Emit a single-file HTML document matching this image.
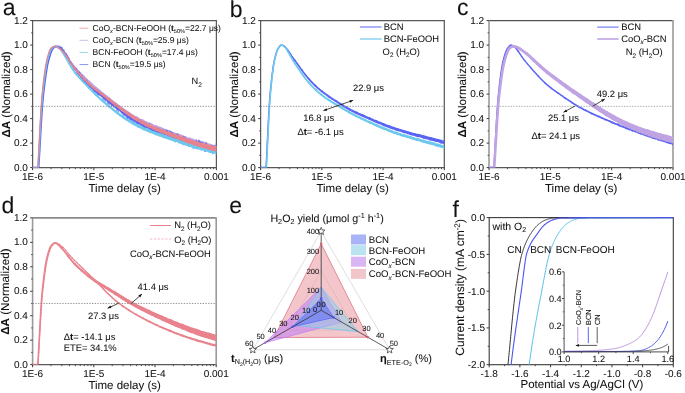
<!DOCTYPE html>
<html><head><meta charset="utf-8"><style>
html,body{margin:0;padding:0;background:#fff;}
svg{display:block;filter:blur(0.35px);}
text{font-family:"Liberation Sans", sans-serif;text-rendering:geometricPrecision;fill:#111;stroke:#111;stroke-width:0.05px;}
</style></head><body>
<svg width="685" height="393" viewBox="0 0 685 393">
<rect width="685" height="393" fill="#fff"/>
<line x1="32.60" y1="20.60" x2="216.40" y2="20.60" stroke="#5a5a5a" stroke-width="1.25" />
<line x1="32.60" y1="167.60" x2="216.40" y2="167.60" stroke="#5a5a5a" stroke-width="1.25" />
<line x1="32.60" y1="20.00" x2="32.60" y2="168.20" stroke="#5a5a5a" stroke-width="1.25" />
<line x1="216.40" y1="20.00" x2="216.40" y2="168.20" stroke="#5a5a5a" stroke-width="1.25" />
<line x1="30.20" y1="167.60" x2="32.60" y2="167.60" stroke="#3a3a3a" stroke-width="1.0" />
<text x="27.80" y="170.70" font-size="10.0" text-anchor="end" >0.0</text>
<line x1="31.20" y1="155.35" x2="32.60" y2="155.35" stroke="#3a3a3a" stroke-width="0.9" />
<line x1="30.20" y1="143.10" x2="32.60" y2="143.10" stroke="#3a3a3a" stroke-width="1.0" />
<text x="27.80" y="146.20" font-size="10.0" text-anchor="end" >0.2</text>
<line x1="31.20" y1="130.85" x2="32.60" y2="130.85" stroke="#3a3a3a" stroke-width="0.9" />
<line x1="30.20" y1="118.60" x2="32.60" y2="118.60" stroke="#3a3a3a" stroke-width="1.0" />
<text x="27.80" y="121.70" font-size="10.0" text-anchor="end" >0.4</text>
<line x1="31.20" y1="106.35" x2="32.60" y2="106.35" stroke="#3a3a3a" stroke-width="0.9" />
<line x1="30.20" y1="94.10" x2="32.60" y2="94.10" stroke="#3a3a3a" stroke-width="1.0" />
<text x="27.80" y="97.20" font-size="10.0" text-anchor="end" >0.6</text>
<line x1="31.20" y1="81.85" x2="32.60" y2="81.85" stroke="#3a3a3a" stroke-width="0.9" />
<line x1="30.20" y1="69.60" x2="32.60" y2="69.60" stroke="#3a3a3a" stroke-width="1.0" />
<text x="27.80" y="72.70" font-size="10.0" text-anchor="end" >0.8</text>
<line x1="31.20" y1="57.35" x2="32.60" y2="57.35" stroke="#3a3a3a" stroke-width="0.9" />
<line x1="30.20" y1="45.10" x2="32.60" y2="45.10" stroke="#3a3a3a" stroke-width="1.0" />
<text x="27.80" y="48.20" font-size="10.0" text-anchor="end" >1.0</text>
<line x1="31.20" y1="32.85" x2="32.60" y2="32.85" stroke="#3a3a3a" stroke-width="0.9" />
<line x1="30.20" y1="20.60" x2="32.60" y2="20.60" stroke="#3a3a3a" stroke-width="1.0" />
<text x="27.80" y="23.70" font-size="10.0" text-anchor="end" >1.2</text>
<line x1="32.60" y1="167.60" x2="32.60" y2="170.20" stroke="#3a3a3a" stroke-width="1.0" />
<text x="32.60" y="180.10" font-size="10.0" text-anchor="middle" >1E-6</text>
<line x1="51.04" y1="167.60" x2="51.04" y2="169.10" stroke="#3a3a3a" stroke-width="0.9" />
<line x1="61.83" y1="167.60" x2="61.83" y2="169.10" stroke="#3a3a3a" stroke-width="0.9" />
<line x1="69.49" y1="167.60" x2="69.49" y2="169.10" stroke="#3a3a3a" stroke-width="0.9" />
<line x1="75.42" y1="167.60" x2="75.42" y2="169.10" stroke="#3a3a3a" stroke-width="0.9" />
<line x1="80.27" y1="167.60" x2="80.27" y2="169.10" stroke="#3a3a3a" stroke-width="0.9" />
<line x1="84.38" y1="167.60" x2="84.38" y2="169.10" stroke="#3a3a3a" stroke-width="0.9" />
<line x1="87.93" y1="167.60" x2="87.93" y2="169.10" stroke="#3a3a3a" stroke-width="0.9" />
<line x1="91.06" y1="167.60" x2="91.06" y2="169.10" stroke="#3a3a3a" stroke-width="0.9" />
<line x1="93.87" y1="167.60" x2="93.87" y2="170.20" stroke="#3a3a3a" stroke-width="1.0" />
<text x="93.87" y="180.10" font-size="10.0" text-anchor="middle" >1E-5</text>
<line x1="112.31" y1="167.60" x2="112.31" y2="169.10" stroke="#3a3a3a" stroke-width="0.9" />
<line x1="123.10" y1="167.60" x2="123.10" y2="169.10" stroke="#3a3a3a" stroke-width="0.9" />
<line x1="130.75" y1="167.60" x2="130.75" y2="169.10" stroke="#3a3a3a" stroke-width="0.9" />
<line x1="136.69" y1="167.60" x2="136.69" y2="169.10" stroke="#3a3a3a" stroke-width="0.9" />
<line x1="141.54" y1="167.60" x2="141.54" y2="169.10" stroke="#3a3a3a" stroke-width="0.9" />
<line x1="145.64" y1="167.60" x2="145.64" y2="169.10" stroke="#3a3a3a" stroke-width="0.9" />
<line x1="149.20" y1="167.60" x2="149.20" y2="169.10" stroke="#3a3a3a" stroke-width="0.9" />
<line x1="152.33" y1="167.60" x2="152.33" y2="169.10" stroke="#3a3a3a" stroke-width="0.9" />
<line x1="155.13" y1="167.60" x2="155.13" y2="170.20" stroke="#3a3a3a" stroke-width="1.0" />
<text x="155.13" y="180.10" font-size="10.0" text-anchor="middle" >1E-4</text>
<line x1="173.58" y1="167.60" x2="173.58" y2="169.10" stroke="#3a3a3a" stroke-width="0.9" />
<line x1="184.36" y1="167.60" x2="184.36" y2="169.10" stroke="#3a3a3a" stroke-width="0.9" />
<line x1="192.02" y1="167.60" x2="192.02" y2="169.10" stroke="#3a3a3a" stroke-width="0.9" />
<line x1="197.96" y1="167.60" x2="197.96" y2="169.10" stroke="#3a3a3a" stroke-width="0.9" />
<line x1="202.81" y1="167.60" x2="202.81" y2="169.10" stroke="#3a3a3a" stroke-width="0.9" />
<line x1="206.91" y1="167.60" x2="206.91" y2="169.10" stroke="#3a3a3a" stroke-width="0.9" />
<line x1="210.46" y1="167.60" x2="210.46" y2="169.10" stroke="#3a3a3a" stroke-width="0.9" />
<line x1="213.60" y1="167.60" x2="213.60" y2="169.10" stroke="#3a3a3a" stroke-width="0.9" />
<line x1="216.40" y1="167.60" x2="216.40" y2="170.20" stroke="#3a3a3a" stroke-width="1.0" />
<text x="216.40" y="180.10" font-size="10.0" text-anchor="middle" >0.001</text>
<text x="124.70" y="191.90" font-size="11.5" text-anchor="middle" >Time delay (s)</text>
<text transform="translate(9.80,94.45) rotate(-90) scale(1.0,1)" font-size="11.6" text-anchor="middle" ><tspan font-weight="bold">ΔA</tspan> (Normalized)</text>
<text x="2.70" y="14.50" font-size="23" text-anchor="start" >a</text>
<clipPath id="cl1"><rect x="32.60" y="17.60" width="183.80" height="150.00"/></clipPath><g clip-path="url(#cl1)">
<path d="M32.60,167.60 L32.85,167.60 L33.09,167.60 L33.34,167.60 L33.58,167.60 L33.83,167.60 L34.07,167.60 L34.32,167.60 L34.56,167.60 L34.81,167.60 L35.05,167.60 L35.30,167.60 L35.54,167.60 L35.79,167.60 L36.03,167.60 L36.28,167.60 L36.52,167.60 L36.77,167.60 L37.01,167.60 L37.26,167.60 L37.50,167.60 L37.75,167.60 L37.99,167.60 L38.24,165.59 L38.48,161.53 L38.73,157.35 L38.97,153.04 L39.22,148.67 L39.46,144.26 L39.71,139.84 L39.95,135.42 L40.20,131.05 L40.44,126.75 L40.69,122.55 L40.93,118.46 L41.18,114.51 L41.42,110.78 L41.67,107.25 L41.91,103.95 L42.16,100.90 L42.40,98.11 L42.65,95.68 L42.89,93.33 L43.14,91.05 L43.38,88.83 L43.63,86.66 L43.87,84.57 L44.12,82.54 L44.36,80.57 L44.61,78.66 L44.85,76.81 L45.10,75.04 L45.34,73.34 L45.59,71.70 L45.83,70.13 L46.08,68.62 L46.32,67.20 L46.57,65.84 L46.81,64.56 L47.06,63.34 L47.30,62.20 L47.55,61.14 L47.79,60.16 L48.04,59.23 L48.28,58.33 L48.53,57.44 L48.77,56.58 L49.02,55.74 L49.26,54.93 L49.51,54.15 L49.75,53.39 L50.00,52.68 L50.24,52.00 L50.49,51.36 L50.73,50.76 L50.98,50.21 L51.23,49.72 L51.47,49.28 L51.72,48.89 L51.96,48.55 L52.21,48.27 L52.45,48.06 L52.70,47.86 L52.94,47.67 L53.19,47.48 L53.43,47.30 L53.68,47.13 L53.92,46.98 L54.17,46.84 L54.41,46.71 L54.66,46.60 L54.90,46.50 L55.15,46.43 L55.39,46.38 L55.64,46.34 L55.88,46.32" fill="none" stroke="#BFA3E3" stroke-width="1.4" stroke-linejoin="round"  stroke-linecap="round"/>
<path d="M55.88,46.32 L56.48,46.37 L57.08,46.49 L57.68,46.68 L58.28,46.94 L58.88,47.29 L59.48,47.69 L60.08,48.16 L60.68,48.68 L61.28,49.25 L61.88,49.87 L62.48,50.53 L62.57,50.63" fill="none" stroke="#BFA3E3" stroke-width="1.4458333333333333" stroke-linejoin="round"  stroke-linecap="round"/>
<path d="M62.57,50.60 L63.17,51.34 L63.77,52.06 L64.37,52.89 L64.97,53.63 L65.57,54.51 L66.17,55.30 L66.77,56.20 L67.37,57.04 L67.97,57.92 L68.57,58.82 L69.17,59.63 L69.26,59.79" fill="none" stroke="#BFA3E3" stroke-width="1.5374999999999999" stroke-linejoin="round"  stroke-linecap="round"/>
<path d="M69.26,59.74 L69.86,60.71 L70.46,61.50 L71.06,62.28 L71.66,63.21 L72.26,63.99 L72.86,64.66 L73.46,65.44 L74.06,66.13 L74.66,66.85 L75.26,67.57 L75.86,68.19 L75.95,68.33" fill="none" stroke="#BFA3E3" stroke-width="1.6291666666666667" stroke-linejoin="round"  stroke-linecap="round"/>
<path d="M75.95,68.36 L76.55,68.91 L77.15,69.58 L77.75,70.33 L78.35,70.90 L78.95,71.53 L79.55,72.19 L80.15,72.79 L80.75,73.40 L81.35,73.95 L81.95,74.69 L82.55,75.34 L82.63,75.35" fill="none" stroke="#BFA3E3" stroke-width="1.7208333333333332" stroke-linejoin="round"  stroke-linecap="round"/>
<path d="M82.63,75.45 L83.23,75.99 L83.83,76.52 L84.43,77.13 L85.03,77.80 L85.63,78.38 L86.23,78.85 L86.83,79.46 L87.43,80.07 L88.03,80.67 L88.63,81.31 L89.23,81.81 L89.32,81.89" fill="none" stroke="#BFA3E3" stroke-width="1.8125" stroke-linejoin="round"  stroke-linecap="round"/>
<path d="M89.32,81.76 L89.92,82.54 L90.52,82.99 L91.12,83.56 L91.72,84.03 L92.32,84.63 L92.92,85.15 L93.52,85.79 L94.12,86.14 L94.72,86.78 L95.32,87.20 L95.92,87.85 L96.01,87.88" fill="none" stroke="#BFA3E3" stroke-width="1.9041666666666666" stroke-linejoin="round"  stroke-linecap="round"/>
<path d="M96.01,87.72 L96.61,88.31 L97.21,88.84 L97.81,89.44 L98.41,89.75 L99.01,90.38 L99.61,90.80 L100.21,91.31 L100.81,91.87 L101.41,92.51 L102.01,92.85 L102.61,93.48 L102.70,93.41" fill="none" stroke="#BFA3E3" stroke-width="1.9958333333333331" stroke-linejoin="round"  stroke-linecap="round"/>
<path d="M102.70,93.28 L103.30,94.05 L103.90,94.32 L104.50,94.74 L105.10,95.43 L105.70,95.97 L106.30,96.11 L106.90,96.68 L107.50,97.35 L108.10,97.66 L108.70,98.10 L109.30,98.49 L109.39,98.74" fill="none" stroke="#BFA3E3" stroke-width="2.0875" stroke-linejoin="round"  stroke-linecap="round"/>
<path d="M109.39,98.55 L109.99,99.27 L110.59,99.90 L111.19,100.37 L111.79,100.64 L112.39,100.90 L112.99,101.50 L113.59,102.17 L114.19,102.65 L114.79,103.04 L115.39,103.33 L115.99,103.92 L116.08,103.97" fill="none" stroke="#BFA3E3" stroke-width="2.1791666666666667" stroke-linejoin="round"  stroke-linecap="round"/>
<path d="M116.08,103.96 L116.68,104.49 L117.28,104.78 L117.88,105.56 L118.48,105.99 L119.08,106.09 L119.68,106.60 L120.28,107.33 L120.88,107.49 L121.48,108.24 L122.08,108.48 L122.68,109.00 L122.76,108.97" fill="none" stroke="#BFA3E3" stroke-width="2.270833333333333" stroke-linejoin="round"  stroke-linecap="round"/>
<path d="M122.76,109.08 L123.36,109.25 L123.96,109.71 L124.56,110.12 L125.16,110.76 L125.76,111.18 L126.36,111.30 L126.96,112.10 L127.56,112.26 L128.16,112.56 L128.76,113.06 L129.36,113.73 L129.45,113.54" fill="none" stroke="#BFA3E3" stroke-width="2.3625" stroke-linejoin="round"  stroke-linecap="round"/>
<path d="M129.45,113.57 L130.05,113.99 L130.65,114.54 L131.25,114.94 L131.85,115.19 L132.45,115.36 L133.05,115.82 L133.65,116.36 L134.25,116.64 L134.85,116.87 L135.45,117.08 L136.05,117.43 L136.14,117.55" fill="none" stroke="#BFA3E3" stroke-width="2.4541666666666666" stroke-linejoin="round"  stroke-linecap="round"/>
<path d="M136.14,117.70 L136.74,117.92 L137.34,117.91 L137.94,118.66 L138.54,119.10 L139.14,119.35 L139.74,119.73 L140.34,120.04 L140.94,120.11 L141.54,120.57 L142.14,120.60 L142.74,120.72 L142.83,121.01" fill="none" stroke="#BFA3E3" stroke-width="2.5458333333333334" stroke-linejoin="round"  stroke-linecap="round"/>
<path d="M142.83,120.92 L143.43,121.18 L144.03,121.90 L144.63,122.02 L145.23,122.21 L145.83,122.55 L146.43,122.49 L147.03,123.05 L147.63,123.43 L148.23,123.50 L148.83,123.66 L149.43,124.04 L149.52,124.14" fill="none" stroke="#BFA3E3" stroke-width="2.6375" stroke-linejoin="round"  stroke-linecap="round"/>
<path d="M149.52,124.01 L150.12,124.53 L150.72,124.40 L151.32,124.62 L151.92,125.03 L152.52,125.56 L153.12,125.86 L153.72,126.03 L154.32,126.48 L154.92,126.31 L155.52,126.31 L156.12,126.88 L156.21,126.93" fill="none" stroke="#BFA3E3" stroke-width="2.7291666666666665" stroke-linejoin="round"  stroke-linecap="round"/>
<path d="M156.21,126.88 L156.81,126.92 L157.41,127.53 L158.01,127.52 L158.61,127.67 L159.21,127.98 L159.81,128.69 L160.41,128.20 L161.01,128.70 L161.61,128.87 L162.21,129.04 L162.81,129.45 L162.89,129.54" fill="none" stroke="#BFA3E3" stroke-width="2.8208333333333337" stroke-linejoin="round"  stroke-linecap="round"/>
<path d="M162.89,129.31 L163.49,130.11 L164.09,130.00 L164.69,130.39 L165.29,130.17 L165.89,130.65 L166.49,131.00 L167.09,131.42 L167.69,131.16 L168.29,131.56 L168.89,132.12 L169.49,132.33 L169.58,132.09" fill="none" stroke="#BFA3E3" stroke-width="2.9125" stroke-linejoin="round"  stroke-linecap="round"/>
<path d="M169.58,131.85 L170.18,132.35 L170.78,132.77 L171.38,132.68 L171.98,133.15 L172.58,133.37 L173.18,133.87 L173.78,133.73 L174.38,134.07 L174.98,134.01 L175.58,134.57 L176.18,134.44 L176.27,134.62" fill="none" stroke="#BFA3E3" stroke-width="3.0041666666666664" stroke-linejoin="round"  stroke-linecap="round"/>
<path d="M176.27,134.62 L176.87,134.72 L177.47,134.90 L178.07,134.97 L178.67,135.28 L179.27,135.80 L179.87,135.75 L180.47,135.78 L181.07,136.71 L181.67,136.45 L182.27,137.27 L182.87,137.18 L182.96,137.12" fill="none" stroke="#BFA3E3" stroke-width="3.095833333333333" stroke-linejoin="round"  stroke-linecap="round"/>
<path d="M182.96,137.01 L183.56,137.71 L184.16,137.95 L184.76,137.60 L185.36,137.63 L185.96,138.35 L186.56,138.76 L187.16,138.74 L187.76,139.13 L188.36,138.97 L188.96,139.38 L189.56,139.24 L189.65,139.50" fill="none" stroke="#BFA3E3" stroke-width="3.1875" stroke-linejoin="round"  stroke-linecap="round"/>
<path d="M189.65,139.41 L190.25,139.59 L190.85,139.80 L191.45,140.01 L192.05,140.63 L192.65,140.18 L193.25,140.41 L193.85,140.66 L194.45,141.59 L195.05,141.32 L195.65,141.03 L196.25,142.02 L196.34,141.71" fill="none" stroke="#BFA3E3" stroke-width="3.279166666666667" stroke-linejoin="round"  stroke-linecap="round"/>
<path d="M196.34,142.11 L196.94,142.24 L197.54,141.93 L198.14,142.52 L198.74,142.24 L199.34,142.24 L199.94,143.21 L200.54,143.35 L201.14,142.86 L201.74,143.75 L202.34,143.01 L202.94,143.49 L203.02,143.72" fill="none" stroke="#BFA3E3" stroke-width="3.3708333333333336" stroke-linejoin="round"  stroke-linecap="round"/>
<path d="M203.02,143.17 L203.62,143.52 L204.22,143.69 L204.82,144.48 L205.42,144.17 L206.02,144.22 L206.62,144.38 L207.22,144.69 L207.82,145.48 L208.42,145.35 L209.02,144.95 L209.62,145.77 L209.71,145.58" fill="none" stroke="#BFA3E3" stroke-width="3.4625" stroke-linejoin="round"  stroke-linecap="round"/>
<path d="M209.71,145.63 L210.31,145.69 L210.91,145.94 L211.51,146.25 L212.11,146.58 L212.71,146.39 L213.31,146.70 L213.91,146.66 L214.51,147.02 L215.11,146.88 L215.71,147.07 L216.31,147.34 L216.40,147.35" fill="none" stroke="#BFA3E3" stroke-width="3.5541666666666667" stroke-linejoin="round"  stroke-linecap="round"/>
<path d="M57.11,46.09 L57.56,46.66 L58.01,48.58 L58.46,46.41 L58.91,46.81 L59.36,47.46 L59.81,45.69 L60.26,47.70 L60.71,48.69 L61.16,49.95 L61.61,46.79 L62.06,48.36 L62.51,47.78 L62.96,52.11 L63.41,52.09 L63.86,49.26 L64.31,54.90 L64.76,55.48 L65.21,54.51 L65.66,55.01 L66.11,53.26 L66.56,53.21 L67.01,56.74 L67.46,54.93 L67.91,56.39 L68.36,57.43 L68.81,57.01 L69.26,60.16 L69.71,60.79 L70.16,63.77 L70.61,62.71 L71.06,64.12 L71.51,64.04 L71.96,65.66 L72.41,65.18 L72.86,64.83 L73.31,69.58 L73.76,70.21 L74.21,69.95 L74.66,69.79 L75.11,68.11 L75.56,68.19 L76.01,69.11 L76.46,68.39 L76.91,73.02 L77.36,71.43 L77.81,74.61 L78.26,72.44 L78.71,76.38 L79.16,76.27 L79.61,71.74 L80.06,73.52 L80.51,78.27 L80.96,76.15 L81.41,79.77 L81.86,76.75 L82.31,75.28 L82.76,79.20 L83.21,80.63 L83.66,78.00 L84.11,77.37 L84.56,79.38 L85.01,83.80 L85.46,83.01 L85.91,79.49 L86.36,80.78 L86.81,80.33 L87.26,80.53 L87.71,85.67 L88.16,82.19 L88.61,85.07 L89.06,84.81 L89.51,83.60 L89.96,87.52 L90.41,84.07 L90.86,87.81 L91.31,84.81 L91.76,87.20 L92.21,86.24 L92.66,87.02 L93.11,92.02 L93.56,91.32 L94.01,88.41 L94.46,92.64 L94.91,88.53 L95.36,90.13 L95.81,93.58 L96.26,92.52 L96.71,89.24 L97.16,95.60 L97.61,90.71 L98.06,91.36 L98.51,95.22 L98.96,92.55 L99.41,92.67 L99.86,91.49 L100.31,91.95 L100.76,95.70 L101.21,93.69 L101.66,96.53 L102.11,95.28 L102.56,96.20 L103.01,100.10 L103.46,97.12 L103.91,98.11 L104.36,100.53 L104.81,96.04 L105.26,96.18 L105.71,101.91 L106.16,101.62 L106.61,97.91 L107.06,97.83 L107.51,102.15 L107.96,103.96 L108.41,98.94 L108.86,104.77 L109.31,104.64 L109.76,102.97 L110.21,102.00 L110.66,100.03 L111.11,99.90 L111.56,107.08 L112.01,102.09 L112.46,105.91 L112.91,102.94 L113.36,107.53 L113.81,106.20 L114.26,104.29 L114.71,103.76 L115.16,108.23 L115.61,103.66 L116.06,105.22 L116.51,108.10 L116.96,110.69 L117.41,109.24 L117.86,107.04 L118.31,112.29 L118.76,107.15 L119.21,106.05 L119.66,108.35 L120.11,110.07 L120.56,107.42 L121.01,108.66 L121.46,110.51 L121.91,112.45 L122.36,109.33 L122.81,111.48 L123.26,116.00 L123.71,117.05 L124.16,114.82 L124.61,115.43 L125.06,114.91 L125.51,111.68 L125.96,111.15 L126.41,111.33 L126.86,118.83 L127.31,117.47 L127.76,119.91 L128.21,112.58 L128.66,117.88 L129.11,116.93 L129.56,119.26 L130.01,116.19 L130.46,122.08 L130.91,114.76 L131.36,118.93 L131.81,120.80 L132.26,122.44 L132.71,121.37 L133.16,121.37 L133.61,122.40 L134.06,123.70 L134.51,119.24 L134.96,122.31 L135.41,124.39 L135.86,124.41 L136.31,120.82 L136.76,124.24 L137.21,125.12 L137.66,122.89 L138.11,123.58 L138.56,121.74 L139.01,123.70 L139.46,124.16 L139.91,119.83 L140.36,124.89 L140.81,128.19 L141.26,127.44 L141.71,126.35 L142.16,123.60 L142.61,126.85 L143.06,125.72 L143.51,124.71 L143.96,128.44 L144.41,121.99 L144.86,128.10 L145.31,121.92 L145.76,127.21 L146.21,126.34 L146.66,124.31 L147.11,128.70 L147.56,127.10 L148.01,128.35 L148.46,131.31 L148.91,125.51 L149.36,123.48 L149.81,126.29 L150.26,129.91 L150.71,125.76 L151.16,125.64 L151.61,132.56 L152.06,130.50 L152.51,128.68 L152.96,133.00 L153.41,127.97 L153.86,131.28 L154.31,127.13 L154.76,129.46 L155.21,133.12 L155.66,134.31 L156.11,134.17 L156.56,129.70 L157.01,131.74 L157.46,129.40 L157.91,127.86 L158.36,131.43 L158.81,134.82 L159.26,135.10 L159.71,133.97 L160.16,136.41 L160.61,130.16 L161.06,129.29 L161.51,132.14 L161.96,130.62 L162.41,130.19 L162.86,132.28 L163.31,134.48 L163.76,133.37 L164.21,131.80 L164.66,137.05 L165.11,138.61 L165.56,133.61 L166.01,130.07 L166.46,129.80 L166.91,138.22 L167.36,130.20 L167.81,136.93 L168.26,135.73 L168.71,133.30 L169.16,138.25 L169.61,130.73 L170.06,132.04 L170.51,135.38 L170.96,131.24 L171.41,139.45 L171.86,133.67 L172.31,132.86 L172.76,132.06 L173.21,138.09 L173.66,136.40 L174.11,138.42 L174.56,138.84 L175.01,140.55 L175.46,142.26 L175.91,139.62 L176.36,134.82 L176.81,137.80 L177.26,134.91 L177.71,133.33 L178.16,138.24 L178.61,140.89 L179.06,135.51 L179.51,136.63 L179.96,137.54 L180.41,141.36 L180.86,139.67 L181.31,140.81 L181.76,142.45 L182.21,138.80 L182.66,143.14 L183.11,144.50 L183.56,136.02 L184.01,145.10 L184.46,143.03 L184.91,136.90 L185.36,140.48 L185.81,142.46 L186.26,145.65 L186.71,140.10 L187.16,142.30 L187.61,145.78 L188.06,145.05 L188.51,146.79 L188.96,141.75 L189.41,143.92 L189.86,139.23 L190.31,144.98 L190.76,146.17 L191.21,144.39 L191.66,145.36 L192.11,139.99 L192.56,147.64 L193.01,148.66 L193.46,148.77 L193.91,144.07 L194.36,147.00 L194.81,141.94 L195.26,148.60 L195.71,148.13 L196.16,142.63 L196.61,139.80 L197.06,143.91 L197.51,145.26 L197.96,147.83 L198.41,144.81 L198.86,139.78 L199.31,148.67 L199.76,140.41 L200.21,148.83 L200.66,141.86 L201.11,143.81 L201.56,149.07 L202.01,141.83 L202.46,142.04 L202.91,146.34 L203.36,148.83 L203.81,150.28 L204.26,148.68 L204.71,151.74 L205.16,146.65 L205.61,152.02 L206.06,142.18 L206.51,143.85 L206.96,147.49 L207.41,144.86 L207.86,150.07 L208.31,149.13 L208.76,147.89 L209.21,151.75 L209.66,148.55 L210.11,145.75 L210.56,146.67 L211.01,152.23 L211.46,153.00 L211.91,144.94 L212.36,152.64 L212.81,154.14 L213.26,148.99 L213.71,149.68 L214.16,145.36 L214.61,149.45 L215.06,149.16 L215.51,150.49 L215.96,143.67" fill="none" stroke="#5A64F2" stroke-width="0.6" stroke-linejoin="round" />
<path d="M32.60,167.60 L32.85,167.60 L33.09,167.60 L33.34,167.60 L33.58,167.60 L33.83,167.60 L34.07,167.60 L34.32,167.60 L34.56,167.60 L34.81,167.60 L35.05,167.60 L35.30,167.60 L35.54,167.60 L35.79,167.60 L36.03,167.60 L36.28,167.60 L36.52,167.60 L36.77,167.60 L37.01,167.60 L37.26,167.60 L37.50,167.60 L37.75,167.60 L37.99,167.60 L38.24,167.60 L38.48,167.60 L38.73,167.60 L38.97,163.72 L39.22,159.72 L39.46,155.62 L39.71,151.44 L39.95,147.21 L40.20,142.93 L40.44,138.66 L40.69,134.40 L40.93,130.18 L41.18,126.03 L41.42,121.99 L41.67,118.07 L41.91,114.28 L42.16,110.66 L42.40,107.21 L42.65,104.04 L42.89,101.10 L43.14,98.43 L43.38,95.98 L43.63,93.70 L43.87,91.50 L44.12,89.34 L44.36,87.24 L44.61,85.19 L44.85,83.20 L45.10,81.28 L45.34,79.42 L45.59,77.61 L45.83,75.86 L46.08,74.17 L46.32,72.56 L46.57,71.01 L46.81,69.52 L47.06,68.09 L47.30,66.73 L47.55,65.45 L47.79,64.23 L48.04,63.07 L48.28,61.99 L48.53,60.97 L48.77,60.03 L49.02,59.14 L49.26,58.27 L49.51,57.42 L49.75,56.58 L50.00,55.77 L50.24,54.98 L50.49,54.22 L50.73,53.49 L50.98,52.79 L51.23,52.13 L51.47,51.51 L51.72,50.92 L51.96,50.38 L52.21,49.87 L52.45,49.43 L52.70,49.04 L52.94,48.69 L53.19,48.40 L53.43,48.16 L53.68,47.97 L53.92,47.77 L54.17,47.59 L54.41,47.41 L54.66,47.24 L54.90,47.09 L55.15,46.94 L55.39,46.81 L55.64,46.69 L55.88,46.58 L56.13,46.49 L56.37,46.42 L56.62,46.37 L56.86,46.34 L57.11,46.32" fill="none" stroke="#5A64F2" stroke-width="1.5" stroke-linejoin="round"  stroke-linecap="round"/>
<path d="M57.11,46.90 L57.71,46.40 L58.31,46.41 L58.91,47.14 L59.51,47.18 L60.11,47.51 L60.71,48.25 L61.31,48.06 L61.91,49.27 L62.51,49.82 L63.11,51.23 L63.71,52.00 L63.74,51.53" fill="none" stroke="#5A64F2" stroke-width="1.5270833333333333" stroke-linejoin="round"  stroke-linecap="round"/>
<path d="M63.74,51.25 L64.34,52.36 L64.94,52.82 L65.54,54.13 L66.14,55.56 L66.74,56.65 L67.34,57.11 L67.94,57.92 L68.54,58.78 L69.14,60.32 L69.74,61.71 L70.34,61.71 L70.38,62.23" fill="none" stroke="#5A64F2" stroke-width="1.58125" stroke-linejoin="round"  stroke-linecap="round"/>
<path d="M70.38,62.59 L70.98,62.60 L71.58,63.77 L72.18,64.74 L72.78,66.22 L73.38,66.62 L73.98,67.50 L74.58,68.65 L75.18,68.77 L75.78,70.35 L76.38,70.32 L76.98,71.57 L77.02,71.60" fill="none" stroke="#5A64F2" stroke-width="1.6354166666666667" stroke-linejoin="round"  stroke-linecap="round"/>
<path d="M77.02,71.27 L77.62,71.94 L78.22,73.11 L78.82,73.71 L79.42,74.35 L80.02,75.11 L80.62,75.97 L81.22,76.19 L81.82,76.94 L82.42,78.19 L83.02,78.88 L83.62,79.42 L83.66,79.42" fill="none" stroke="#5A64F2" stroke-width="1.6895833333333332" stroke-linejoin="round"  stroke-linecap="round"/>
<path d="M83.66,79.89 L84.26,80.24 L84.86,81.23 L85.46,81.04 L86.06,82.37 L86.66,83.11 L87.26,83.86 L87.86,83.69 L88.46,84.29 L89.06,85.71 L89.66,85.35 L90.26,86.98 L90.29,86.35" fill="none" stroke="#5A64F2" stroke-width="1.74375" stroke-linejoin="round"  stroke-linecap="round"/>
<path d="M90.29,86.88 L90.89,86.41 L91.49,87.11 L92.09,88.33 L92.69,88.23 L93.29,88.53 L93.89,90.07 L94.49,90.01 L95.09,91.02 L95.69,90.59 L96.29,91.46 L96.89,92.34 L96.93,92.11" fill="none" stroke="#5A64F2" stroke-width="1.7979166666666666" stroke-linejoin="round"  stroke-linecap="round"/>
<path d="M96.93,91.43 L97.53,92.17 L98.13,93.32 L98.73,94.12 L99.33,94.67 L99.93,93.94 L100.53,94.96 L101.13,95.78 L101.73,95.89 L102.33,96.61 L102.93,96.38 L103.53,96.68 L103.57,97.32" fill="none" stroke="#5A64F2" stroke-width="1.8520833333333333" stroke-linejoin="round"  stroke-linecap="round"/>
<path d="M103.57,96.75 L104.17,97.12 L104.77,98.33 L105.37,98.75 L105.97,99.30 L106.57,99.16 L107.17,99.69 L107.77,100.20 L108.37,101.60 L108.97,102.30 L109.57,102.68 L110.17,101.96 L110.20,102.58" fill="none" stroke="#5A64F2" stroke-width="1.90625" stroke-linejoin="round"  stroke-linecap="round"/>
<path d="M110.20,101.93 L110.80,103.73 L111.40,103.48 L112.00,104.42 L112.60,104.25 L113.20,104.94 L113.80,105.50 L114.40,105.85 L115.00,106.59 L115.60,106.20 L116.20,107.70 L116.80,108.40 L116.84,107.91" fill="none" stroke="#5A64F2" stroke-width="1.9604166666666667" stroke-linejoin="round"  stroke-linecap="round"/>
<path d="M116.84,107.43 L117.44,108.32 L118.04,109.23 L118.64,109.20 L119.24,109.35 L119.84,109.78 L120.44,110.77 L121.04,110.48 L121.64,112.28 L122.24,112.60 L122.84,112.90 L123.44,113.59 L123.48,113.07" fill="none" stroke="#5A64F2" stroke-width="2.0145833333333334" stroke-linejoin="round"  stroke-linecap="round"/>
<path d="M123.48,113.27 L124.08,113.37 L124.68,114.11 L125.28,114.40 L125.88,115.58 L126.48,115.73 L127.08,115.31 L127.68,116.74 L128.28,116.89 L128.88,117.35 L129.48,117.81 L130.08,117.58 L130.12,117.75" fill="none" stroke="#5A64F2" stroke-width="2.0687499999999996" stroke-linejoin="round"  stroke-linecap="round"/>
<path d="M130.12,118.38 L130.72,118.74 L131.32,118.83 L131.92,119.33 L132.52,119.70 L133.12,119.50 L133.72,120.37 L134.32,119.69 L134.92,120.47 L135.52,121.02 L136.12,120.64 L136.72,121.52 L136.75,121.77" fill="none" stroke="#5A64F2" stroke-width="2.122916666666667" stroke-linejoin="round"  stroke-linecap="round"/>
<path d="M136.75,122.00 L137.35,122.30 L137.95,122.00 L138.55,123.47 L139.15,123.33 L139.75,123.12 L140.35,123.94 L140.95,124.10 L141.55,124.34 L142.15,124.40 L142.75,125.67 L143.35,125.39 L143.39,125.18" fill="none" stroke="#5A64F2" stroke-width="2.177083333333333" stroke-linejoin="round"  stroke-linecap="round"/>
<path d="M143.39,125.51 L143.99,125.90 L144.59,126.55 L145.19,125.25 L145.79,126.51 L146.39,126.99 L146.99,126.47 L147.59,126.97 L148.19,126.66 L148.79,127.16 L149.39,127.71 L149.99,127.51 L150.03,128.19" fill="none" stroke="#5A64F2" stroke-width="2.23125" stroke-linejoin="round"  stroke-linecap="round"/>
<path d="M150.03,127.77 L150.63,129.12 L151.23,128.77 L151.83,128.95 L152.43,129.96 L153.03,129.53 L153.63,130.49 L154.23,130.12 L154.83,130.65 L155.43,129.64 L156.03,130.75 L156.63,131.25 L156.67,130.83" fill="none" stroke="#5A64F2" stroke-width="2.2854166666666664" stroke-linejoin="round"  stroke-linecap="round"/>
<path d="M156.67,130.05 L157.27,131.79 L157.87,130.70 L158.47,131.45 L159.07,131.16 L159.67,131.94 L160.27,132.36 L160.87,131.63 L161.47,133.37 L162.07,132.68 L162.67,133.08 L163.27,133.42 L163.30,133.27" fill="none" stroke="#5A64F2" stroke-width="2.339583333333333" stroke-linejoin="round"  stroke-linecap="round"/>
<path d="M163.30,133.03 L163.90,133.11 L164.50,133.97 L165.10,134.02 L165.70,133.75 L166.30,134.72 L166.90,134.20 L167.50,133.92 L168.10,134.53 L168.70,134.39 L169.30,134.80 L169.90,136.06 L169.94,135.63" fill="none" stroke="#5A64F2" stroke-width="2.39375" stroke-linejoin="round"  stroke-linecap="round"/>
<path d="M169.94,135.43 L170.54,136.55 L171.14,136.50 L171.74,135.47 L172.34,137.35 L172.94,137.48 L173.54,136.14 L174.14,137.84 L174.74,137.20 L175.34,137.50 L175.94,138.59 L176.54,137.50 L176.58,137.97" fill="none" stroke="#5A64F2" stroke-width="2.4479166666666665" stroke-linejoin="round"  stroke-linecap="round"/>
<path d="M176.58,138.01 L177.18,138.98 L177.78,138.80 L178.38,138.54 L178.98,139.68 L179.58,139.59 L180.18,139.41 L180.78,138.73 L181.38,139.86 L181.98,139.76 L182.58,139.51 L183.18,139.43 L183.21,140.26" fill="none" stroke="#5A64F2" stroke-width="2.502083333333333" stroke-linejoin="round"  stroke-linecap="round"/>
<path d="M183.21,140.31 L183.81,139.77 L184.41,140.56 L185.01,141.17 L185.61,140.98 L186.21,140.82 L186.81,141.61 L187.41,141.50 L188.01,142.36 L188.61,142.09 L189.21,143.14 L189.81,143.25 L189.85,142.42" fill="none" stroke="#5A64F2" stroke-width="2.55625" stroke-linejoin="round"  stroke-linecap="round"/>
<path d="M189.85,142.87 L190.45,142.12 L191.05,142.07 L191.65,143.72 L192.25,143.70 L192.85,143.58 L193.45,143.26 L194.05,143.27 L194.65,144.23 L195.25,144.18 L195.85,144.40 L196.45,144.65 L196.49,144.41" fill="none" stroke="#5A64F2" stroke-width="2.6104166666666666" stroke-linejoin="round"  stroke-linecap="round"/>
<path d="M196.49,144.90 L197.09,143.99 L197.69,144.27 L198.29,145.84 L198.89,145.88 L199.49,145.97 L200.09,144.53 L200.69,144.73 L201.29,145.29 L201.89,145.75 L202.49,146.28 L203.09,145.44 L203.13,146.21" fill="none" stroke="#5A64F2" stroke-width="2.6645833333333333" stroke-linejoin="round"  stroke-linecap="round"/>
<path d="M203.13,146.29 L203.73,145.53 L204.33,145.72 L204.93,147.02 L205.53,146.92 L206.13,147.23 L206.73,146.88 L207.33,147.23 L207.93,146.86 L208.53,147.27 L209.13,148.19 L209.73,148.52 L209.76,147.87" fill="none" stroke="#5A64F2" stroke-width="2.71875" stroke-linejoin="round"  stroke-linecap="round"/>
<path d="M209.76,147.03 L210.36,147.26 L210.96,148.77 L211.56,148.55 L212.16,148.98 L212.76,148.02 L213.36,148.58 L213.96,148.39 L214.56,149.62 L215.16,148.89 L215.76,149.59 L216.36,150.39 L216.40,149.43" fill="none" stroke="#5A64F2" stroke-width="2.7729166666666663" stroke-linejoin="round"  stroke-linecap="round"/>
<path d="M32.60,167.60 L32.85,167.60 L33.09,167.60 L33.34,167.60 L33.58,167.60 L33.83,167.60 L34.07,167.60 L34.32,167.60 L34.56,167.60 L34.81,167.60 L35.05,167.60 L35.30,167.60 L35.54,167.60 L35.79,167.60 L36.03,167.60 L36.28,167.60 L36.52,167.60 L36.77,167.60 L37.01,167.60 L37.26,167.60 L37.50,167.60 L37.75,167.60 L37.99,167.60 L38.24,165.52 L38.48,161.31 L38.73,156.96 L38.97,152.49 L39.22,147.96 L39.46,143.39 L39.71,138.81 L39.95,134.24 L40.20,129.74 L40.44,125.32 L40.69,121.00 L40.93,116.83 L41.18,112.81 L41.42,109.05 L41.67,105.52 L41.91,102.24 L42.16,99.24 L42.40,96.55 L42.65,94.11 L42.89,91.74 L43.14,89.42 L43.38,87.16 L43.63,84.97 L43.87,82.86 L44.12,80.81 L44.36,78.83 L44.61,76.92 L44.85,75.07 L45.10,73.31 L45.34,71.62 L45.59,70.00 L45.83,68.44 L46.08,66.97 L46.32,65.58 L46.57,64.27 L46.81,63.04 L47.06,61.88 L47.30,60.79 L47.55,59.81 L47.79,58.86 L48.04,57.93 L48.28,57.03 L48.53,56.14 L48.77,55.29 L49.02,54.47 L49.26,53.67 L49.51,52.92 L49.75,52.19 L50.00,51.53 L50.24,50.90 L50.49,50.32 L50.73,49.80 L50.98,49.32 L51.23,48.92 L51.47,48.57 L51.72,48.29 L51.96,48.06 L52.21,47.85 L52.45,47.65 L52.70,47.46 L52.94,47.27 L53.19,47.10 L53.43,46.94 L53.68,46.80 L53.92,46.68 L54.17,46.57 L54.41,46.47 L54.66,46.40 L54.90,46.36 L55.15,46.33 L55.27,46.32" fill="none" stroke="#6CC8EC" stroke-width="1.6" stroke-linejoin="round"  stroke-linecap="round"/>
<path d="M55.27,46.32 L55.87,46.38 L56.47,46.53 L57.07,46.77 L57.67,47.08 L58.27,47.49 L58.87,47.98 L59.47,48.54 L60.07,49.19 L60.67,49.87 L61.27,50.63 L61.87,51.43 L61.98,51.60" fill="none" stroke="#6CC8EC" stroke-width="1.6416666666666668" stroke-linejoin="round"  stroke-linecap="round"/>
<path d="M61.98,51.58 L62.58,52.46 L63.18,53.40 L63.78,54.33 L64.38,55.26 L64.98,56.28 L65.58,57.30 L66.18,58.40 L66.78,59.45 L67.38,60.51 L67.98,61.57 L68.58,62.62 L68.70,62.80" fill="none" stroke="#6CC8EC" stroke-width="1.725" stroke-linejoin="round"  stroke-linecap="round"/>
<path d="M68.70,62.86 L69.30,63.88 L69.90,64.85 L70.50,65.93 L71.10,66.87 L71.70,67.86 L72.30,68.76 L72.90,69.63 L73.50,70.48 L74.10,71.32 L74.70,72.10 L75.30,72.84 L75.41,73.03" fill="none" stroke="#6CC8EC" stroke-width="1.8083333333333333" stroke-linejoin="round"  stroke-linecap="round"/>
<path d="M75.41,73.09 L76.01,73.83 L76.61,74.59 L77.21,75.25 L77.81,75.92 L78.41,76.64 L79.01,77.21 L79.61,77.97 L80.21,78.59 L80.81,79.20 L81.41,79.85 L82.01,80.55 L82.12,80.66" fill="none" stroke="#6CC8EC" stroke-width="1.8916666666666668" stroke-linejoin="round"  stroke-linecap="round"/>
<path d="M82.12,80.61 L82.72,81.29 L83.32,81.96 L83.92,82.55 L84.52,83.11 L85.12,83.82 L85.72,84.38 L86.32,85.00 L86.92,85.61 L87.52,86.26 L88.12,86.81 L88.72,87.55 L88.84,87.63" fill="none" stroke="#6CC8EC" stroke-width="1.975" stroke-linejoin="round"  stroke-linecap="round"/>
<path d="M88.84,87.76 L89.44,88.21 L90.04,88.91 L90.64,89.57 L91.24,89.93 L91.84,90.56 L92.44,91.34 L93.04,91.95 L93.64,92.50 L94.24,92.96 L94.84,93.62 L95.44,94.34 L95.55,94.35" fill="none" stroke="#6CC8EC" stroke-width="2.0583333333333336" stroke-linejoin="round"  stroke-linecap="round"/>
<path d="M95.55,94.47 L96.15,95.03 L96.75,95.41 L97.35,96.20 L97.95,96.62 L98.55,97.30 L99.15,97.67 L99.75,98.50 L100.35,98.94 L100.95,99.52 L101.55,99.90 L102.15,100.57 L102.27,100.63" fill="none" stroke="#6CC8EC" stroke-width="2.1416666666666666" stroke-linejoin="round"  stroke-linecap="round"/>
<path d="M102.27,100.66 L102.87,101.20 L103.47,101.64 L104.07,102.30 L104.67,102.68 L105.27,103.18 L105.87,103.64 L106.47,104.34 L107.07,104.63 L107.67,105.18 L108.27,105.61 L108.87,106.33 L108.98,106.36" fill="none" stroke="#6CC8EC" stroke-width="2.225" stroke-linejoin="round"  stroke-linecap="round"/>
<path d="M108.98,106.39 L109.58,106.87 L110.18,107.15 L110.78,107.81 L111.38,108.25 L111.98,108.62 L112.58,109.06 L113.18,109.96 L113.78,110.06 L114.38,110.60 L114.98,111.06 L115.58,111.66 L115.69,111.70" fill="none" stroke="#6CC8EC" stroke-width="2.3083333333333336" stroke-linejoin="round"  stroke-linecap="round"/>
<path d="M115.69,111.50 L116.29,112.15 L116.89,112.56 L117.49,113.23 L118.09,113.29 L118.69,113.89 L119.29,114.41 L119.89,115.07 L120.49,115.29 L121.09,115.70 L121.69,116.22 L122.29,116.47 L122.41,116.65" fill="none" stroke="#6CC8EC" stroke-width="2.3916666666666666" stroke-linejoin="round"  stroke-linecap="round"/>
<path d="M122.41,116.40 L123.01,117.07 L123.61,117.70 L124.21,118.02 L124.81,118.17 L125.41,118.79 L126.01,119.28 L126.61,119.36 L127.21,119.92 L127.81,120.18 L128.41,120.49 L129.01,120.89 L129.12,121.07" fill="none" stroke="#6CC8EC" stroke-width="2.475" stroke-linejoin="round"  stroke-linecap="round"/>
<path d="M129.12,120.90 L129.72,121.35 L130.32,121.53 L130.92,122.10 L131.52,122.27 L132.12,123.00 L132.72,123.25 L133.32,123.24 L133.92,124.02 L134.52,124.01 L135.12,124.50 L135.72,124.86 L135.83,124.89" fill="none" stroke="#6CC8EC" stroke-width="2.5583333333333336" stroke-linejoin="round"  stroke-linecap="round"/>
<path d="M135.83,124.78 L136.43,125.07 L137.03,125.46 L137.63,125.58 L138.23,126.33 L138.83,126.15 L139.43,126.89 L140.03,126.79 L140.63,127.13 L141.23,127.46 L141.83,127.51 L142.43,127.84 L142.55,128.12" fill="none" stroke="#6CC8EC" stroke-width="2.6416666666666666" stroke-linejoin="round"  stroke-linecap="round"/>
<path d="M142.55,128.03 L143.15,128.35 L143.75,128.92 L144.35,129.26 L144.95,128.89 L145.55,129.48 L146.15,129.46 L146.75,130.17 L147.35,130.10 L147.95,130.73 L148.55,130.74 L149.15,130.70 L149.26,131.00" fill="none" stroke="#6CC8EC" stroke-width="2.725" stroke-linejoin="round"  stroke-linecap="round"/>
<path d="M149.26,130.64 L149.86,131.05 L150.46,131.74 L151.06,131.45 L151.66,131.92 L152.26,132.07 L152.86,132.28 L153.46,132.83 L154.06,132.63 L154.66,133.21 L155.26,133.39 L155.86,133.81 L155.98,133.53" fill="none" stroke="#6CC8EC" stroke-width="2.8083333333333336" stroke-linejoin="round"  stroke-linecap="round"/>
<path d="M155.98,133.55 L156.58,134.07 L157.18,133.91 L157.78,134.23 L158.38,134.48 L158.98,134.86 L159.58,135.11 L160.18,134.71 L160.78,134.94 L161.38,135.45 L161.98,135.87 L162.58,135.86 L162.69,135.87" fill="none" stroke="#6CC8EC" stroke-width="2.8916666666666666" stroke-linejoin="round"  stroke-linecap="round"/>
<path d="M162.69,135.71 L163.29,136.46 L163.89,136.12 L164.49,136.15 L165.09,136.32 L165.69,136.51 L166.29,137.29 L166.89,136.98 L167.49,137.69 L168.09,138.01 L168.69,138.33 L169.29,138.37 L169.40,138.16" fill="none" stroke="#6CC8EC" stroke-width="2.975" stroke-linejoin="round"  stroke-linecap="round"/>
<path d="M169.40,138.09 L170.00,138.47 L170.60,138.85 L171.20,138.95 L171.80,138.79 L172.40,139.40 L173.00,139.03 L173.60,139.41 L174.20,140.22 L174.80,139.96 L175.40,139.99 L176.00,140.64 L176.12,140.43" fill="none" stroke="#6CC8EC" stroke-width="3.0583333333333336" stroke-linejoin="round"  stroke-linecap="round"/>
<path d="M176.12,140.38 L176.72,140.17 L177.32,140.40 L177.92,140.82 L178.52,141.08 L179.12,141.85 L179.72,141.41 L180.32,142.17 L180.92,142.37 L181.52,142.17 L182.12,142.90 L182.72,142.89 L182.83,142.68" fill="none" stroke="#6CC8EC" stroke-width="3.1416666666666666" stroke-linejoin="round"  stroke-linecap="round"/>
<path d="M182.83,142.67 L183.43,142.65 L184.03,143.04 L184.63,143.67 L185.23,143.50 L185.83,143.37 L186.43,143.74 L187.03,144.03 L187.63,143.94 L188.23,144.51 L188.83,144.17 L189.43,145.13 L189.54,144.85" fill="none" stroke="#6CC8EC" stroke-width="3.225" stroke-linejoin="round"  stroke-linecap="round"/>
<path d="M189.54,144.52 L190.14,144.63 L190.74,145.32 L191.34,145.21 L191.94,145.99 L192.54,145.78 L193.14,145.98 L193.74,146.48 L194.34,146.03 L194.94,146.75 L195.54,146.83 L196.14,146.78 L196.26,146.89" fill="none" stroke="#6CC8EC" stroke-width="3.3083333333333336" stroke-linejoin="round"  stroke-linecap="round"/>
<path d="M196.26,147.38 L196.86,146.55 L197.46,147.62 L198.06,147.02 L198.66,147.94 L199.26,147.38 L199.86,147.44 L200.46,148.09 L201.06,148.71 L201.66,148.16 L202.26,148.57 L202.86,148.86 L202.97,148.78" fill="none" stroke="#6CC8EC" stroke-width="3.3916666666666666" stroke-linejoin="round"  stroke-linecap="round"/>
<path d="M202.97,148.49 L203.57,148.98 L204.17,148.55 L204.77,149.21 L205.37,149.72 L205.97,149.40 L206.57,149.43 L207.17,149.40 L207.77,150.28 L208.37,150.13 L208.97,150.84 L209.57,150.80 L209.69,150.56" fill="none" stroke="#6CC8EC" stroke-width="3.475" stroke-linejoin="round"  stroke-linecap="round"/>
<path d="M209.69,150.09 L210.29,151.20 L210.89,151.37 L211.49,151.39 L212.09,151.56 L212.69,151.54 L213.29,151.73 L213.89,151.82 L214.49,151.88 L215.09,151.64 L215.69,151.64 L216.29,152.49 L216.40,152.25" fill="none" stroke="#6CC8EC" stroke-width="3.5583333333333336" stroke-linejoin="round"  stroke-linecap="round"/>
<path d="M32.60,167.60 L32.85,167.60 L33.09,167.60 L33.34,167.60 L33.58,167.60 L33.83,167.60 L34.07,167.60 L34.32,167.60 L34.56,167.60 L34.81,167.60 L35.05,167.60 L35.30,167.60 L35.54,167.60 L35.79,167.60 L36.03,167.60 L36.28,167.60 L36.52,167.60 L36.77,167.60 L37.01,167.60 L37.26,167.60 L37.50,167.60 L37.75,167.60 L37.99,164.33 L38.24,159.88 L38.48,155.30 L38.73,150.61 L38.97,145.85 L39.22,141.06 L39.46,136.29 L39.71,131.55 L39.95,126.87 L40.20,122.33 L40.44,117.94 L40.69,113.73 L40.93,109.71 L41.18,105.93 L41.42,102.51 L41.67,99.40 L41.91,96.59 L42.16,94.01 L42.40,91.51 L42.65,89.11 L42.89,86.77 L43.14,84.50 L43.38,82.30 L43.63,80.17 L43.87,78.13 L44.12,76.17 L44.36,74.28 L44.61,72.46 L44.85,70.72 L45.10,69.08 L45.34,67.52 L45.59,66.04 L45.83,64.63 L46.08,63.31 L46.32,62.10 L46.57,60.96 L46.81,59.91 L47.06,58.91 L47.30,57.94 L47.55,57.00 L47.79,56.08 L48.04,55.19 L48.28,54.33 L48.53,53.51 L48.77,52.73 L49.02,52.00 L49.26,51.31 L49.51,50.67 L49.75,50.08 L50.00,49.57 L50.24,49.11 L50.49,48.72 L50.73,48.39 L50.98,48.13 L51.23,47.91 L51.47,47.70 L51.72,47.50 L51.96,47.30 L52.21,47.12 L52.45,46.96 L52.70,46.81 L52.94,46.67 L53.19,46.56 L53.43,46.46 L53.68,46.40 L53.92,46.35 L54.17,46.33 L54.23,46.33" fill="none" stroke="#E8828C" stroke-width="1.2" stroke-linejoin="round"  stroke-linecap="round"/>
<path d="M54.23,46.32 L54.83,46.37 L55.43,46.49 L56.03,46.67 L56.63,46.89 L57.23,47.18 L57.83,47.50 L58.43,47.84 L59.03,48.19 L59.63,48.56 L60.23,48.94 L60.83,49.39 L60.98,49.51" fill="none" stroke="#E8828C" stroke-width="1.275" stroke-linejoin="round"  stroke-linecap="round"/>
<path d="M60.98,49.49 L61.58,50.02 L62.18,50.64 L62.78,51.25 L63.38,51.95 L63.98,52.72 L64.58,53.50 L65.18,54.30 L65.78,55.18 L66.38,56.07 L66.98,56.95 L67.58,57.90 L67.74,58.14" fill="none" stroke="#E8828C" stroke-width="1.4249999999999998" stroke-linejoin="round"  stroke-linecap="round"/>
<path d="M67.74,58.10 L68.34,59.06 L68.94,59.98 L69.54,60.92 L70.14,61.92 L70.74,62.79 L71.34,63.75 L71.94,64.59 L72.54,65.46 L73.14,66.33 L73.74,67.13 L74.34,67.88 L74.50,68.11" fill="none" stroke="#E8828C" stroke-width="1.575" stroke-linejoin="round"  stroke-linecap="round"/>
<path d="M74.50,68.12 L75.10,68.90 L75.70,69.60 L76.30,70.33 L76.90,71.15 L77.50,71.83 L78.10,72.50 L78.70,73.22 L79.30,73.88 L79.90,74.63 L80.50,75.27 L81.10,75.89 L81.26,76.10" fill="none" stroke="#E8828C" stroke-width="1.725" stroke-linejoin="round"  stroke-linecap="round"/>
<path d="M81.26,76.15 L81.86,76.70 L82.46,77.38 L83.06,77.99 L83.66,78.73 L84.26,79.26 L84.86,79.95 L85.46,80.49 L86.06,81.15 L86.66,81.78 L87.26,82.34 L87.86,82.90 L88.01,83.06" fill="none" stroke="#E8828C" stroke-width="1.875" stroke-linejoin="round"  stroke-linecap="round"/>
<path d="M88.01,83.06 L88.61,83.61 L89.21,84.19 L89.81,84.64 L90.41,85.24 L91.01,85.72 L91.61,86.35 L92.21,86.86 L92.81,87.20 L93.41,87.70 L94.01,88.28 L94.61,88.72 L94.77,88.82" fill="none" stroke="#E8828C" stroke-width="2.025" stroke-linejoin="round"  stroke-linecap="round"/>
<path d="M94.77,88.72 L95.37,89.32 L95.97,89.83 L96.57,90.16 L97.17,90.59 L97.77,91.08 L98.37,91.60 L98.97,91.90 L99.57,92.35 L100.17,92.76 L100.77,93.30 L101.37,93.71 L101.53,93.84" fill="none" stroke="#E8828C" stroke-width="2.175" stroke-linejoin="round"  stroke-linecap="round"/>
<path d="M101.53,93.77 L102.13,94.25 L102.73,94.62 L103.33,95.14 L103.93,95.76 L104.53,96.11 L105.13,96.50 L105.73,97.12 L106.33,97.44 L106.93,97.87 L107.53,98.28 L108.13,98.77 L108.28,98.98" fill="none" stroke="#E8828C" stroke-width="2.325" stroke-linejoin="round"  stroke-linecap="round"/>
<path d="M108.28,98.90 L108.88,99.37 L109.48,100.02 L110.08,100.31 L110.68,100.78 L111.28,101.34 L111.88,101.90 L112.48,102.18 L113.08,102.78 L113.68,103.13 L114.28,103.65 L114.88,104.12 L115.04,104.21" fill="none" stroke="#E8828C" stroke-width="2.4749999999999996" stroke-linejoin="round"  stroke-linecap="round"/>
<path d="M115.04,104.35 L115.64,104.76 L116.24,105.14 L116.84,105.70 L117.44,106.00 L118.04,106.46 L118.64,107.10 L119.24,107.42 L119.84,107.94 L120.44,108.24 L121.04,108.88 L121.64,109.23 L121.80,109.31" fill="none" stroke="#E8828C" stroke-width="2.625" stroke-linejoin="round"  stroke-linecap="round"/>
<path d="M121.80,109.22 L122.40,109.90 L123.00,110.18 L123.60,110.57 L124.20,110.97 L124.80,111.35 L125.40,111.81 L126.00,112.41 L126.60,112.64 L127.20,113.10 L127.80,113.58 L128.40,114.03 L128.56,114.12" fill="none" stroke="#E8828C" stroke-width="2.7749999999999995" stroke-linejoin="round"  stroke-linecap="round"/>
<path d="M128.56,114.08 L129.16,114.64 L129.76,114.84 L130.36,115.29 L130.96,115.71 L131.56,115.99 L132.16,116.42 L132.76,116.77 L133.36,117.38 L133.96,117.54 L134.56,118.11 L135.16,118.31 L135.31,118.51" fill="none" stroke="#E8828C" stroke-width="2.925" stroke-linejoin="round"  stroke-linecap="round"/>
<path d="M135.31,118.57 L135.91,118.94 L136.51,119.18 L137.11,119.77 L137.71,120.01 L138.31,120.31 L138.91,120.44 L139.51,120.93 L140.11,121.21 L140.71,121.62 L141.31,122.14 L141.91,122.43 L142.07,122.36" fill="none" stroke="#E8828C" stroke-width="3.075" stroke-linejoin="round"  stroke-linecap="round"/>
<path d="M142.07,122.16 L142.67,122.76 L143.27,123.19 L143.87,123.33 L144.47,123.44 L145.07,124.10 L145.67,124.21 L146.27,124.76 L146.87,125.01 L147.47,125.28 L148.07,125.62 L148.67,125.51 L148.83,125.78" fill="none" stroke="#E8828C" stroke-width="3.2249999999999996" stroke-linejoin="round"  stroke-linecap="round"/>
<path d="M148.83,125.92 L149.43,125.97 L150.03,126.16 L150.63,126.55 L151.23,126.92 L151.83,126.91 L152.43,127.38 L153.03,127.80 L153.63,127.92 L154.23,128.19 L154.83,128.33 L155.43,128.90 L155.59,128.74" fill="none" stroke="#E8828C" stroke-width="3.375" stroke-linejoin="round"  stroke-linecap="round"/>
<path d="M155.59,128.61 L156.19,129.08 L156.79,129.30 L157.39,129.20 L157.99,129.96 L158.59,129.80 L159.19,130.42 L159.79,130.62 L160.39,130.84 L160.99,131.04 L161.59,131.04 L162.19,131.29 L162.34,131.38" fill="none" stroke="#E8828C" stroke-width="3.5249999999999995" stroke-linejoin="round"  stroke-linecap="round"/>
<path d="M162.34,131.29 L162.94,131.84 L163.54,131.57 L164.14,131.85 L164.74,132.53 L165.34,132.67 L165.94,132.83 L166.54,133.20 L167.14,133.18 L167.74,133.57 L168.34,133.58 L168.94,134.06 L169.10,133.89" fill="none" stroke="#E8828C" stroke-width="3.675" stroke-linejoin="round"  stroke-linecap="round"/>
<path d="M169.10,133.64 L169.70,134.08 L170.30,134.38 L170.90,134.74 L171.50,134.74 L172.10,135.12 L172.70,135.51 L173.30,135.41 L173.90,135.51 L174.50,135.64 L175.10,136.35 L175.70,136.35 L175.86,136.42" fill="none" stroke="#E8828C" stroke-width="3.8249999999999993" stroke-linejoin="round"  stroke-linecap="round"/>
<path d="M175.86,136.35 L176.46,136.66 L177.06,136.64 L177.66,136.93 L178.26,137.16 L178.86,137.40 L179.46,138.00 L180.06,137.84 L180.66,137.97 L181.26,138.67 L181.86,138.71 L182.46,138.60 L182.61,138.95" fill="none" stroke="#E8828C" stroke-width="3.9749999999999996" stroke-linejoin="round"  stroke-linecap="round"/>
<path d="M182.61,139.06 L183.21,139.29 L183.81,139.49 L184.41,139.79 L185.01,139.78 L185.61,139.87 L186.21,140.42 L186.81,140.56 L187.41,140.83 L188.01,140.70 L188.61,141.03 L189.21,141.45 L189.37,141.38" fill="none" stroke="#E8828C" stroke-width="4.125" stroke-linejoin="round"  stroke-linecap="round"/>
<path d="M189.37,141.30 L189.97,141.65 L190.57,141.77 L191.17,142.16 L191.77,142.09 L192.37,142.39 L192.97,142.81 L193.57,142.65 L194.17,142.75 L194.77,143.26 L195.37,143.10 L195.97,143.78 L196.13,143.59" fill="none" stroke="#E8828C" stroke-width="4.2749999999999995" stroke-linejoin="round"  stroke-linecap="round"/>
<path d="M196.13,143.43 L196.73,144.06 L197.33,143.98 L197.93,143.89 L198.53,144.33 L199.13,144.62 L199.73,144.65 L200.33,144.93 L200.93,144.91 L201.53,145.50 L202.13,145.11 L202.73,145.72 L202.89,145.55" fill="none" stroke="#E8828C" stroke-width="4.425" stroke-linejoin="round"  stroke-linecap="round"/>
<path d="M202.89,145.19 L203.49,145.72 L204.09,145.55 L204.69,145.76 L205.29,146.26 L205.89,146.65 L206.49,146.36 L207.09,146.59 L207.69,146.80 L208.29,147.04 L208.89,147.01 L209.49,147.16 L209.64,147.31" fill="none" stroke="#E8828C" stroke-width="4.574999999999999" stroke-linejoin="round"  stroke-linecap="round"/>
<path d="M209.64,147.58 L210.24,147.50 L210.84,147.49 L211.44,148.00 L212.04,148.29 L212.64,147.99 L213.24,147.81 L213.84,148.18 L214.44,148.79 L215.04,148.36 L215.64,148.52 L216.24,149.13 L216.40,148.94" fill="none" stroke="#E8828C" stroke-width="4.725" stroke-linejoin="round"  stroke-linecap="round"/>
</g>
<line x1="32.60" y1="106.35" x2="216.40" y2="106.35" stroke="#8a8a8a" stroke-width="0.9" stroke-dasharray="1.35,1.35"/>
<line x1="79.50" y1="28.20" x2="88.20" y2="28.20" stroke="#E8828C" stroke-width="1.0" opacity="0.7"/>
<text x="92.60" y="30.60" font-size="8.5" text-anchor="start" ><tspan>CoO</tspan><tspan font-size="5.6" dy="2.04" font-style="italic">x</tspan><tspan dy="-2.04">-BCN-FeOOH (</tspan><tspan font-weight="bold">t</tspan><tspan font-size="5.6" dy="2.04">50%</tspan><tspan dy="-2.04">=22.7 μs)</tspan></text>
<line x1="79.50" y1="40.33" x2="88.20" y2="40.33" stroke="#BFA3E3" stroke-width="1.0" opacity="0.7"/>
<text x="92.60" y="42.73" font-size="8.5" text-anchor="start" ><tspan>CoO</tspan><tspan font-size="5.6" dy="2.04" font-style="italic">x</tspan><tspan dy="-2.04">-BCN (</tspan><tspan font-weight="bold">t</tspan><tspan font-size="5.6" dy="2.04">50%</tspan><tspan dy="-2.04">=25.9 μs)</tspan></text>
<line x1="79.50" y1="52.46" x2="88.20" y2="52.46" stroke="#6CC8EC" stroke-width="1.0" opacity="0.7"/>
<text x="92.60" y="54.86" font-size="8.5" text-anchor="start" ><tspan>BCN-FeOOH (</tspan><tspan font-weight="bold">t</tspan><tspan font-size="5.6" dy="2.04">50%</tspan><tspan dy="-2.04">=17.4 μs)</tspan></text>
<line x1="79.50" y1="64.59" x2="88.20" y2="64.59" stroke="#5A64F2" stroke-width="1.0" opacity="0.7"/>
<text x="92.60" y="66.99" font-size="8.5" text-anchor="start" ><tspan>BCN (</tspan><tspan font-weight="bold">t</tspan><tspan font-size="5.6" dy="2.04">50%</tspan><tspan dy="-2.04">=19.5 μs)</tspan></text>
<text x="191.50" y="84.00" font-size="9.2" text-anchor="start" ><tspan>N</tspan><tspan font-size="6.6" dy="2.60">2</tspan></text>
<line x1="260.60" y1="20.60" x2="444.30" y2="20.60" stroke="#5a5a5a" stroke-width="1.25" />
<line x1="260.60" y1="167.60" x2="444.30" y2="167.60" stroke="#5a5a5a" stroke-width="1.25" />
<line x1="260.60" y1="20.00" x2="260.60" y2="168.20" stroke="#5a5a5a" stroke-width="1.25" />
<line x1="444.30" y1="20.00" x2="444.30" y2="168.20" stroke="#5a5a5a" stroke-width="1.25" />
<line x1="258.20" y1="167.60" x2="260.60" y2="167.60" stroke="#3a3a3a" stroke-width="1.0" />
<text x="255.80" y="170.70" font-size="10.0" text-anchor="end" >0.0</text>
<line x1="259.20" y1="155.35" x2="260.60" y2="155.35" stroke="#3a3a3a" stroke-width="0.9" />
<line x1="258.20" y1="143.10" x2="260.60" y2="143.10" stroke="#3a3a3a" stroke-width="1.0" />
<text x="255.80" y="146.20" font-size="10.0" text-anchor="end" >0.2</text>
<line x1="259.20" y1="130.85" x2="260.60" y2="130.85" stroke="#3a3a3a" stroke-width="0.9" />
<line x1="258.20" y1="118.60" x2="260.60" y2="118.60" stroke="#3a3a3a" stroke-width="1.0" />
<text x="255.80" y="121.70" font-size="10.0" text-anchor="end" >0.4</text>
<line x1="259.20" y1="106.35" x2="260.60" y2="106.35" stroke="#3a3a3a" stroke-width="0.9" />
<line x1="258.20" y1="94.10" x2="260.60" y2="94.10" stroke="#3a3a3a" stroke-width="1.0" />
<text x="255.80" y="97.20" font-size="10.0" text-anchor="end" >0.6</text>
<line x1="259.20" y1="81.85" x2="260.60" y2="81.85" stroke="#3a3a3a" stroke-width="0.9" />
<line x1="258.20" y1="69.60" x2="260.60" y2="69.60" stroke="#3a3a3a" stroke-width="1.0" />
<text x="255.80" y="72.70" font-size="10.0" text-anchor="end" >0.8</text>
<line x1="259.20" y1="57.35" x2="260.60" y2="57.35" stroke="#3a3a3a" stroke-width="0.9" />
<line x1="258.20" y1="45.10" x2="260.60" y2="45.10" stroke="#3a3a3a" stroke-width="1.0" />
<text x="255.80" y="48.20" font-size="10.0" text-anchor="end" >1.0</text>
<line x1="259.20" y1="32.85" x2="260.60" y2="32.85" stroke="#3a3a3a" stroke-width="0.9" />
<line x1="258.20" y1="20.60" x2="260.60" y2="20.60" stroke="#3a3a3a" stroke-width="1.0" />
<text x="255.80" y="23.70" font-size="10.0" text-anchor="end" >1.2</text>
<line x1="260.60" y1="167.60" x2="260.60" y2="170.20" stroke="#3a3a3a" stroke-width="1.0" />
<text x="260.60" y="180.10" font-size="10.0" text-anchor="middle" >1E-6</text>
<line x1="279.03" y1="167.60" x2="279.03" y2="169.10" stroke="#3a3a3a" stroke-width="0.9" />
<line x1="289.82" y1="167.60" x2="289.82" y2="169.10" stroke="#3a3a3a" stroke-width="0.9" />
<line x1="297.47" y1="167.60" x2="297.47" y2="169.10" stroke="#3a3a3a" stroke-width="0.9" />
<line x1="303.40" y1="167.60" x2="303.40" y2="169.10" stroke="#3a3a3a" stroke-width="0.9" />
<line x1="308.25" y1="167.60" x2="308.25" y2="169.10" stroke="#3a3a3a" stroke-width="0.9" />
<line x1="312.35" y1="167.60" x2="312.35" y2="169.10" stroke="#3a3a3a" stroke-width="0.9" />
<line x1="315.90" y1="167.60" x2="315.90" y2="169.10" stroke="#3a3a3a" stroke-width="0.9" />
<line x1="319.03" y1="167.60" x2="319.03" y2="169.10" stroke="#3a3a3a" stroke-width="0.9" />
<line x1="321.83" y1="167.60" x2="321.83" y2="170.20" stroke="#3a3a3a" stroke-width="1.0" />
<text x="321.83" y="180.10" font-size="10.0" text-anchor="middle" >1E-5</text>
<line x1="340.27" y1="167.60" x2="340.27" y2="169.10" stroke="#3a3a3a" stroke-width="0.9" />
<line x1="351.05" y1="167.60" x2="351.05" y2="169.10" stroke="#3a3a3a" stroke-width="0.9" />
<line x1="358.70" y1="167.60" x2="358.70" y2="169.10" stroke="#3a3a3a" stroke-width="0.9" />
<line x1="364.63" y1="167.60" x2="364.63" y2="169.10" stroke="#3a3a3a" stroke-width="0.9" />
<line x1="369.48" y1="167.60" x2="369.48" y2="169.10" stroke="#3a3a3a" stroke-width="0.9" />
<line x1="373.58" y1="167.60" x2="373.58" y2="169.10" stroke="#3a3a3a" stroke-width="0.9" />
<line x1="377.13" y1="167.60" x2="377.13" y2="169.10" stroke="#3a3a3a" stroke-width="0.9" />
<line x1="380.26" y1="167.60" x2="380.26" y2="169.10" stroke="#3a3a3a" stroke-width="0.9" />
<line x1="383.07" y1="167.60" x2="383.07" y2="170.20" stroke="#3a3a3a" stroke-width="1.0" />
<text x="383.07" y="180.10" font-size="10.0" text-anchor="middle" >1E-4</text>
<line x1="401.50" y1="167.60" x2="401.50" y2="169.10" stroke="#3a3a3a" stroke-width="0.9" />
<line x1="412.28" y1="167.60" x2="412.28" y2="169.10" stroke="#3a3a3a" stroke-width="0.9" />
<line x1="419.93" y1="167.60" x2="419.93" y2="169.10" stroke="#3a3a3a" stroke-width="0.9" />
<line x1="425.87" y1="167.60" x2="425.87" y2="169.10" stroke="#3a3a3a" stroke-width="0.9" />
<line x1="430.72" y1="167.60" x2="430.72" y2="169.10" stroke="#3a3a3a" stroke-width="0.9" />
<line x1="434.81" y1="167.60" x2="434.81" y2="169.10" stroke="#3a3a3a" stroke-width="0.9" />
<line x1="438.37" y1="167.60" x2="438.37" y2="169.10" stroke="#3a3a3a" stroke-width="0.9" />
<line x1="441.50" y1="167.60" x2="441.50" y2="169.10" stroke="#3a3a3a" stroke-width="0.9" />
<line x1="444.30" y1="167.60" x2="444.30" y2="170.20" stroke="#3a3a3a" stroke-width="1.0" />
<text x="444.30" y="180.10" font-size="10.0" text-anchor="middle" >0.001</text>
<text x="352.65" y="191.90" font-size="11.5" text-anchor="middle" >Time delay (s)</text>
<text transform="translate(237.80,94.45) rotate(-90) scale(1.0,1)" font-size="11.6" text-anchor="middle" ><tspan font-weight="bold">ΔA</tspan> (Normalized)</text>
<text x="229.80" y="17.00" font-size="23" text-anchor="start" >b</text>
<clipPath id="cl2"><rect x="260.60" y="17.60" width="183.70" height="150.00"/></clipPath><g clip-path="url(#cl2)">
<path d="M260.60,167.60 L260.84,167.60 L261.09,167.60 L261.33,167.60 L261.58,167.60 L261.82,167.60 L262.07,167.60 L262.31,167.60 L262.56,167.60 L262.80,167.60 L263.05,167.60 L263.29,167.60 L263.54,167.60 L263.78,167.60 L264.03,167.60 L264.27,167.60 L264.52,167.60 L264.76,167.60 L265.01,167.60 L265.25,167.60 L265.50,167.60 L265.74,167.60 L265.99,167.60 L266.23,165.26 L266.48,160.53 L266.72,155.64 L266.97,150.59 L267.21,145.49 L267.46,140.37 L267.70,135.25 L267.95,130.17 L268.19,125.22 L268.44,120.42 L268.68,115.79 L268.93,111.38 L269.17,107.21 L269.42,103.44 L269.66,100.02 L269.91,96.95 L270.15,94.16 L270.40,91.49 L270.64,88.92 L270.89,86.42 L271.13,84.00 L271.38,81.66 L271.62,79.40 L271.87,77.26 L272.11,75.19 L272.36,73.21 L272.60,71.32 L272.85,69.51 L273.09,67.82 L273.34,66.22 L273.58,64.71 L273.83,63.30 L274.07,61.98 L274.32,60.78 L274.56,59.68 L274.81,58.63 L275.05,57.62 L275.30,56.64 L275.54,55.71 L275.79,54.82 L276.03,53.96 L276.28,53.15 L276.52,52.37 L276.77,51.66 L277.01,50.98 L277.26,50.35 L277.50,49.77 L277.75,49.24 L277.99,48.78 L278.24,48.36 L278.48,47.98 L278.73,47.62 L278.97,47.26 L279.21,46.92 L279.46,46.59 L279.70,46.29 L279.95,46.00 L280.19,45.74 L280.44,45.53 L280.68,45.35 L280.93,45.22 L281.17,45.14 L281.42,45.10" fill="none" stroke="#5A64F2" stroke-width="1.5" stroke-linejoin="round"  stroke-linecap="round"/>
<path d="M281.42,45.09 L282.02,45.16 L282.62,45.32 L283.22,45.59 L283.82,45.94 L284.42,46.40 L285.02,46.92 L285.62,47.51 L286.22,48.18 L286.82,48.89 L287.42,49.66 L288.02,50.48 L288.21,50.74" fill="none" stroke="#5A64F2" stroke-width="1.5354166666666667" stroke-linejoin="round"  stroke-linecap="round"/>
<path d="M288.21,50.74 L288.81,51.57 L289.41,52.49 L290.01,53.36 L290.61,54.27 L291.21,55.17 L291.81,56.12 L292.41,56.99 L293.01,57.87 L293.61,58.71 L294.21,59.51 L294.81,60.34 L294.99,60.61" fill="none" stroke="#5A64F2" stroke-width="1.60625" stroke-linejoin="round"  stroke-linecap="round"/>
<path d="M294.99,60.60 L295.59,61.39 L296.19,62.28 L296.79,63.06 L297.39,63.88 L297.99,64.78 L298.59,65.57 L299.19,66.49 L299.79,67.30 L300.39,68.16 L300.99,68.98 L301.59,69.82 L301.78,70.08" fill="none" stroke="#5A64F2" stroke-width="1.6770833333333335" stroke-linejoin="round"  stroke-linecap="round"/>
<path d="M301.78,70.05 L302.38,70.85 L302.98,71.75 L303.58,72.47 L304.18,73.31 L304.78,74.01 L305.38,74.86 L305.98,75.59 L306.58,76.30 L307.18,77.02 L307.78,77.71 L308.38,78.42 L308.57,78.61" fill="none" stroke="#5A64F2" stroke-width="1.7479166666666668" stroke-linejoin="round"  stroke-linecap="round"/>
<path d="M308.57,78.55 L309.17,79.29 L309.77,80.02 L310.37,80.59 L310.97,81.36 L311.57,82.00 L312.17,82.56 L312.77,83.17 L313.37,83.80 L313.97,84.39 L314.57,85.07 L315.17,85.56 L315.35,85.75" fill="none" stroke="#5A64F2" stroke-width="1.81875" stroke-linejoin="round"  stroke-linecap="round"/>
<path d="M315.35,85.66 L315.95,86.24 L316.55,86.91 L317.15,87.50 L317.75,87.95 L318.35,88.47 L318.95,88.99 L319.55,89.54 L320.15,89.94 L320.75,90.50 L321.35,90.97 L321.95,91.46 L322.14,91.58" fill="none" stroke="#5A64F2" stroke-width="1.8895833333333334" stroke-linejoin="round"  stroke-linecap="round"/>
<path d="M322.14,91.51 L322.74,91.97 L323.34,92.47 L323.94,93.04 L324.54,93.36 L325.14,93.85 L325.74,94.23 L326.34,94.61 L326.94,95.03 L327.54,95.61 L328.14,96.02 L328.74,96.35 L328.93,96.50" fill="none" stroke="#5A64F2" stroke-width="1.9604166666666667" stroke-linejoin="round"  stroke-linecap="round"/>
<path d="M328.93,96.55 L329.53,96.96 L330.13,97.42 L330.73,97.83 L331.33,98.09 L331.93,98.64 L332.53,99.02 L333.13,99.32 L333.73,99.79 L334.33,100.08 L334.93,100.43 L335.53,100.79 L335.71,100.97" fill="none" stroke="#5A64F2" stroke-width="2.03125" stroke-linejoin="round"  stroke-linecap="round"/>
<path d="M335.71,101.08 L336.31,101.26 L336.91,101.61 L337.51,102.20 L338.11,102.57 L338.71,102.87 L339.31,103.35 L339.91,103.50 L340.51,103.93 L341.11,104.32 L341.71,104.72 L342.31,105.02 L342.50,105.23" fill="none" stroke="#5A64F2" stroke-width="2.1020833333333333" stroke-linejoin="round"  stroke-linecap="round"/>
<path d="M342.50,105.09 L343.10,105.54 L343.70,106.08 L344.30,106.47 L344.90,106.75 L345.50,107.02 L346.10,107.30 L346.70,107.87 L347.30,108.08 L347.90,108.48 L348.50,108.60 L349.10,108.99 L349.29,109.18" fill="none" stroke="#5A64F2" stroke-width="2.1729166666666666" stroke-linejoin="round"  stroke-linecap="round"/>
<path d="M349.29,109.30 L349.89,109.61 L350.49,109.96 L351.09,110.18 L351.69,110.43 L352.29,110.80 L352.89,111.20 L353.49,111.31 L354.09,111.69 L354.69,111.89 L355.29,112.35 L355.89,112.38 L356.07,112.64" fill="none" stroke="#5A64F2" stroke-width="2.2437500000000004" stroke-linejoin="round"  stroke-linecap="round"/>
<path d="M356.07,112.71 L356.67,113.09 L357.27,113.02 L357.87,113.51 L358.47,113.81 L359.07,114.16 L359.67,114.33 L360.27,114.48 L360.87,114.81 L361.47,115.29 L362.07,115.53 L362.67,115.50 L362.86,115.73" fill="none" stroke="#5A64F2" stroke-width="2.314583333333333" stroke-linejoin="round"  stroke-linecap="round"/>
<path d="M362.86,115.56 L363.46,115.82 L364.06,116.06 L364.66,116.50 L365.26,116.63 L365.86,117.20 L366.46,117.37 L367.06,117.41 L367.66,117.85 L368.26,118.02 L368.86,118.35 L369.46,118.50 L369.65,118.69" fill="none" stroke="#5A64F2" stroke-width="2.385416666666667" stroke-linejoin="round"  stroke-linecap="round"/>
<path d="M369.65,118.54 L370.25,118.81 L370.85,119.16 L371.45,119.57 L372.05,119.75 L372.65,119.79 L373.25,120.34 L373.85,120.67 L374.45,120.89 L375.05,121.15 L375.65,121.05 L376.25,121.51 L376.43,121.61" fill="none" stroke="#5A64F2" stroke-width="2.45625" stroke-linejoin="round"  stroke-linecap="round"/>
<path d="M376.43,121.40 L377.03,121.99 L377.63,121.95 L378.23,122.46 L378.83,122.49 L379.43,122.96 L380.03,123.02 L380.63,123.13 L381.23,123.55 L381.83,123.75 L382.43,124.28 L383.03,124.23 L383.22,124.40" fill="none" stroke="#5A64F2" stroke-width="2.5270833333333336" stroke-linejoin="round"  stroke-linecap="round"/>
<path d="M383.22,124.40 L383.82,124.67 L384.42,125.11 L385.02,124.90 L385.62,125.40 L386.22,125.58 L386.82,125.93 L387.42,126.27 L388.02,126.16 L388.62,126.58 L389.22,126.72 L389.82,126.95 L390.01,126.99" fill="none" stroke="#5A64F2" stroke-width="2.597916666666667" stroke-linejoin="round"  stroke-linecap="round"/>
<path d="M390.01,126.75 L390.61,127.38 L391.21,127.68 L391.81,127.55 L392.41,127.74 L393.01,128.32 L393.61,128.04 L394.21,128.23 L394.81,128.43 L395.41,129.04 L396.01,129.21 L396.61,129.24 L396.79,129.33" fill="none" stroke="#5A64F2" stroke-width="2.66875" stroke-linejoin="round"  stroke-linecap="round"/>
<path d="M396.79,129.40 L397.39,129.24 L397.99,129.80 L398.59,129.87 L399.19,130.10 L399.79,130.22 L400.39,130.41 L400.99,130.49 L401.59,130.57 L402.19,130.98 L402.79,131.05 L403.39,131.50 L403.58,131.44" fill="none" stroke="#5A64F2" stroke-width="2.7395833333333335" stroke-linejoin="round"  stroke-linecap="round"/>
<path d="M403.58,131.63 L404.18,131.75 L404.78,131.76 L405.38,131.80 L405.98,132.07 L406.58,132.30 L407.18,132.57 L407.78,132.94 L408.38,132.57 L408.98,132.98 L409.58,133.16 L410.18,133.46 L410.37,133.38" fill="none" stroke="#5A64F2" stroke-width="2.810416666666667" stroke-linejoin="round"  stroke-linecap="round"/>
<path d="M410.37,133.64 L410.97,133.73 L411.57,133.80 L412.17,134.05 L412.77,134.15 L413.37,134.44 L413.97,134.50 L414.57,134.65 L415.17,134.53 L415.77,135.12 L416.37,134.94 L416.97,135.25 L417.15,135.22" fill="none" stroke="#5A64F2" stroke-width="2.88125" stroke-linejoin="round"  stroke-linecap="round"/>
<path d="M417.15,135.45 L417.75,135.70 L418.35,135.88 L418.95,135.36 L419.55,135.73 L420.15,135.89 L420.75,136.10 L421.35,136.09 L421.95,136.53 L422.55,136.36 L423.15,136.67 L423.75,137.26 L423.94,137.01" fill="none" stroke="#5A64F2" stroke-width="2.9520833333333334" stroke-linejoin="round"  stroke-linecap="round"/>
<path d="M423.94,137.18 L424.54,137.14 L425.14,137.04 L425.74,137.81 L426.34,137.78 L426.94,137.58 L427.54,137.83 L428.14,138.21 L428.74,138.39 L429.34,138.25 L429.94,138.90 L430.54,138.61 L430.73,138.78" fill="none" stroke="#5A64F2" stroke-width="3.022916666666667" stroke-linejoin="round"  stroke-linecap="round"/>
<path d="M430.73,138.60 L431.33,139.20 L431.93,138.84 L432.53,139.39 L433.13,139.19 L433.73,139.64 L434.33,139.56 L434.93,139.80 L435.53,140.38 L436.13,140.18 L436.73,140.32 L437.33,140.61 L437.51,140.57" fill="none" stroke="#5A64F2" stroke-width="3.09375" stroke-linejoin="round"  stroke-linecap="round"/>
<path d="M437.51,140.40 L438.11,140.47 L438.71,140.80 L439.31,140.87 L439.91,140.96 L440.51,141.73 L441.11,141.16 L441.71,141.93 L442.31,142.18 L442.91,142.16 L443.51,141.78 L444.11,142.32 L444.30,142.37" fill="none" stroke="#5A64F2" stroke-width="3.1645833333333337" stroke-linejoin="round"  stroke-linecap="round"/>
<path d="M260.60,167.60 L260.84,167.60 L261.09,167.60 L261.33,167.60 L261.58,167.60 L261.82,167.60 L262.07,167.60 L262.31,167.60 L262.56,167.60 L262.80,167.60 L263.05,167.60 L263.29,167.60 L263.54,167.60 L263.78,167.60 L264.03,167.60 L264.27,167.60 L264.52,167.60 L264.76,167.60 L265.01,167.60 L265.25,167.60 L265.50,167.60 L265.74,167.60 L265.99,167.60 L266.23,167.60 L266.48,166.41 L266.72,161.63 L266.97,156.63 L267.21,151.52 L267.46,146.33 L267.70,141.10 L267.95,135.87 L268.19,130.70 L268.44,125.63 L268.68,120.71 L268.93,115.96 L269.17,111.43 L269.42,107.25 L269.66,103.39 L269.91,99.89 L270.15,96.75 L270.40,93.93 L270.64,91.23 L270.89,88.61 L271.13,86.07 L271.38,83.61 L271.62,81.23 L271.87,78.97 L272.11,76.79 L272.36,74.70 L272.60,72.70 L272.85,70.78 L273.09,68.99 L273.34,67.29 L273.58,65.69 L273.83,64.18 L274.07,62.77 L274.32,61.49 L274.56,60.31 L274.81,59.20 L275.05,58.15 L275.30,57.13 L275.54,56.16 L275.79,55.23 L276.03,54.34 L276.28,53.49 L276.52,52.68 L276.77,51.93 L277.01,51.23 L277.26,50.57 L277.50,49.96 L277.75,49.40 L277.99,48.91 L278.24,48.47 L278.48,48.07 L278.73,47.70 L278.97,47.34 L279.21,46.98 L279.46,46.65 L279.70,46.33 L279.95,46.03 L280.19,45.77 L280.44,45.55 L280.68,45.36 L280.93,45.23 L281.17,45.14 L281.42,45.10" fill="none" stroke="#6CC8EC" stroke-width="1.6" stroke-linejoin="round"  stroke-linecap="round"/>
<path d="M281.42,45.11 L282.02,45.17 L282.62,45.37 L283.22,45.71 L283.82,46.14 L284.42,46.69 L285.02,47.34 L285.62,48.07 L286.22,48.89 L286.82,49.77 L287.42,50.72 L288.02,51.70 L288.21,52.02" fill="none" stroke="#6CC8EC" stroke-width="1.6291666666666667" stroke-linejoin="round"  stroke-linecap="round"/>
<path d="M288.21,52.02 L288.81,53.07 L289.41,54.12 L290.01,55.21 L290.61,56.29 L291.21,57.35 L291.81,58.45 L292.41,59.48 L293.01,60.48 L293.61,61.45 L294.21,62.42 L294.81,63.33 L294.99,63.61" fill="none" stroke="#6CC8EC" stroke-width="1.6875" stroke-linejoin="round"  stroke-linecap="round"/>
<path d="M294.99,63.64 L295.59,64.53 L296.19,65.44 L296.79,66.30 L297.39,67.20 L297.99,68.08 L298.59,68.94 L299.19,69.87 L299.79,70.72 L300.39,71.62 L300.99,72.50 L301.59,73.34 L301.78,73.60" fill="none" stroke="#6CC8EC" stroke-width="1.7458333333333333" stroke-linejoin="round"  stroke-linecap="round"/>
<path d="M301.78,73.57 L302.38,74.47 L302.98,75.30 L303.58,76.08 L304.18,76.87 L304.78,77.71 L305.38,78.45 L305.98,79.29 L306.58,80.00 L307.18,80.73 L307.78,81.44 L308.38,82.16 L308.57,82.36" fill="none" stroke="#6CC8EC" stroke-width="1.8041666666666667" stroke-linejoin="round"  stroke-linecap="round"/>
<path d="M308.57,82.41 L309.17,83.03 L309.77,83.71 L310.37,84.40 L310.97,85.03 L311.57,85.70 L312.17,86.32 L312.77,86.92 L313.37,87.56 L313.97,88.13 L314.57,88.67 L315.17,89.35 L315.35,89.47" fill="none" stroke="#6CC8EC" stroke-width="1.8625" stroke-linejoin="round"  stroke-linecap="round"/>
<path d="M315.35,89.45 L315.95,90.02 L316.55,90.57 L317.15,91.19 L317.75,91.73 L318.35,92.19 L318.95,92.70 L319.55,93.17 L320.15,93.78 L320.75,94.18 L321.35,94.72 L321.95,95.17 L322.14,95.34" fill="none" stroke="#6CC8EC" stroke-width="1.9208333333333334" stroke-linejoin="round"  stroke-linecap="round"/>
<path d="M322.14,95.31 L322.74,95.78 L323.34,96.20 L323.94,96.62 L324.54,97.14 L325.14,97.61 L325.74,98.01 L326.34,98.36 L326.94,98.84 L327.54,99.14 L328.14,99.60 L328.74,100.05 L328.93,100.12" fill="none" stroke="#6CC8EC" stroke-width="1.9791666666666667" stroke-linejoin="round"  stroke-linecap="round"/>
<path d="M328.93,100.20 L329.53,100.50 L330.13,100.95 L330.73,101.26 L331.33,101.64 L331.93,102.02 L332.53,102.46 L333.13,102.78 L333.73,103.09 L334.33,103.50 L334.93,103.84 L335.53,104.15 L335.71,104.29" fill="none" stroke="#6CC8EC" stroke-width="2.0375" stroke-linejoin="round"  stroke-linecap="round"/>
<path d="M335.71,104.35 L336.31,104.72 L336.91,105.03 L337.51,105.47 L338.11,105.63 L338.71,106.09 L339.31,106.48 L339.91,106.78 L340.51,107.11 L341.11,107.58 L341.71,107.88 L342.31,108.21 L342.50,108.37" fill="none" stroke="#6CC8EC" stroke-width="2.095833333333333" stroke-linejoin="round"  stroke-linecap="round"/>
<path d="M342.50,108.26 L343.10,108.84 L343.70,109.05 L344.30,109.35 L344.90,109.73 L345.50,110.09 L346.10,110.59 L346.70,110.78 L347.30,111.14 L347.90,111.44 L348.50,111.87 L349.10,112.15 L349.29,112.32" fill="none" stroke="#6CC8EC" stroke-width="2.154166666666667" stroke-linejoin="round"  stroke-linecap="round"/>
<path d="M349.29,112.28 L349.89,112.72 L350.49,113.10 L351.09,113.40 L351.69,113.51 L352.29,113.92 L352.89,114.36 L353.49,114.46 L354.09,114.81 L354.69,115.20 L355.29,115.47 L355.89,115.87 L356.07,115.90" fill="none" stroke="#6CC8EC" stroke-width="2.2125" stroke-linejoin="round"  stroke-linecap="round"/>
<path d="M356.07,115.96 L356.67,116.18 L357.27,116.42 L357.87,116.70 L358.47,117.01 L359.07,117.24 L359.67,117.70 L360.27,117.84 L360.87,118.33 L361.47,118.54 L362.07,118.66 L362.67,119.06 L362.86,119.15" fill="none" stroke="#6CC8EC" stroke-width="2.2708333333333335" stroke-linejoin="round"  stroke-linecap="round"/>
<path d="M362.86,119.18 L363.46,119.29 L364.06,119.70 L364.66,119.84 L365.26,120.35 L365.86,120.38 L366.46,120.86 L367.06,121.24 L367.66,121.47 L368.26,121.55 L368.86,121.92 L369.46,122.07 L369.65,122.27" fill="none" stroke="#6CC8EC" stroke-width="2.3291666666666666" stroke-linejoin="round"  stroke-linecap="round"/>
<path d="M369.65,122.21 L370.25,122.66 L370.85,122.92 L371.45,122.91 L372.05,123.31 L372.65,123.67 L373.25,123.78 L373.85,124.26 L374.45,124.56 L375.05,124.71 L375.65,124.91 L376.25,125.34 L376.43,125.30" fill="none" stroke="#6CC8EC" stroke-width="2.3875" stroke-linejoin="round"  stroke-linecap="round"/>
<path d="M376.43,125.31 L377.03,125.45 L377.63,125.75 L378.23,125.96 L378.83,126.47 L379.43,126.61 L380.03,126.93 L380.63,127.23 L381.23,127.54 L381.83,127.51 L382.43,127.84 L383.03,128.25 L383.22,128.19" fill="none" stroke="#6CC8EC" stroke-width="2.4458333333333333" stroke-linejoin="round"  stroke-linecap="round"/>
<path d="M383.22,128.30 L383.82,128.40 L384.42,128.75 L385.02,128.81 L385.62,129.04 L386.22,129.23 L386.82,129.60 L387.42,129.78 L388.02,130.12 L388.62,130.52 L389.22,130.44 L389.82,130.82 L390.01,130.87" fill="none" stroke="#6CC8EC" stroke-width="2.504166666666667" stroke-linejoin="round"  stroke-linecap="round"/>
<path d="M390.01,131.02 L390.61,131.13 L391.21,131.33 L391.81,131.65 L392.41,131.56 L393.01,132.15 L393.61,132.26 L394.21,132.52 L394.81,132.74 L395.41,132.65 L396.01,132.84 L396.61,133.10 L396.79,133.29" fill="none" stroke="#6CC8EC" stroke-width="2.5625" stroke-linejoin="round"  stroke-linecap="round"/>
<path d="M396.79,133.29 L397.39,133.69 L397.99,133.87 L398.59,133.86 L399.19,134.15 L399.79,134.39 L400.39,134.41 L400.99,134.88 L401.59,135.06 L402.19,135.16 L402.79,135.42 L403.39,135.57 L403.58,135.49" fill="none" stroke="#6CC8EC" stroke-width="2.6208333333333336" stroke-linejoin="round"  stroke-linecap="round"/>
<path d="M403.58,135.56 L404.18,135.60 L404.78,135.76 L405.38,135.93 L405.98,136.03 L406.58,136.61 L407.18,136.50 L407.78,136.55 L408.38,136.87 L408.98,136.95 L409.58,137.28 L410.18,137.40 L410.37,137.54" fill="none" stroke="#6CC8EC" stroke-width="2.6791666666666667" stroke-linejoin="round"  stroke-linecap="round"/>
<path d="M410.37,137.38 L410.97,137.70 L411.57,137.84 L412.17,137.99 L412.77,138.39 L413.37,138.31 L413.97,138.60 L414.57,138.93 L415.17,139.14 L415.77,139.03 L416.37,139.03 L416.97,139.64 L417.15,139.48" fill="none" stroke="#6CC8EC" stroke-width="2.7375" stroke-linejoin="round"  stroke-linecap="round"/>
<path d="M417.15,139.48 L417.75,139.50 L418.35,139.62 L418.95,139.85 L419.55,140.05 L420.15,140.13 L420.75,140.25 L421.35,140.90 L421.95,140.98 L422.55,140.78 L423.15,141.14 L423.75,141.47 L423.94,141.36" fill="none" stroke="#6CC8EC" stroke-width="2.7958333333333334" stroke-linejoin="round"  stroke-linecap="round"/>
<path d="M423.94,141.37 L424.54,141.30 L425.14,141.61 L425.74,141.80 L426.34,142.25 L426.94,142.24 L427.54,142.34 L428.14,142.59 L428.74,142.45 L429.34,142.96 L429.94,143.19 L430.54,143.28 L430.73,143.24" fill="none" stroke="#6CC8EC" stroke-width="2.854166666666667" stroke-linejoin="round"  stroke-linecap="round"/>
<path d="M430.73,143.16 L431.33,143.28 L431.93,143.30 L432.53,143.50 L433.13,143.71 L433.73,144.04 L434.33,144.39 L434.93,144.25 L435.53,144.56 L436.13,144.82 L436.73,144.98 L437.33,144.80 L437.51,145.13" fill="none" stroke="#6CC8EC" stroke-width="2.9125" stroke-linejoin="round"  stroke-linecap="round"/>
<path d="M437.51,145.37 L438.11,145.34 L438.71,145.35 L439.31,145.48 L439.91,145.91 L440.51,146.22 L441.11,146.04 L441.71,146.24 L442.31,146.50 L442.91,146.44 L443.51,146.75 L444.11,147.21 L444.30,147.02" fill="none" stroke="#6CC8EC" stroke-width="2.970833333333333" stroke-linejoin="round"  stroke-linecap="round"/>
</g>
<line x1="260.60" y1="106.35" x2="444.30" y2="106.35" stroke="#8a8a8a" stroke-width="0.9" stroke-dasharray="1.35,1.35"/>
<line x1="359.90" y1="27.00" x2="381.60" y2="27.00" stroke="#5A64F2" stroke-width="1.0" />
<line x1="359.90" y1="39.00" x2="381.60" y2="39.00" stroke="#6CC8EC" stroke-width="1.2" />
<text x="383.80" y="30.40" font-size="9.4" text-anchor="start" >BCN</text>
<text x="383.80" y="41.70" font-size="9.4" text-anchor="start" >BCN-FeOOH</text>
<text x="382.60" y="54.80" font-size="9.4" text-anchor="start" ><tspan>O</tspan><tspan font-size="6.39" dy="2.26">2</tspan><tspan dy="-2.26"> (H</tspan><tspan font-size="6.39" dy="2.26">2</tspan><tspan dy="-2.26">O)</tspan></text>
<text x="353.00" y="91.00" font-size="9.4" text-anchor="start" >22.9 μs</text>
<text x="303.20" y="120.60" font-size="9.4" text-anchor="start" >16.8 μs</text>
<text x="297.40" y="135.00" font-size="9.4" text-anchor="start" ><tspan>Δ</tspan><tspan font-weight="bold">t</tspan><tspan>= -6.1 μs</tspan></text>
<line x1="323.40" y1="110.60" x2="353.20" y2="100.30" stroke="#111" stroke-width="0.75" />
<path d="M323.40,110.60 L327.24,110.70 L326.36,108.15 Z" fill="#111"/>
<path d="M353.20,100.30 L350.24,102.75 L349.36,100.20 Z" fill="#111"/>
<line x1="489.00" y1="20.60" x2="673.00" y2="20.60" stroke="#505050" stroke-width="1.25" />
<line x1="489.00" y1="167.60" x2="673.00" y2="167.60" stroke="#5a5a5a" stroke-width="1.25" />
<line x1="489.00" y1="20.00" x2="489.00" y2="168.20" stroke="#9a9a9a" stroke-width="1.6" />
<line x1="673.00" y1="20.00" x2="673.00" y2="168.20" stroke="#9a9a9a" stroke-width="1.6" />
<line x1="486.60" y1="167.60" x2="489.00" y2="167.60" stroke="#3a3a3a" stroke-width="1.0" />
<text x="484.20" y="170.70" font-size="10.0" text-anchor="end" >0.0</text>
<line x1="487.60" y1="155.35" x2="489.00" y2="155.35" stroke="#3a3a3a" stroke-width="0.9" />
<line x1="486.60" y1="143.10" x2="489.00" y2="143.10" stroke="#3a3a3a" stroke-width="1.0" />
<text x="484.20" y="146.20" font-size="10.0" text-anchor="end" >0.2</text>
<line x1="487.60" y1="130.85" x2="489.00" y2="130.85" stroke="#3a3a3a" stroke-width="0.9" />
<line x1="486.60" y1="118.60" x2="489.00" y2="118.60" stroke="#3a3a3a" stroke-width="1.0" />
<text x="484.20" y="121.70" font-size="10.0" text-anchor="end" >0.4</text>
<line x1="487.60" y1="106.35" x2="489.00" y2="106.35" stroke="#3a3a3a" stroke-width="0.9" />
<line x1="486.60" y1="94.10" x2="489.00" y2="94.10" stroke="#3a3a3a" stroke-width="1.0" />
<text x="484.20" y="97.20" font-size="10.0" text-anchor="end" >0.6</text>
<line x1="487.60" y1="81.85" x2="489.00" y2="81.85" stroke="#3a3a3a" stroke-width="0.9" />
<line x1="486.60" y1="69.60" x2="489.00" y2="69.60" stroke="#3a3a3a" stroke-width="1.0" />
<text x="484.20" y="72.70" font-size="10.0" text-anchor="end" >0.8</text>
<line x1="487.60" y1="57.35" x2="489.00" y2="57.35" stroke="#3a3a3a" stroke-width="0.9" />
<line x1="486.60" y1="45.10" x2="489.00" y2="45.10" stroke="#3a3a3a" stroke-width="1.0" />
<text x="484.20" y="48.20" font-size="10.0" text-anchor="end" >1.0</text>
<line x1="487.60" y1="32.85" x2="489.00" y2="32.85" stroke="#3a3a3a" stroke-width="0.9" />
<line x1="486.60" y1="20.60" x2="489.00" y2="20.60" stroke="#3a3a3a" stroke-width="1.0" />
<text x="484.20" y="23.70" font-size="10.0" text-anchor="end" >1.2</text>
<line x1="489.00" y1="167.60" x2="489.00" y2="170.20" stroke="#3a3a3a" stroke-width="1.0" />
<text x="489.00" y="180.10" font-size="10.0" text-anchor="middle" >1E-6</text>
<line x1="507.46" y1="167.60" x2="507.46" y2="169.10" stroke="#3a3a3a" stroke-width="0.9" />
<line x1="518.26" y1="167.60" x2="518.26" y2="169.10" stroke="#3a3a3a" stroke-width="0.9" />
<line x1="525.93" y1="167.60" x2="525.93" y2="169.10" stroke="#3a3a3a" stroke-width="0.9" />
<line x1="531.87" y1="167.60" x2="531.87" y2="169.10" stroke="#3a3a3a" stroke-width="0.9" />
<line x1="536.73" y1="167.60" x2="536.73" y2="169.10" stroke="#3a3a3a" stroke-width="0.9" />
<line x1="540.83" y1="167.60" x2="540.83" y2="169.10" stroke="#3a3a3a" stroke-width="0.9" />
<line x1="544.39" y1="167.60" x2="544.39" y2="169.10" stroke="#3a3a3a" stroke-width="0.9" />
<line x1="547.53" y1="167.60" x2="547.53" y2="169.10" stroke="#3a3a3a" stroke-width="0.9" />
<line x1="550.33" y1="167.60" x2="550.33" y2="170.20" stroke="#3a3a3a" stroke-width="1.0" />
<text x="550.33" y="180.10" font-size="10.0" text-anchor="middle" >1E-5</text>
<line x1="568.80" y1="167.60" x2="568.80" y2="169.10" stroke="#3a3a3a" stroke-width="0.9" />
<line x1="579.60" y1="167.60" x2="579.60" y2="169.10" stroke="#3a3a3a" stroke-width="0.9" />
<line x1="587.26" y1="167.60" x2="587.26" y2="169.10" stroke="#3a3a3a" stroke-width="0.9" />
<line x1="593.20" y1="167.60" x2="593.20" y2="169.10" stroke="#3a3a3a" stroke-width="0.9" />
<line x1="598.06" y1="167.60" x2="598.06" y2="169.10" stroke="#3a3a3a" stroke-width="0.9" />
<line x1="602.17" y1="167.60" x2="602.17" y2="169.10" stroke="#3a3a3a" stroke-width="0.9" />
<line x1="605.72" y1="167.60" x2="605.72" y2="169.10" stroke="#3a3a3a" stroke-width="0.9" />
<line x1="608.86" y1="167.60" x2="608.86" y2="169.10" stroke="#3a3a3a" stroke-width="0.9" />
<line x1="611.67" y1="167.60" x2="611.67" y2="170.20" stroke="#3a3a3a" stroke-width="1.0" />
<text x="611.67" y="180.10" font-size="10.0" text-anchor="middle" >1E-4</text>
<line x1="630.13" y1="167.60" x2="630.13" y2="169.10" stroke="#3a3a3a" stroke-width="0.9" />
<line x1="640.93" y1="167.60" x2="640.93" y2="169.10" stroke="#3a3a3a" stroke-width="0.9" />
<line x1="648.59" y1="167.60" x2="648.59" y2="169.10" stroke="#3a3a3a" stroke-width="0.9" />
<line x1="654.54" y1="167.60" x2="654.54" y2="169.10" stroke="#3a3a3a" stroke-width="0.9" />
<line x1="659.39" y1="167.60" x2="659.39" y2="169.10" stroke="#3a3a3a" stroke-width="0.9" />
<line x1="663.50" y1="167.60" x2="663.50" y2="169.10" stroke="#3a3a3a" stroke-width="0.9" />
<line x1="667.06" y1="167.60" x2="667.06" y2="169.10" stroke="#3a3a3a" stroke-width="0.9" />
<line x1="670.19" y1="167.60" x2="670.19" y2="169.10" stroke="#3a3a3a" stroke-width="0.9" />
<line x1="673.00" y1="167.60" x2="673.00" y2="170.20" stroke="#3a3a3a" stroke-width="1.0" />
<text x="673.00" y="180.10" font-size="10.0" text-anchor="middle" >0.001</text>
<text x="581.20" y="191.90" font-size="11.5" text-anchor="middle" >Time delay (s)</text>
<text transform="translate(466.20,94.45) rotate(-90) scale(1.0,1)" font-size="11.6" text-anchor="middle" ><tspan font-weight="bold">ΔA</tspan> (Normalized)</text>
<text x="456.90" y="14.60" font-size="23" text-anchor="start" >c</text>
<clipPath id="cl3"><rect x="489.00" y="17.60" width="184.00" height="150.00"/></clipPath><g clip-path="url(#cl3)">
<path d="M489.00,167.60 L489.25,167.60 L489.49,167.60 L489.74,167.60 L489.98,167.60 L490.23,167.60 L490.47,167.60 L490.72,167.60 L490.96,167.60 L491.21,167.60 L491.45,167.60 L491.70,167.60 L491.94,167.60 L492.19,167.60 L492.43,167.60 L492.68,167.60 L492.93,167.60 L493.17,167.60 L493.42,167.60 L493.66,167.60 L493.91,167.60 L494.15,163.43 L494.40,159.14 L494.64,154.73 L494.89,150.24 L495.13,145.68 L495.38,141.10 L495.62,136.52 L495.87,131.99 L496.11,127.51 L496.36,123.12 L496.61,118.89 L496.85,114.82 L497.10,110.93 L497.34,107.24 L497.59,103.79 L497.83,100.69 L498.08,97.90 L498.32,95.33 L498.57,92.91 L498.81,90.56 L499.06,88.28 L499.30,86.07 L499.55,83.91 L499.79,81.82 L500.04,79.80 L500.29,77.86 L500.53,75.99 L500.78,74.19 L501.02,72.45 L501.27,70.78 L501.51,69.21 L501.76,67.70 L502.00,66.27 L502.25,64.91 L502.49,63.63 L502.74,62.44 L502.98,61.33 L503.23,60.30 L503.47,59.33 L503.72,58.40 L503.97,57.51 L504.21,56.65 L504.46,55.81 L504.70,55.00 L504.95,54.22 L505.19,53.49 L505.44,52.79 L505.68,52.12 L505.93,51.48 L506.17,50.88 L506.42,50.33 L506.66,49.81 L506.91,49.34 L507.15,48.90 L507.40,48.51 L507.65,48.17 L507.89,47.84 L508.14,47.52 L508.38,47.20 L508.63,46.90 L508.87,46.60 L509.12,46.33 L509.36,46.07 L509.61,45.83 L509.85,45.62 L510.10,45.45 L510.34,45.31 L510.59,45.20 L510.83,45.13 L511.08,45.10" fill="none" stroke="#5A64F2" stroke-width="1.4" stroke-linejoin="round"  stroke-linecap="round"/>
<path d="M511.08,45.09 L511.68,45.15 L512.28,45.32 L512.88,45.60 L513.48,45.95 L514.08,46.40 L514.68,46.93 L515.28,47.55 L515.88,48.21 L516.48,48.94 L517.08,49.72 L517.68,50.53 L517.83,50.74" fill="none" stroke="#5A64F2" stroke-width="1.4124999999999999" stroke-linejoin="round"  stroke-linecap="round"/>
<path d="M517.83,50.74 L518.43,51.60 L519.03,52.48 L519.63,53.41 L520.23,54.27 L520.83,55.17 L521.43,56.12 L522.03,56.97 L522.63,57.82 L523.23,58.66 L523.83,59.46 L524.43,60.26 L524.57,60.43" fill="none" stroke="#5A64F2" stroke-width="1.4375" stroke-linejoin="round"  stroke-linecap="round"/>
<path d="M524.57,60.40 L525.17,61.14 L525.77,61.90 L526.37,62.61 L526.97,63.35 L527.57,64.05 L528.17,64.71 L528.77,65.39 L529.37,66.14 L529.97,66.85 L530.57,67.46 L531.17,68.20 L531.32,68.35" fill="none" stroke="#5A64F2" stroke-width="1.4625" stroke-linejoin="round"  stroke-linecap="round"/>
<path d="M531.32,68.40 L531.92,69.06 L532.52,69.69 L533.12,70.44 L533.72,71.11 L534.32,71.72 L534.92,72.44 L535.52,73.06 L536.12,73.70 L536.72,74.39 L537.32,75.05 L537.92,75.70 L538.07,75.87" fill="none" stroke="#5A64F2" stroke-width="1.4874999999999998" stroke-linejoin="round"  stroke-linecap="round"/>
<path d="M538.07,75.89 L538.67,76.56 L539.27,77.22 L539.87,77.85 L540.47,78.48 L541.07,79.07 L541.67,79.60 L542.27,80.19 L542.87,80.84 L543.47,81.42 L544.07,82.01 L544.67,82.49 L544.81,82.68" fill="none" stroke="#5A64F2" stroke-width="1.5125" stroke-linejoin="round"  stroke-linecap="round"/>
<path d="M544.81,82.63 L545.41,83.31 L546.01,83.80 L546.61,84.35 L547.21,84.77 L547.81,85.34 L548.41,85.94 L549.01,86.39 L549.61,86.95 L550.21,87.28 L550.81,87.80 L551.41,88.33 L551.56,88.39" fill="none" stroke="#5A64F2" stroke-width="1.5374999999999999" stroke-linejoin="round"  stroke-linecap="round"/>
<path d="M551.56,88.37 L552.16,88.90 L552.76,89.30 L553.36,89.65 L553.96,90.08 L554.56,90.71 L555.16,90.95 L555.76,91.39 L556.36,91.85 L556.96,92.35 L557.56,92.80 L558.16,93.14 L558.31,93.25" fill="none" stroke="#5A64F2" stroke-width="1.5625" stroke-linejoin="round"  stroke-linecap="round"/>
<path d="M558.31,93.25 L558.91,93.74 L559.51,94.03 L560.11,94.47 L560.71,94.95 L561.31,95.38 L561.91,95.65 L562.51,96.08 L563.11,96.51 L563.71,97.08 L564.31,97.49 L564.91,97.98 L565.05,97.96" fill="none" stroke="#5A64F2" stroke-width="1.5875" stroke-linejoin="round"  stroke-linecap="round"/>
<path d="M565.05,98.04 L565.65,98.31 L566.25,98.87 L566.85,99.35 L567.45,99.58 L568.05,99.90 L568.65,100.41 L569.25,100.79 L569.85,101.16 L570.45,101.52 L571.05,101.94 L571.65,102.54 L571.80,102.53" fill="none" stroke="#5A64F2" stroke-width="1.6125" stroke-linejoin="round"  stroke-linecap="round"/>
<path d="M571.80,102.39 L572.40,102.95 L573.00,103.20 L573.60,103.57 L574.20,104.14 L574.80,104.35 L575.40,104.67 L576.00,105.12 L576.60,105.55 L577.20,105.85 L577.80,106.30 L578.40,106.50 L578.55,106.62" fill="none" stroke="#5A64F2" stroke-width="1.6375" stroke-linejoin="round"  stroke-linecap="round"/>
<path d="M578.55,106.63 L579.15,107.03 L579.75,107.28 L580.35,107.70 L580.95,107.94 L581.55,108.15 L582.15,108.47 L582.75,109.02 L583.35,109.32 L583.95,109.70 L584.55,109.92 L585.15,110.19 L585.29,110.24" fill="none" stroke="#5A64F2" stroke-width="1.6625" stroke-linejoin="round"  stroke-linecap="round"/>
<path d="M585.29,110.11 L585.89,110.68 L586.49,110.70 L587.09,111.11 L587.69,111.30 L588.29,111.69 L588.89,111.95 L589.49,112.29 L590.09,112.69 L590.69,112.91 L591.29,113.08 L591.89,113.57 L592.04,113.53" fill="none" stroke="#5A64F2" stroke-width="1.6875" stroke-linejoin="round"  stroke-linecap="round"/>
<path d="M592.04,113.63 L592.64,113.95 L593.24,113.89 L593.84,114.41 L594.44,114.81 L595.04,114.82 L595.64,115.07 L596.24,115.59 L596.84,115.68 L597.44,115.96 L598.04,116.41 L598.64,116.49 L598.79,116.61" fill="none" stroke="#5A64F2" stroke-width="1.7125" stroke-linejoin="round"  stroke-linecap="round"/>
<path d="M598.79,116.47 L599.39,116.75 L599.99,117.07 L600.59,117.50 L601.19,117.62 L601.79,118.06 L602.39,118.01 L602.99,118.36 L603.59,118.79 L604.19,118.99 L604.79,119.26 L605.39,119.71 L605.53,119.58" fill="none" stroke="#5A64F2" stroke-width="1.7374999999999998" stroke-linejoin="round"  stroke-linecap="round"/>
<path d="M605.53,119.47 L606.13,119.68 L606.73,119.87 L607.33,120.34 L607.93,120.51 L608.53,120.85 L609.13,120.88 L609.73,121.13 L610.33,121.57 L610.93,122.00 L611.53,122.03 L612.13,122.58 L612.28,122.44" fill="none" stroke="#5A64F2" stroke-width="1.7625" stroke-linejoin="round"  stroke-linecap="round"/>
<path d="M612.28,122.48 L612.88,122.64 L613.48,123.09 L614.08,123.05 L614.68,123.49 L615.28,123.87 L615.88,123.95 L616.48,124.09 L617.08,124.22 L617.68,124.71 L618.28,124.75 L618.88,125.09 L619.03,125.22" fill="none" stroke="#5A64F2" stroke-width="1.7875" stroke-linejoin="round"  stroke-linecap="round"/>
<path d="M619.03,125.24 L619.63,125.70 L620.23,125.79 L620.83,125.95 L621.43,126.38 L622.03,126.31 L622.63,126.59 L623.23,126.99 L623.83,127.16 L624.43,127.21 L625.03,127.55 L625.63,128.01 L625.77,127.89" fill="none" stroke="#5A64F2" stroke-width="1.8125" stroke-linejoin="round"  stroke-linecap="round"/>
<path d="M625.77,127.74 L626.37,128.25 L626.97,128.09 L627.57,128.85 L628.17,128.93 L628.77,128.95 L629.37,129.56 L629.97,129.68 L630.57,129.48 L631.17,129.81 L631.77,130.18 L632.37,130.70 L632.52,130.46" fill="none" stroke="#5A64F2" stroke-width="1.8375" stroke-linejoin="round"  stroke-linecap="round"/>
<path d="M632.52,130.24 L633.12,130.41 L633.72,130.79 L634.32,130.85 L634.92,131.29 L635.52,131.59 L636.12,131.75 L636.72,131.78 L637.32,131.93 L637.92,132.62 L638.52,132.61 L639.12,132.85 L639.27,132.92" fill="none" stroke="#5A64F2" stroke-width="1.8625" stroke-linejoin="round"  stroke-linecap="round"/>
<path d="M639.27,132.90 L639.87,133.25 L640.47,133.60 L641.07,133.76 L641.67,133.91 L642.27,133.87 L642.87,133.96 L643.47,134.12 L644.07,134.83 L644.67,134.51 L645.27,135.05 L645.87,135.47 L646.01,135.26" fill="none" stroke="#5A64F2" stroke-width="1.8875" stroke-linejoin="round"  stroke-linecap="round"/>
<path d="M646.01,135.14 L646.61,135.39 L647.21,135.61 L647.81,136.17 L648.41,136.19 L649.01,136.50 L649.61,136.15 L650.21,136.82 L650.81,136.83 L651.41,137.00 L652.01,137.48 L652.61,137.62 L652.76,137.50" fill="none" stroke="#5A64F2" stroke-width="1.9125" stroke-linejoin="round"  stroke-linecap="round"/>
<path d="M652.76,137.80 L653.36,137.87 L653.96,138.19 L654.56,138.04 L655.16,138.33 L655.76,138.68 L656.36,138.64 L656.96,138.61 L657.56,139.12 L658.16,139.52 L658.76,139.71 L659.36,139.37 L659.51,139.68" fill="none" stroke="#5A64F2" stroke-width="1.9375" stroke-linejoin="round"  stroke-linecap="round"/>
<path d="M659.51,139.60 L660.11,139.67 L660.71,139.95 L661.31,140.60 L661.91,140.39 L662.51,140.50 L663.11,140.66 L663.71,140.98 L664.31,141.34 L664.91,141.28 L665.51,141.35 L666.11,141.57 L666.25,141.83" fill="none" stroke="#5A64F2" stroke-width="1.9625" stroke-linejoin="round"  stroke-linecap="round"/>
<path d="M666.25,141.64 L666.85,142.33 L667.45,141.94 L668.05,142.59 L668.65,142.27 L669.25,142.99 L669.85,142.77 L670.45,143.36 L671.05,143.28 L671.65,143.19 L672.25,143.39 L672.85,144.12 L673.00,143.94" fill="none" stroke="#5A64F2" stroke-width="1.9874999999999998" stroke-linejoin="round"  stroke-linecap="round"/>
<path d="M489.00,167.60 L489.25,167.60 L489.49,167.60 L489.74,167.60 L489.98,167.60 L490.23,167.60 L490.47,167.60 L490.72,167.60 L490.96,167.60 L491.21,167.60 L491.45,167.60 L491.70,167.60 L491.94,167.60 L492.19,167.60 L492.43,167.60 L492.68,167.60 L492.93,167.60 L493.17,167.60 L493.42,167.60 L493.66,167.60 L493.91,167.60 L494.15,167.60 L494.40,164.83 L494.64,161.07 L494.89,157.20 L495.13,153.25 L495.38,149.23 L495.62,145.17 L495.87,141.10 L496.11,137.03 L496.36,132.98 L496.61,128.99 L496.85,125.07 L497.10,121.24 L497.34,117.51 L497.59,113.90 L497.83,110.49 L498.08,107.25 L498.32,104.20 L498.57,101.36 L498.81,98.74 L499.06,96.44 L499.30,94.25 L499.55,92.13 L499.79,90.05 L500.04,88.02 L500.29,86.06 L500.53,84.15 L500.78,82.28 L501.02,80.47 L501.27,78.71 L501.51,77.02 L501.76,75.38 L502.00,73.79 L502.25,72.26 L502.49,70.78 L502.74,69.38 L502.98,68.03 L503.23,66.74 L503.47,65.50 L503.72,64.33 L503.97,63.23 L504.21,62.19 L504.46,61.21 L504.70,60.29 L504.95,59.43 L505.19,58.60 L505.44,57.78 L505.68,56.98 L505.93,56.19 L506.17,55.43 L506.42,54.69 L506.66,53.98 L506.91,53.29 L507.15,52.63 L507.40,52.00 L507.65,51.42 L507.89,50.87 L508.14,50.35 L508.38,49.88 L508.63,49.44 L508.87,49.07 L509.12,48.74 L509.36,48.45 L509.61,48.22 L509.85,48.02 L510.10,47.84 L510.34,47.66 L510.59,47.49 L510.83,47.32 L511.08,47.17 L511.33,47.02 L511.57,46.89 L511.82,46.77 L512.06,46.65 L512.31,46.56 L512.55,46.48 L512.80,46.41 L513.04,46.37 L513.29,46.34 L513.53,46.32" fill="none" stroke="#BFA3E3" stroke-width="2.6" stroke-linejoin="round"  stroke-linecap="round"/>
<path d="M513.53,46.32 L514.13,46.35 L514.73,46.43 L515.33,46.57 L515.93,46.75 L516.53,46.97 L517.13,47.22 L517.73,47.52 L518.33,47.85 L518.93,48.21 L519.53,48.59 L520.13,48.98 L520.18,49.01" fill="none" stroke="#BFA3E3" stroke-width="2.6791666666666667" stroke-linejoin="round"  stroke-linecap="round"/>
<path d="M520.18,49.01 L520.78,49.40 L521.38,49.86 L521.98,50.27 L522.58,50.70 L523.18,51.16 L523.78,51.59 L524.38,52.02 L524.98,52.46 L525.58,52.87 L526.18,53.32 L526.78,53.80 L526.82,53.85" fill="none" stroke="#BFA3E3" stroke-width="2.8375" stroke-linejoin="round"  stroke-linecap="round"/>
<path d="M526.82,53.88 L527.42,54.32 L528.02,54.83 L528.62,55.35 L529.22,55.89 L529.82,56.44 L530.42,57.02 L531.02,57.57 L531.62,58.14 L532.22,58.75 L532.82,59.27 L533.42,59.87 L533.47,59.90" fill="none" stroke="#BFA3E3" stroke-width="2.9958333333333336" stroke-linejoin="round"  stroke-linecap="round"/>
<path d="M533.47,59.92 L534.07,60.47 L534.67,61.03 L535.27,61.61 L535.87,62.16 L536.47,62.69 L537.07,63.26 L537.67,63.81 L538.27,64.38 L538.87,64.99 L539.47,65.49 L540.07,66.01 L540.11,66.08" fill="none" stroke="#BFA3E3" stroke-width="3.154166666666667" stroke-linejoin="round"  stroke-linecap="round"/>
<path d="M540.11,66.08 L540.71,66.66 L541.31,67.16 L541.91,67.73 L542.51,68.19 L543.11,68.71 L543.71,69.30 L544.31,69.74 L544.91,70.28 L545.51,70.79 L546.11,71.26 L546.71,71.73 L546.76,71.82" fill="none" stroke="#BFA3E3" stroke-width="3.3125" stroke-linejoin="round"  stroke-linecap="round"/>
<path d="M546.76,71.75 L547.36,72.36 L547.96,72.80 L548.56,73.30 L549.16,73.70 L549.76,74.22 L550.36,74.67 L550.96,75.08 L551.56,75.52 L552.16,75.97 L552.76,76.38 L553.36,76.85 L553.40,76.90" fill="none" stroke="#BFA3E3" stroke-width="3.470833333333333" stroke-linejoin="round"  stroke-linecap="round"/>
<path d="M553.40,76.94 L554.00,77.30 L554.60,77.86 L555.20,78.26 L555.80,78.72 L556.40,79.21 L557.00,79.64 L557.60,80.01 L558.20,80.48 L558.80,80.89 L559.40,81.34 L560.00,81.94 L560.04,81.90" fill="none" stroke="#BFA3E3" stroke-width="3.6291666666666664" stroke-linejoin="round"  stroke-linecap="round"/>
<path d="M560.04,81.92 L560.64,82.44 L561.24,82.85 L561.84,83.21 L562.44,83.78 L563.04,84.21 L563.64,84.56 L564.24,84.93 L564.84,85.41 L565.44,85.82 L566.04,86.29 L566.64,86.67 L566.69,86.78" fill="none" stroke="#BFA3E3" stroke-width="3.7875" stroke-linejoin="round"  stroke-linecap="round"/>
<path d="M566.69,86.82 L567.29,87.31 L567.89,87.57 L568.49,88.12 L569.09,88.50 L569.69,88.91 L570.29,89.42 L570.89,89.73 L571.49,90.24 L572.09,90.49 L572.69,91.11 L573.29,91.36 L573.33,91.45" fill="none" stroke="#BFA3E3" stroke-width="3.9458333333333337" stroke-linejoin="round"  stroke-linecap="round"/>
<path d="M573.33,91.34 L573.93,91.96 L574.53,92.34 L575.13,92.74 L575.73,93.18 L576.33,93.50 L576.93,93.85 L577.53,94.31 L578.13,94.88 L578.73,95.30 L579.33,95.53 L579.93,95.99 L579.98,96.04" fill="none" stroke="#BFA3E3" stroke-width="4.104166666666667" stroke-linejoin="round"  stroke-linecap="round"/>
<path d="M579.98,96.02 L580.58,96.55 L581.18,96.73 L581.78,97.36 L582.38,97.62 L582.98,98.10 L583.58,98.40 L584.18,98.80 L584.78,99.42 L585.38,99.73 L585.98,100.26 L586.58,100.64 L586.62,100.58" fill="none" stroke="#BFA3E3" stroke-width="4.2625" stroke-linejoin="round"  stroke-linecap="round"/>
<path d="M586.62,100.65 L587.22,100.86 L587.82,101.42 L588.42,101.94 L589.02,102.21 L589.62,102.49 L590.22,102.93 L590.82,103.57 L591.42,103.97 L592.02,104.16 L592.62,104.58 L593.22,105.10 L593.27,105.07" fill="none" stroke="#BFA3E3" stroke-width="4.420833333333333" stroke-linejoin="round"  stroke-linecap="round"/>
<path d="M593.27,105.07 L593.87,105.37 L594.47,106.02 L595.07,106.30 L595.67,106.62 L596.27,106.91 L596.87,107.45 L597.47,107.92 L598.07,108.13 L598.67,108.49 L599.27,109.08 L599.87,109.53 L599.91,109.43" fill="none" stroke="#BFA3E3" stroke-width="4.5791666666666675" stroke-linejoin="round"  stroke-linecap="round"/>
<path d="M599.91,109.38 L600.51,109.80 L601.11,110.24 L601.71,110.59 L602.31,110.84 L602.91,111.27 L603.51,111.63 L604.11,112.00 L604.71,112.34 L605.31,112.81 L605.91,113.12 L606.51,113.70 L606.56,113.61" fill="none" stroke="#BFA3E3" stroke-width="4.737500000000001" stroke-linejoin="round"  stroke-linecap="round"/>
<path d="M606.56,113.55 L607.16,114.15 L607.76,114.45 L608.36,114.62 L608.96,114.94 L609.56,115.44 L610.16,115.76 L610.76,116.13 L611.36,116.33 L611.96,116.82 L612.56,117.25 L613.16,117.47 L613.20,117.52" fill="none" stroke="#BFA3E3" stroke-width="4.895833333333334" stroke-linejoin="round"  stroke-linecap="round"/>
<path d="M613.20,117.42 L613.80,118.02 L614.40,118.11 L615.00,118.71 L615.60,118.92 L616.20,118.98 L616.80,119.47 L617.40,119.68 L618.00,120.24 L618.60,120.41 L619.20,120.60 L619.80,121.24 L619.84,121.09" fill="none" stroke="#BFA3E3" stroke-width="5.054166666666667" stroke-linejoin="round"  stroke-linecap="round"/>
<path d="M619.84,121.21 L620.44,121.44 L621.04,121.72 L621.64,121.82 L622.24,122.49 L622.84,122.50 L623.44,122.88 L624.04,123.16 L624.64,123.44 L625.24,123.53 L625.84,124.17 L626.44,124.29 L626.49,124.31" fill="none" stroke="#BFA3E3" stroke-width="5.2125" stroke-linejoin="round"  stroke-linecap="round"/>
<path d="M626.49,124.26 L627.09,124.74 L627.69,125.01 L628.29,125.22 L628.89,125.57 L629.49,125.59 L630.09,125.75 L630.69,126.11 L631.29,126.48 L631.89,126.81 L632.49,127.04 L633.09,127.25 L633.13,127.21" fill="none" stroke="#BFA3E3" stroke-width="5.370833333333334" stroke-linejoin="round"  stroke-linecap="round"/>
<path d="M633.13,127.26 L633.73,127.53 L634.33,127.73 L634.93,127.72 L635.53,128.20 L636.13,128.32 L636.73,128.46 L637.33,128.94 L637.93,129.28 L638.53,129.25 L639.13,129.65 L639.73,129.85 L639.78,129.81" fill="none" stroke="#BFA3E3" stroke-width="5.529166666666667" stroke-linejoin="round"  stroke-linecap="round"/>
<path d="M639.78,129.90 L640.38,130.22 L640.98,130.35 L641.58,130.27 L642.18,130.75 L642.78,130.83 L643.38,131.07 L643.98,131.41 L644.58,131.37 L645.18,131.80 L645.78,132.16 L646.38,131.94 L646.42,132.16" fill="none" stroke="#BFA3E3" stroke-width="5.6875" stroke-linejoin="round"  stroke-linecap="round"/>
<path d="M646.42,132.34 L647.02,132.47 L647.62,132.51 L648.22,132.90 L648.82,132.74 L649.42,132.98 L650.02,133.60 L650.62,133.60 L651.22,133.56 L651.82,133.73 L652.42,134.08 L653.02,134.32 L653.07,134.31" fill="none" stroke="#BFA3E3" stroke-width="5.845833333333333" stroke-linejoin="round"  stroke-linecap="round"/>
<path d="M653.07,134.57 L653.67,134.32 L654.27,134.75 L654.87,134.83 L655.47,135.07 L656.07,135.46 L656.67,135.20 L657.27,135.77 L657.87,135.89 L658.47,135.82 L659.07,135.92 L659.67,136.43 L659.71,136.31" fill="none" stroke="#BFA3E3" stroke-width="6.004166666666667" stroke-linejoin="round"  stroke-linecap="round"/>
<path d="M659.71,136.51 L660.31,136.40 L660.91,136.46 L661.51,136.87 L662.11,137.12 L662.71,137.11 L663.31,137.32 L663.91,137.32 L664.51,137.52 L665.11,137.73 L665.71,138.21 L666.31,138.02 L666.36,138.25" fill="none" stroke="#BFA3E3" stroke-width="6.1625000000000005" stroke-linejoin="round"  stroke-linecap="round"/>
<path d="M666.36,138.07 L666.96,138.40 L667.56,138.43 L668.16,138.61 L668.76,139.08 L669.36,138.96 L669.96,139.32 L670.56,139.21 L671.16,139.63 L671.76,139.91 L672.36,139.93 L672.96,139.95 L673.00,140.15" fill="none" stroke="#BFA3E3" stroke-width="6.320833333333334" stroke-linejoin="round"  stroke-linecap="round"/>
</g>
<line x1="489.00" y1="106.35" x2="673.00" y2="106.35" stroke="#a0a0a0" stroke-width="0.9" stroke-dasharray="1.35,1.35"/>
<line x1="597.20" y1="27.10" x2="618.60" y2="27.10" stroke="#5A64F2" stroke-width="1.0" />
<line x1="597.20" y1="39.00" x2="618.60" y2="39.00" stroke="#BFA3E3" stroke-width="1.6" />
<text x="621.20" y="30.40" font-size="9.4" text-anchor="start" >BCN</text>
<text x="621.20" y="41.70" font-size="9.4" text-anchor="start" ><tspan>CoO</tspan><tspan font-size="6.39" dy="2.26" font-style="italic">x</tspan><tspan dy="-2.26">-BCN</tspan></text>
<text x="625.80" y="55.30" font-size="9.4" text-anchor="start" ><tspan>N</tspan><tspan font-size="6.39" dy="2.26">2</tspan><tspan dy="-2.26"> (H</tspan><tspan font-size="6.39" dy="2.26">2</tspan><tspan dy="-2.26">O)</tspan></text>
<text x="596.80" y="96.80" font-size="9.4" text-anchor="start" >49.2 μs</text>
<text x="548.00" y="121.00" font-size="9.4" text-anchor="start" >25.1 μs</text>
<text x="531.60" y="138.90" font-size="9.4" text-anchor="start" ><tspan>Δ</tspan><tspan font-weight="bold">t</tspan><tspan>= 24.1 μs</tspan></text>
<line x1="575.00" y1="106.00" x2="563.50" y2="112.30" stroke="#111" stroke-width="0.75" />
<path d="M563.50,112.30 L566.01,109.39 L567.31,111.75 Z" fill="#111"/>
<line x1="592.80" y1="106.20" x2="604.90" y2="98.90" stroke="#111" stroke-width="0.75" />
<path d="M604.90,98.90 L602.51,101.92 L601.12,99.60 Z" fill="#111"/>
<line x1="32.60" y1="217.90" x2="216.20" y2="217.90" stroke="#8a8a8a" stroke-width="1.7" />
<line x1="32.60" y1="364.60" x2="216.20" y2="364.60" stroke="#5a5a5a" stroke-width="1.25" />
<line x1="32.60" y1="217.30" x2="32.60" y2="365.20" stroke="#9a9a9a" stroke-width="1.6" />
<line x1="216.20" y1="217.30" x2="216.20" y2="365.20" stroke="#9a9a9a" stroke-width="1.6" />
<line x1="30.20" y1="364.60" x2="32.60" y2="364.60" stroke="#3a3a3a" stroke-width="1.0" />
<text x="27.80" y="367.70" font-size="10.0" text-anchor="end" >0.0</text>
<line x1="31.20" y1="352.38" x2="32.60" y2="352.38" stroke="#3a3a3a" stroke-width="0.9" />
<line x1="30.20" y1="340.15" x2="32.60" y2="340.15" stroke="#3a3a3a" stroke-width="1.0" />
<text x="27.80" y="343.25" font-size="10.0" text-anchor="end" >0.2</text>
<line x1="31.20" y1="327.93" x2="32.60" y2="327.93" stroke="#3a3a3a" stroke-width="0.9" />
<line x1="30.20" y1="315.70" x2="32.60" y2="315.70" stroke="#3a3a3a" stroke-width="1.0" />
<text x="27.80" y="318.80" font-size="10.0" text-anchor="end" >0.4</text>
<line x1="31.20" y1="303.47" x2="32.60" y2="303.47" stroke="#3a3a3a" stroke-width="0.9" />
<line x1="30.20" y1="291.25" x2="32.60" y2="291.25" stroke="#3a3a3a" stroke-width="1.0" />
<text x="27.80" y="294.35" font-size="10.0" text-anchor="end" >0.6</text>
<line x1="31.20" y1="279.02" x2="32.60" y2="279.02" stroke="#3a3a3a" stroke-width="0.9" />
<line x1="30.20" y1="266.80" x2="32.60" y2="266.80" stroke="#3a3a3a" stroke-width="1.0" />
<text x="27.80" y="269.90" font-size="10.0" text-anchor="end" >0.8</text>
<line x1="31.20" y1="254.58" x2="32.60" y2="254.58" stroke="#3a3a3a" stroke-width="0.9" />
<line x1="30.20" y1="242.35" x2="32.60" y2="242.35" stroke="#3a3a3a" stroke-width="1.0" />
<text x="27.80" y="245.45" font-size="10.0" text-anchor="end" >1.0</text>
<line x1="31.20" y1="230.13" x2="32.60" y2="230.13" stroke="#3a3a3a" stroke-width="0.9" />
<line x1="30.20" y1="217.90" x2="32.60" y2="217.90" stroke="#3a3a3a" stroke-width="1.0" />
<text x="27.80" y="221.00" font-size="10.0" text-anchor="end" >1.2</text>
<line x1="32.60" y1="364.60" x2="32.60" y2="367.20" stroke="#3a3a3a" stroke-width="1.0" />
<text x="32.60" y="377.10" font-size="10.0" text-anchor="middle" >1E-6</text>
<line x1="51.02" y1="364.60" x2="51.02" y2="366.10" stroke="#3a3a3a" stroke-width="0.9" />
<line x1="61.80" y1="364.60" x2="61.80" y2="366.10" stroke="#3a3a3a" stroke-width="0.9" />
<line x1="69.45" y1="364.60" x2="69.45" y2="366.10" stroke="#3a3a3a" stroke-width="0.9" />
<line x1="75.38" y1="364.60" x2="75.38" y2="366.10" stroke="#3a3a3a" stroke-width="0.9" />
<line x1="80.22" y1="364.60" x2="80.22" y2="366.10" stroke="#3a3a3a" stroke-width="0.9" />
<line x1="84.32" y1="364.60" x2="84.32" y2="366.10" stroke="#3a3a3a" stroke-width="0.9" />
<line x1="87.87" y1="364.60" x2="87.87" y2="366.10" stroke="#3a3a3a" stroke-width="0.9" />
<line x1="91.00" y1="364.60" x2="91.00" y2="366.10" stroke="#3a3a3a" stroke-width="0.9" />
<line x1="93.80" y1="364.60" x2="93.80" y2="367.20" stroke="#3a3a3a" stroke-width="1.0" />
<text x="93.80" y="377.10" font-size="10.0" text-anchor="middle" >1E-5</text>
<line x1="112.22" y1="364.60" x2="112.22" y2="366.10" stroke="#3a3a3a" stroke-width="0.9" />
<line x1="123.00" y1="364.60" x2="123.00" y2="366.10" stroke="#3a3a3a" stroke-width="0.9" />
<line x1="130.65" y1="364.60" x2="130.65" y2="366.10" stroke="#3a3a3a" stroke-width="0.9" />
<line x1="136.58" y1="364.60" x2="136.58" y2="366.10" stroke="#3a3a3a" stroke-width="0.9" />
<line x1="141.42" y1="364.60" x2="141.42" y2="366.10" stroke="#3a3a3a" stroke-width="0.9" />
<line x1="145.52" y1="364.60" x2="145.52" y2="366.10" stroke="#3a3a3a" stroke-width="0.9" />
<line x1="149.07" y1="364.60" x2="149.07" y2="366.10" stroke="#3a3a3a" stroke-width="0.9" />
<line x1="152.20" y1="364.60" x2="152.20" y2="366.10" stroke="#3a3a3a" stroke-width="0.9" />
<line x1="155.00" y1="364.60" x2="155.00" y2="367.20" stroke="#3a3a3a" stroke-width="1.0" />
<text x="155.00" y="377.10" font-size="10.0" text-anchor="middle" >1E-4</text>
<line x1="173.42" y1="364.60" x2="173.42" y2="366.10" stroke="#3a3a3a" stroke-width="0.9" />
<line x1="184.20" y1="364.60" x2="184.20" y2="366.10" stroke="#3a3a3a" stroke-width="0.9" />
<line x1="191.85" y1="364.60" x2="191.85" y2="366.10" stroke="#3a3a3a" stroke-width="0.9" />
<line x1="197.78" y1="364.60" x2="197.78" y2="366.10" stroke="#3a3a3a" stroke-width="0.9" />
<line x1="202.62" y1="364.60" x2="202.62" y2="366.10" stroke="#3a3a3a" stroke-width="0.9" />
<line x1="206.72" y1="364.60" x2="206.72" y2="366.10" stroke="#3a3a3a" stroke-width="0.9" />
<line x1="210.27" y1="364.60" x2="210.27" y2="366.10" stroke="#3a3a3a" stroke-width="0.9" />
<line x1="213.40" y1="364.60" x2="213.40" y2="366.10" stroke="#3a3a3a" stroke-width="0.9" />
<line x1="216.20" y1="364.60" x2="216.20" y2="367.20" stroke="#3a3a3a" stroke-width="1.0" />
<text x="216.20" y="377.10" font-size="10.0" text-anchor="middle" >0.001</text>
<text x="124.60" y="388.90" font-size="11.5" text-anchor="middle" >Time delay (s)</text>
<text transform="translate(8.50,291.60) rotate(-90) scale(1.0,1)" font-size="11.6" text-anchor="middle" ><tspan font-weight="bold">ΔA</tspan> (Normalized)</text>
<text x="1.40" y="212.60" font-size="23" text-anchor="start" >d</text>
<clipPath id="cl4"><rect x="32.60" y="214.90" width="183.60" height="149.70"/></clipPath><g clip-path="url(#cl4)">
<path d="M32.60,364.60 L32.84,364.60 L33.09,364.60 L33.33,364.60 L33.58,364.60 L33.82,364.60 L34.07,364.60 L34.31,364.60 L34.56,364.60 L34.80,364.60 L35.05,364.60 L35.29,364.60 L35.54,364.60 L35.78,364.60 L36.03,364.60 L36.27,364.60 L36.52,364.60 L36.76,364.60 L37.01,364.60 L37.25,364.60 L37.50,364.60 L37.74,364.60 L37.99,364.60 L38.23,362.59 L38.48,358.54 L38.72,354.37 L38.96,350.07 L39.21,345.71 L39.45,341.31 L39.70,336.89 L39.94,332.48 L40.19,328.12 L40.43,323.84 L40.68,319.64 L40.92,315.56 L41.17,311.62 L41.41,307.90 L41.66,304.38 L41.90,301.08 L42.15,298.03 L42.39,295.25 L42.64,292.82 L42.88,290.48 L43.13,288.21 L43.37,285.99 L43.62,283.82 L43.86,281.74 L44.11,279.71 L44.35,277.75 L44.60,275.84 L44.84,273.99 L45.08,272.23 L45.33,270.53 L45.57,268.90 L45.82,267.33 L46.06,265.82 L46.31,264.40 L46.55,263.05 L46.80,261.77 L47.04,260.56 L47.29,259.41 L47.53,258.36 L47.78,257.38 L48.02,256.45 L48.27,255.56 L48.51,254.69 L48.76,253.84 L49.00,253.02 L49.25,252.23 L49.49,251.46 L49.74,250.72 L49.98,250.03 L50.23,249.37 L50.47,248.74 L50.72,248.15 L50.96,247.60 L51.20,247.10 L51.45,246.64 L51.69,246.23 L51.94,245.86 L52.18,245.54 L52.43,245.28 L52.67,245.02 L52.92,244.77 L53.16,244.52 L53.41,244.29 L53.65,244.07 L53.90,243.86 L54.14,243.67 L54.39,243.49 L54.63,243.34 L54.88,243.21 L55.12,243.11 L55.37,243.03 L55.61,242.98 L55.86,242.96" fill="none" stroke="#E8828C" stroke-width="1.2" stroke-linejoin="round" stroke-dasharray="2,1.3" stroke-linecap="round"/>
<path d="M55.86,242.96 L56.46,243.01 L57.06,243.16 L57.66,243.41 L58.26,243.72 L58.86,244.09 L59.46,244.51 L60.06,244.97 L60.66,245.46 L61.26,245.96 L61.86,246.45 L62.46,246.95 L62.54,247.02" fill="none" stroke="#E8828C" stroke-width="1.2229166666666667" stroke-linejoin="round" stroke-dasharray="2,1.3" stroke-linecap="round"/>
<path d="M62.54,247.02 L63.14,247.55 L63.74,248.12 L64.34,248.76 L64.94,249.45 L65.54,250.15 L66.14,250.90 L66.74,251.65 L67.34,252.38 L67.94,253.14 L68.54,253.86 L69.14,254.59 L69.22,254.67" fill="none" stroke="#E8828C" stroke-width="1.26875" stroke-linejoin="round" stroke-dasharray="2,1.3" stroke-linecap="round"/>
<path d="M69.22,254.69 L69.82,255.35 L70.42,256.04 L71.02,256.70 L71.62,257.31 L72.22,257.97 L72.82,258.57 L73.42,259.21 L74.02,259.82 L74.62,260.43 L75.22,261.00 L75.82,261.61 L75.90,261.70" fill="none" stroke="#E8828C" stroke-width="1.3145833333333332" stroke-linejoin="round" stroke-dasharray="2,1.3" stroke-linecap="round"/>
<path d="M75.90,261.70 L76.50,262.30 L77.10,262.87 L77.70,263.50 L78.30,264.09 L78.90,264.65 L79.50,265.22 L80.10,265.84 L80.70,266.41 L81.30,267.01 L81.90,267.58 L82.50,268.15 L82.58,268.24" fill="none" stroke="#E8828C" stroke-width="1.3604166666666666" stroke-linejoin="round" stroke-dasharray="2,1.3" stroke-linecap="round"/>
<path d="M82.58,268.20 L83.18,268.79 L83.78,269.39 L84.38,269.99 L84.98,270.54 L85.58,271.14 L86.18,271.70 L86.78,272.31 L87.38,272.87 L87.98,273.42 L88.58,273.98 L89.18,274.55 L89.26,274.66" fill="none" stroke="#E8828C" stroke-width="1.40625" stroke-linejoin="round" stroke-dasharray="2,1.3" stroke-linecap="round"/>
<path d="M89.26,274.62 L89.86,275.28 L90.46,275.86 L91.06,276.43 L91.66,276.96 L92.26,277.59 L92.86,278.14 L93.46,278.80 L94.06,279.37 L94.66,279.99 L95.26,280.58 L95.86,281.17 L95.94,281.26" fill="none" stroke="#E8828C" stroke-width="1.4520833333333332" stroke-linejoin="round" stroke-dasharray="2,1.3" stroke-linecap="round"/>
<path d="M95.94,281.30 L96.54,281.93 L97.14,282.47 L97.74,283.11 L98.34,283.76 L98.94,284.38 L99.54,284.98 L100.14,285.61 L100.74,286.29 L101.34,286.84 L101.94,287.46 L102.54,288.14 L102.62,288.21" fill="none" stroke="#E8828C" stroke-width="1.4979166666666666" stroke-linejoin="round" stroke-dasharray="2,1.3" stroke-linecap="round"/>
<path d="M102.62,288.18 L103.22,288.88 L103.82,289.43 L104.42,290.12 L105.02,290.67 L105.62,291.35 L106.22,291.94 L106.82,292.54 L107.42,293.07 L108.02,293.65 L108.62,294.22 L109.22,294.82 L109.30,294.94" fill="none" stroke="#E8828C" stroke-width="1.54375" stroke-linejoin="round" stroke-dasharray="2,1.3" stroke-linecap="round"/>
<path d="M109.30,294.96 L109.90,295.45 L110.50,296.03 L111.10,296.64 L111.70,297.13 L112.30,297.70 L112.90,298.22 L113.50,298.81 L114.10,299.25 L114.70,299.88 L115.30,300.33 L115.90,300.84 L115.98,300.88" fill="none" stroke="#E8828C" stroke-width="1.5895833333333331" stroke-linejoin="round" stroke-dasharray="2,1.3" stroke-linecap="round"/>
<path d="M115.98,300.89 L116.59,301.37 L117.19,301.93 L117.78,302.39 L118.38,302.85 L118.98,303.19 L119.58,303.73 L120.18,304.24 L120.78,304.64 L121.38,305.06 L121.98,305.51 L122.58,305.87 L122.67,305.98" fill="none" stroke="#E8828C" stroke-width="1.6354166666666665" stroke-linejoin="round" stroke-dasharray="2,1.3" stroke-linecap="round"/>
<path d="M122.67,306.02 L123.27,306.45 L123.87,306.74 L124.47,307.23 L125.07,307.66 L125.67,308.02 L126.27,308.48 L126.87,308.92 L127.47,309.31 L128.07,309.60 L128.67,309.95 L129.27,310.46 L129.35,310.45" fill="none" stroke="#E8828C" stroke-width="1.68125" stroke-linejoin="round" stroke-dasharray="2,1.3" stroke-linecap="round"/>
<path d="M129.35,310.47 L129.95,310.89 L130.55,311.27 L131.15,311.53 L131.75,311.96 L132.35,312.27 L132.95,312.72 L133.55,313.06 L134.15,313.33 L134.75,313.73 L135.35,314.10 L135.95,314.38 L136.03,314.47" fill="none" stroke="#E8828C" stroke-width="1.7270833333333333" stroke-linejoin="round" stroke-dasharray="2,1.3" stroke-linecap="round"/>
<path d="M136.03,314.41 L136.63,314.81 L137.23,315.07 L137.83,315.49 L138.43,315.92 L139.03,316.23 L139.63,316.40 L140.23,316.89 L140.83,317.19 L141.43,317.51 L142.03,317.69 L142.63,318.16 L142.71,318.15" fill="none" stroke="#E8828C" stroke-width="1.7729166666666667" stroke-linejoin="round" stroke-dasharray="2,1.3" stroke-linecap="round"/>
<path d="M142.71,318.08 L143.31,318.54 L143.91,318.76 L144.51,319.08 L145.11,319.36 L145.71,319.82 L146.31,319.99 L146.91,320.45 L147.51,320.67 L148.11,320.89 L148.71,321.31 L149.31,321.58 L149.39,321.62" fill="none" stroke="#E8828C" stroke-width="1.8187499999999999" stroke-linejoin="round" stroke-dasharray="2,1.3" stroke-linecap="round"/>
<path d="M149.39,321.50 L149.99,321.99 L150.59,322.15 L151.19,322.39 L151.79,322.86 L152.39,323.14 L152.99,323.35 L153.59,323.58 L154.19,323.95 L154.79,324.25 L155.39,324.55 L155.99,324.79 L156.07,324.83" fill="none" stroke="#E8828C" stroke-width="1.864583333333333" stroke-linejoin="round" stroke-dasharray="2,1.3" stroke-linecap="round"/>
<path d="M156.07,324.84 L156.67,325.16 L157.27,325.30 L157.87,325.57 L158.47,325.92 L159.07,326.26 L159.67,326.54 L160.27,326.82 L160.87,326.98 L161.47,327.32 L162.07,327.42 L162.67,327.75 L162.75,327.82" fill="none" stroke="#E8828C" stroke-width="1.9104166666666664" stroke-linejoin="round" stroke-dasharray="2,1.3" stroke-linecap="round"/>
<path d="M162.75,327.70 L163.35,328.17 L163.95,328.47 L164.55,328.64 L165.15,328.92 L165.75,329.06 L166.35,329.43 L166.95,329.49 L167.55,329.81 L168.15,330.05 L168.75,330.44 L169.35,330.50 L169.43,330.62" fill="none" stroke="#E8828C" stroke-width="1.9562499999999998" stroke-linejoin="round" stroke-dasharray="2,1.3" stroke-linecap="round"/>
<path d="M169.43,330.52 L170.03,330.74 L170.63,331.20 L171.23,331.29 L171.83,331.70 L172.43,331.76 L173.03,332.15 L173.63,332.20 L174.23,332.64 L174.83,332.89 L175.43,333.09 L176.03,333.26 L176.11,333.24" fill="none" stroke="#E8828C" stroke-width="2.002083333333333" stroke-linejoin="round" stroke-dasharray="2,1.3" stroke-linecap="round"/>
<path d="M176.11,333.36 L176.71,333.59 L177.31,333.83 L177.91,333.84 L178.51,334.24 L179.11,334.44 L179.71,334.53 L180.31,334.69 L180.91,335.14 L181.51,335.22 L182.11,335.45 L182.71,335.78 L182.80,335.68" fill="none" stroke="#E8828C" stroke-width="2.0479166666666666" stroke-linejoin="round" stroke-dasharray="2,1.3" stroke-linecap="round"/>
<path d="M182.79,335.68 L183.39,335.82 L183.99,336.17 L184.59,336.33 L185.19,336.45 L185.79,336.79 L186.39,337.07 L186.99,337.06 L187.59,337.44 L188.19,337.62 L188.79,337.75 L189.39,337.84 L189.48,337.96" fill="none" stroke="#E8828C" stroke-width="2.09375" stroke-linejoin="round" stroke-dasharray="2,1.3" stroke-linecap="round"/>
<path d="M189.48,338.02 L190.08,338.09 L190.68,338.27 L191.28,338.67 L191.88,338.67 L192.48,338.80 L193.08,339.24 L193.68,339.48 L194.28,339.43 L194.88,339.66 L195.48,339.89 L196.08,340.14 L196.16,340.08" fill="none" stroke="#E8828C" stroke-width="2.1395833333333334" stroke-linejoin="round" stroke-dasharray="2,1.3" stroke-linecap="round"/>
<path d="M196.16,339.91 L196.76,340.32 L197.36,340.35 L197.96,340.78 L198.56,340.77 L199.16,341.14 L199.76,341.14 L200.36,341.39 L200.96,341.34 L201.56,341.57 L202.16,341.77 L202.76,341.97 L202.84,342.04" fill="none" stroke="#E8828C" stroke-width="2.185416666666667" stroke-linejoin="round" stroke-dasharray="2,1.3" stroke-linecap="round"/>
<path d="M202.84,341.92 L203.44,342.18 L204.04,342.22 L204.64,342.57 L205.24,342.89 L205.84,343.01 L206.44,343.09 L207.04,343.38 L207.64,343.45 L208.24,343.58 L208.84,343.67 L209.44,343.69 L209.52,343.87" fill="none" stroke="#E8828C" stroke-width="2.2312499999999997" stroke-linejoin="round" stroke-dasharray="2,1.3" stroke-linecap="round"/>
<path d="M209.52,344.02 L210.12,344.18 L210.72,344.31 L211.32,344.42 L211.92,344.62 L212.52,344.84 L213.12,345.00 L213.72,345.07 L214.32,344.93 L214.92,345.45 L215.52,345.45 L216.12,345.56 L216.20,345.59" fill="none" stroke="#E8828C" stroke-width="2.277083333333333" stroke-linejoin="round" stroke-dasharray="2,1.3" stroke-linecap="round"/>
<path d="M32.60,364.60 L32.84,364.60 L33.09,364.60 L33.33,364.60 L33.58,364.60 L33.82,364.60 L34.07,364.60 L34.31,364.60 L34.56,364.60 L34.80,364.60 L35.05,364.60 L35.29,364.60 L35.54,364.60 L35.78,364.60 L36.03,364.60 L36.27,364.60 L36.52,364.60 L36.76,364.60 L37.01,364.60 L37.25,364.60 L37.50,364.60 L37.74,364.60 L37.99,361.42 L38.23,357.10 L38.48,352.65 L38.72,348.10 L38.96,343.47 L39.21,338.82 L39.45,334.17 L39.70,329.55 L39.94,324.98 L40.19,320.54 L40.43,316.23 L40.68,312.07 L40.92,308.10 L41.17,304.33 L41.41,300.90 L41.66,297.74 L41.90,294.89 L42.15,292.30 L42.39,289.84 L42.64,287.47 L42.88,285.16 L43.13,282.92 L43.37,280.74 L43.62,278.62 L43.86,276.59 L44.11,274.64 L44.35,272.75 L44.60,270.93 L44.84,269.18 L45.08,267.52 L45.33,265.94 L45.57,264.43 L45.82,263.00 L46.06,261.64 L46.31,260.39 L46.55,259.21 L46.80,258.11 L47.04,257.09 L47.29,256.12 L47.53,255.19 L47.78,254.29 L48.02,253.41 L48.27,252.55 L48.51,251.73 L48.76,250.95 L49.00,250.21 L49.25,249.50 L49.49,248.83 L49.74,248.20 L49.98,247.62 L50.23,247.09 L50.47,246.61 L50.72,246.18 L50.96,245.80 L51.20,245.48 L51.45,245.20 L51.69,244.93 L51.94,244.67 L52.18,244.41 L52.43,244.17 L52.67,243.95 L52.92,243.74 L53.16,243.55 L53.41,243.38 L53.65,243.24 L53.90,243.12 L54.14,243.04 L54.39,242.98 L54.63,242.96" fill="none" stroke="#E8828C" stroke-width="1.5" stroke-linejoin="round"  stroke-linecap="round"/>
<path d="M54.63,242.96 L55.23,243.02 L55.83,243.20 L56.43,243.48 L57.03,243.85 L57.63,244.30 L58.23,244.81 L58.83,245.36 L59.43,245.97 L60.03,246.59 L60.63,247.23 L61.23,247.87 L61.36,248.00" fill="none" stroke="#E8828C" stroke-width="1.59375" stroke-linejoin="round"  stroke-linecap="round"/>
<path d="M61.36,247.99 L61.96,248.61 L62.56,249.25 L63.16,249.88 L63.76,250.54 L64.36,251.26 L64.96,252.00 L65.56,252.73 L66.16,253.54 L66.76,254.33 L67.36,255.10 L67.96,255.88 L68.10,256.07" fill="none" stroke="#E8828C" stroke-width="1.78125" stroke-linejoin="round"  stroke-linecap="round"/>
<path d="M68.10,256.10 L68.70,256.84 L69.30,257.59 L69.90,258.35 L70.50,259.15 L71.10,259.87 L71.70,260.61 L72.30,261.31 L72.90,261.99 L73.50,262.70 L74.10,263.32 L74.70,263.97 L74.83,264.11" fill="none" stroke="#E8828C" stroke-width="1.96875" stroke-linejoin="round"  stroke-linecap="round"/>
<path d="M74.83,264.13 L75.43,264.74 L76.03,265.36 L76.63,265.93 L77.23,266.52 L77.83,267.02 L78.43,267.60 L79.03,268.15 L79.63,268.66 L80.23,269.21 L80.83,269.72 L81.43,270.25 L81.56,270.38" fill="none" stroke="#E8828C" stroke-width="2.15625" stroke-linejoin="round"  stroke-linecap="round"/>
<path d="M81.56,270.40 L82.16,270.87 L82.76,271.38 L83.36,271.87 L83.96,272.38 L84.56,272.95 L85.16,273.40 L85.76,273.89 L86.36,274.32 L86.96,274.86 L87.56,275.27 L88.16,275.77 L88.29,275.88" fill="none" stroke="#E8828C" stroke-width="2.34375" stroke-linejoin="round"  stroke-linecap="round"/>
<path d="M88.29,275.95 L88.89,276.37 L89.49,276.82 L90.09,277.29 L90.69,277.77 L91.29,278.20 L91.89,278.57 L92.49,278.98 L93.09,279.44 L93.69,279.86 L94.29,280.27 L94.89,280.77 L95.02,280.80" fill="none" stroke="#E8828C" stroke-width="2.53125" stroke-linejoin="round"  stroke-linecap="round"/>
<path d="M95.02,280.86 L95.62,281.17 L96.22,281.62 L96.82,281.96 L97.42,282.43 L98.02,282.74 L98.62,283.08 L99.22,283.45 L99.82,283.88 L100.42,284.19 L101.02,284.61 L101.62,285.03 L101.76,285.04" fill="none" stroke="#E8828C" stroke-width="2.71875" stroke-linejoin="round"  stroke-linecap="round"/>
<path d="M101.76,285.02 L102.36,285.35 L102.96,285.86 L103.56,286.13 L104.16,286.41 L104.76,286.76 L105.36,287.13 L105.96,287.58 L106.56,287.97 L107.16,288.26 L107.76,288.56 L108.36,288.98 L108.49,289.08" fill="none" stroke="#E8828C" stroke-width="2.90625" stroke-linejoin="round"  stroke-linecap="round"/>
<path d="M108.49,289.19 L109.09,289.45 L109.69,289.91 L110.29,290.25 L110.89,290.44 L111.49,290.96 L112.09,291.32 L112.69,291.66 L113.29,291.98 L113.89,292.44 L114.49,292.70 L115.09,293.15 L115.22,293.25" fill="none" stroke="#E8828C" stroke-width="3.09375" stroke-linejoin="round"  stroke-linecap="round"/>
<path d="M115.22,293.24 L115.82,293.73 L116.42,294.10 L117.02,294.33 L117.62,294.77 L118.22,295.08 L118.82,295.63 L119.42,296.01 L120.02,296.25 L120.62,296.71 L121.22,297.09 L121.82,297.36 L121.95,297.52" fill="none" stroke="#E8828C" stroke-width="3.28125" stroke-linejoin="round"  stroke-linecap="round"/>
<path d="M121.95,297.59 L122.55,297.91 L123.15,298.35 L123.75,298.65 L124.35,298.88 L124.95,299.34 L125.55,299.62 L126.15,300.23 L126.75,300.57 L127.35,300.92 L127.95,301.14 L128.55,301.42 L128.68,301.62" fill="none" stroke="#E8828C" stroke-width="3.46875" stroke-linejoin="round"  stroke-linecap="round"/>
<path d="M128.68,301.73 L129.28,302.10 L129.88,302.19 L130.48,302.65 L131.08,302.87 L131.68,303.41 L132.28,303.75 L132.88,303.90 L133.48,304.33 L134.08,304.67 L134.68,304.92 L135.28,305.41 L135.42,305.38" fill="none" stroke="#E8828C" stroke-width="3.65625" stroke-linejoin="round"  stroke-linecap="round"/>
<path d="M135.42,305.35 L136.02,305.61 L136.62,306.02 L137.22,306.40 L137.82,306.54 L138.42,306.89 L139.02,307.41 L139.62,307.60 L140.22,307.84 L140.82,308.17 L141.42,308.34 L142.02,308.67 L142.15,308.82" fill="none" stroke="#E8828C" stroke-width="3.84375" stroke-linejoin="round"  stroke-linecap="round"/>
<path d="M142.15,308.77 L142.75,309.15 L143.35,309.33 L143.95,309.62 L144.55,309.86 L145.15,310.35 L145.75,310.50 L146.35,311.02 L146.95,311.29 L147.55,311.31 L148.15,311.66 L148.75,312.09 L148.88,312.09" fill="none" stroke="#E8828C" stroke-width="4.03125" stroke-linejoin="round"  stroke-linecap="round"/>
<path d="M148.88,311.99 L149.48,312.24 L150.08,312.81 L150.68,312.96 L151.28,313.20 L151.88,313.59 L152.48,313.88 L153.08,313.93 L153.68,314.17 L154.28,314.57 L154.88,314.84 L155.48,315.12 L155.61,315.20" fill="none" stroke="#E8828C" stroke-width="4.21875" stroke-linejoin="round"  stroke-linecap="round"/>
<path d="M155.61,315.29 L156.21,315.53 L156.81,315.93 L157.41,315.85 L158.01,316.24 L158.61,316.48 L159.21,316.95 L159.81,316.98 L160.41,317.23 L161.01,317.59 L161.61,317.85 L162.21,318.06 L162.34,318.20" fill="none" stroke="#E8828C" stroke-width="4.40625" stroke-linejoin="round"  stroke-linecap="round"/>
<path d="M162.34,318.10 L162.94,318.64 L163.54,318.70 L164.14,319.14 L164.74,319.27 L165.34,319.33 L165.94,319.98 L166.54,320.18 L167.14,320.49 L167.74,320.74 L168.34,320.96 L168.94,320.94 L169.08,321.13" fill="none" stroke="#E8828C" stroke-width="4.59375" stroke-linejoin="round"  stroke-linecap="round"/>
<path d="M169.08,321.13 L169.68,321.27 L170.28,321.61 L170.88,321.71 L171.48,322.11 L172.08,322.63 L172.68,322.57 L173.28,323.05 L173.88,323.16 L174.48,323.40 L175.08,323.89 L175.68,324.15 L175.81,323.99" fill="none" stroke="#E8828C" stroke-width="4.78125" stroke-linejoin="round"  stroke-linecap="round"/>
<path d="M175.81,324.02 L176.41,324.34 L177.01,324.33 L177.61,324.65 L178.21,325.20 L178.81,325.27 L179.41,325.50 L180.01,325.84 L180.61,325.76 L181.21,326.25 L181.81,326.45 L182.41,326.85 L182.54,326.74" fill="none" stroke="#E8828C" stroke-width="4.96875" stroke-linejoin="round"  stroke-linecap="round"/>
<path d="M182.54,326.58 L183.14,327.21 L183.74,327.01 L184.34,327.30 L184.94,327.74 L185.54,328.01 L186.14,328.02 L186.74,328.20 L187.34,328.80 L187.94,328.72 L188.54,329.11 L189.14,329.35 L189.27,329.34" fill="none" stroke="#E8828C" stroke-width="5.15625" stroke-linejoin="round"  stroke-linecap="round"/>
<path d="M189.27,329.30 L189.87,329.61 L190.47,329.80 L191.07,330.23 L191.67,330.07 L192.27,330.55 L192.87,330.52 L193.47,330.81 L194.07,331.17 L194.67,331.19 L195.27,331.40 L195.87,331.83 L196.00,331.75" fill="none" stroke="#E8828C" stroke-width="5.34375" stroke-linejoin="round"  stroke-linecap="round"/>
<path d="M196.00,331.52 L196.60,331.93 L197.20,332.42 L197.80,332.62 L198.40,332.33 L199.00,332.60 L199.60,332.83 L200.20,333.38 L200.80,333.55 L201.40,333.74 L202.00,333.65 L202.60,333.73 L202.74,333.96" fill="none" stroke="#E8828C" stroke-width="5.53125" stroke-linejoin="round"  stroke-linecap="round"/>
<path d="M202.74,334.14 L203.34,334.26 L203.94,334.39 L204.54,334.79 L205.14,334.78 L205.74,334.60 L206.34,335.24 L206.94,335.13 L207.54,335.51 L208.14,335.84 L208.74,335.57 L209.34,335.73 L209.47,335.99" fill="none" stroke="#E8828C" stroke-width="5.71875" stroke-linejoin="round"  stroke-linecap="round"/>
<path d="M209.47,335.76 L210.07,336.19 L210.67,336.20 L211.27,336.57 L211.87,336.80 L212.47,336.67 L213.07,337.09 L213.67,337.04 L214.27,337.34 L214.87,337.75 L215.47,337.89 L216.07,337.61 L216.20,337.88" fill="none" stroke="#E8828C" stroke-width="5.90625" stroke-linejoin="round"  stroke-linecap="round"/>
</g>
<line x1="32.60" y1="303.48" x2="216.20" y2="303.48" stroke="#8a8a8a" stroke-width="0.9" stroke-dasharray="1.35,1.35"/>
<line x1="150.10" y1="225.50" x2="171.00" y2="225.50" stroke="#E8828C" stroke-width="1.0" />
<line x1="150.10" y1="239.00" x2="171.00" y2="239.00" stroke="#E8828C" stroke-width="1.0" stroke-dasharray="2.2,1.6" opacity="0.6"/>
<text x="174.20" y="228.40" font-size="9.4" text-anchor="start" ><tspan>N</tspan><tspan font-size="6.39" dy="2.26">2</tspan><tspan dy="-2.26"> (H</tspan><tspan font-size="6.39" dy="2.26">2</tspan><tspan dy="-2.26">O)</tspan></text>
<text x="174.20" y="242.50" font-size="9.4" text-anchor="start" ><tspan>O</tspan><tspan font-size="6.39" dy="2.26">2</tspan><tspan dy="-2.26"> (H</tspan><tspan font-size="6.39" dy="2.26">2</tspan><tspan dy="-2.26">O)</tspan></text>
<text x="130.00" y="256.60" font-size="9.4" text-anchor="start" ><tspan>CoO</tspan><tspan font-size="6.39" dy="2.26" font-style="italic">x</tspan><tspan dy="-2.26">-BCN-FeOOH</tspan></text>
<text x="137.60" y="289.90" font-size="9.4" text-anchor="start" >41.4 μs</text>
<text x="88.00" y="319.20" font-size="9.4" text-anchor="start" >27.3 μs</text>
<text x="63.80" y="340.10" font-size="9.4" text-anchor="start" ><tspan>Δ</tspan><tspan font-weight="bold">t</tspan><tspan>= -14.1 μs</tspan></text>
<text x="63.80" y="351.00" font-size="9.4" text-anchor="start" >ETE= 34.1%</text>
<line x1="118.70" y1="303.20" x2="107.60" y2="308.30" stroke="#111" stroke-width="0.75" />
<path d="M107.60,308.30 L110.31,305.57 L111.43,308.02 Z" fill="#111"/>
<line x1="131.30" y1="303.30" x2="142.00" y2="294.00" stroke="#111" stroke-width="0.75" />
<path d="M142.00,294.00 L140.17,297.38 L138.40,295.34 Z" fill="#111"/>
<text x="229.30" y="212.60" font-size="23" text-anchor="start" >e</text>
<text x="270.40" y="221.90" font-size="10.7" text-anchor="start" ><tspan>H</tspan><tspan font-size="7.28" dy="2.57">2</tspan><tspan dy="-2.57">O</tspan><tspan font-size="7.28" dy="2.57">2</tspan><tspan dy="-2.57"> yield (μmol g</tspan><tspan font-size="7.28" dy="-3.85">-1</tspan><tspan dy="3.85"> h</tspan><tspan font-size="7.28" dy="-3.85">-1</tspan><tspan dy="3.85">)</tspan></text>
<path d="M321.20,231.30 L252.78,349.80 L389.62,349.80 Z" fill="none" stroke="#c8c8c8" stroke-width="0.6" stroke-linejoin="round" />
<path d="M321.20,270.80 L286.99,330.05 L355.41,330.05 Z" fill="none" stroke="#d0d0d0" stroke-width="0.6" stroke-linejoin="round" />
<path d="M321.20,243.74 L273.99,337.56 L367.86,337.24 Z" fill="#E58D97" fill-opacity="0.5" stroke="#E06A78" stroke-width="0.8" stroke-opacity="0.9"/>
<path d="M321.20,287.19 L265.10,342.69 L341.72,322.15 Z" fill="#C27EF5" fill-opacity="0.55" stroke="#C27EF5" stroke-width="0.8" stroke-opacity="0.9"/>
<path d="M321.20,287.19 L294.97,325.44 L358.14,331.63 Z" fill="#8CCFEA" fill-opacity="0.5" stroke="#6CC8EC" stroke-width="0.8" stroke-opacity="0.9"/>
<path d="M321.20,298.65 L292.58,326.82 L333.65,317.49 Z" fill="#5A6CF5" fill-opacity="0.55" stroke="#5A64F2" stroke-width="0.8" stroke-opacity="0.9"/>
<line x1="321.20" y1="310.30" x2="321.20" y2="231.30" stroke="#333" stroke-width="0.8" />
<line x1="321.20" y1="310.30" x2="252.78" y2="349.80" stroke="#333" stroke-width="0.8" />
<line x1="321.20" y1="310.30" x2="389.62" y2="349.80" stroke="#333" stroke-width="0.8" />
<circle cx="321.20" cy="243.74" r="1.3" fill="#E06470"/>
<circle cx="367.86" cy="337.24" r="1.3" fill="#E06470"/>
<circle cx="265.10" cy="342.69" r="1.3" fill="#B070E0"/>
<circle cx="321.20" cy="298.65" r="1.3" fill="#4A58F0"/>
<circle cx="292.58" cy="326.82" r="1.3" fill="#4A58F0"/>
<circle cx="333.65" cy="317.49" r="1.3" fill="#4A58F0"/>
<path d="M321.20,227.40 L320.20,229.92 L317.49,230.09 L319.58,231.83 L318.91,234.46 L321.20,233.00 L323.49,234.46 L322.82,231.83 L324.91,230.09 L322.20,229.92 Z" fill="white" stroke="#333" stroke-width="0.75"/>
<path d="M252.78,345.90 L251.78,348.42 L249.07,348.59 L251.17,350.33 L250.49,352.96 L252.78,351.50 L255.08,352.96 L254.40,350.33 L256.49,348.59 L253.78,348.42 Z" fill="white" stroke="#333" stroke-width="0.75"/>
<path d="M389.62,345.90 L388.62,348.42 L385.91,348.59 L388.00,350.33 L387.32,352.96 L389.62,351.50 L391.91,352.96 L391.23,350.33 L393.33,348.59 L390.62,348.42 Z" fill="white" stroke="#333" stroke-width="0.75"/>
<text x="319.20" y="293.25" font-size="7.5" text-anchor="end" >100</text>
<text x="319.20" y="273.50" font-size="7.5" text-anchor="end" >200</text>
<text x="319.20" y="253.75" font-size="7.5" text-anchor="end" >300</text>
<text x="319.20" y="234.00" font-size="7.5" text-anchor="end" >400</text>
<text x="318.60" y="307.10" font-size="7.5" text-anchor="middle" >0</text>
<text x="323.50" y="307.10" font-size="7.5" text-anchor="middle" >0</text>
<text x="315.10" y="312.00" font-size="7.5" text-anchor="middle" >0</text>
<text x="306.20" y="313.08" font-size="7.5" text-anchor="middle" >10</text>
<text x="294.79" y="319.67" font-size="7.5" text-anchor="middle" >20</text>
<text x="283.39" y="326.25" font-size="7.5" text-anchor="middle" >30</text>
<text x="271.99" y="332.83" font-size="7.5" text-anchor="middle" >40</text>
<text x="260.59" y="339.42" font-size="7.5" text-anchor="middle" >50</text>
<text x="249.18" y="346.00" font-size="7.5" text-anchor="middle" >60</text>
<text x="339.08" y="314.70" font-size="7.5" text-anchor="middle" >10</text>
<text x="352.77" y="322.60" font-size="7.5" text-anchor="middle" >20</text>
<text x="366.45" y="330.50" font-size="7.5" text-anchor="middle" >30</text>
<text x="380.13" y="338.40" font-size="7.5" text-anchor="middle" >40</text>
<text x="393.82" y="346.30" font-size="7.5" text-anchor="middle" >50</text>
<rect x="351" y="234.50" width="15" height="10" fill="#A9B4F7"/>
<text x="368.80" y="243.00" font-size="9.6" text-anchor="start" ><tspan>BCN</tspan></text>
<rect x="351" y="245.20" width="15" height="10" fill="#B9E3F0"/>
<text x="368.80" y="253.70" font-size="9.6" text-anchor="start" ><tspan>BCN-FeOOH</tspan></text>
<rect x="351" y="256.70" width="15" height="10" fill="#D9B5F3"/>
<text x="368.80" y="265.20" font-size="9.6" text-anchor="start" ><tspan>CoO</tspan><tspan font-size="6.53" dy="2.30" font-style="italic">x</tspan><tspan dy="-2.30">-BCN</tspan></text>
<rect x="351" y="268.90" width="15" height="10" fill="#F1C6CB"/>
<text x="368.80" y="277.40" font-size="9.6" text-anchor="start" ><tspan>CoO</tspan><tspan font-size="6.53" dy="2.30" font-style="italic">x</tspan><tspan dy="-2.30">-BCN-FeOOH</tspan></text>
<text x="231.00" y="361.60" font-size="11" text-anchor="start" ><tspan font-weight="bold">t</tspan><tspan font-size="7.2" dy="2.5">N</tspan><tspan font-size="5" dy="1.5">2</tspan><tspan font-size="7.2" dy="-1.5">(H</tspan><tspan font-size="5" dy="1.5">2</tspan><tspan font-size="7.2" dy="-1.5">O)</tspan><tspan dy="-2.5"> (μs)</tspan></text>
<text x="380.00" y="362.20" font-size="11" text-anchor="start" ><tspan font-weight="bold">η</tspan><tspan font-size="7.3" dy="2.5">ETE-O</tspan><tspan font-size="5" dy="1.5">2</tspan><tspan dy="-4"> (%)</tspan></text>
<text x="452.60" y="217.30" font-size="23" text-anchor="start" >f</text>
<clipPath id="fclip"><rect x="489.2" y="215.6" width="184.09999999999997" height="149.1"/></clipPath>
<rect x="489.2" y="217.6" width="184.09999999999997" height="147.1" fill="none" stroke="#3a3a3a" stroke-width="1.1"/>
<line x1="486.60" y1="217.60" x2="489.20" y2="217.60" stroke="#3a3a3a" stroke-width="1" />
<text x="485.00" y="221.10" font-size="10" text-anchor="end" >0.0</text>
<line x1="487.70" y1="235.99" x2="489.20" y2="235.99" stroke="#3a3a3a" stroke-width="0.9" />
<line x1="486.60" y1="254.38" x2="489.20" y2="254.38" stroke="#3a3a3a" stroke-width="1" />
<text x="485.00" y="257.88" font-size="10" text-anchor="end" >-0.5</text>
<line x1="487.70" y1="272.76" x2="489.20" y2="272.76" stroke="#3a3a3a" stroke-width="0.9" />
<line x1="486.60" y1="291.15" x2="489.20" y2="291.15" stroke="#3a3a3a" stroke-width="1" />
<text x="485.00" y="294.65" font-size="10" text-anchor="end" >-1.0</text>
<line x1="487.70" y1="309.54" x2="489.20" y2="309.54" stroke="#3a3a3a" stroke-width="0.9" />
<line x1="486.60" y1="327.92" x2="489.20" y2="327.92" stroke="#3a3a3a" stroke-width="1" />
<text x="485.00" y="331.42" font-size="10" text-anchor="end" >-1.5</text>
<line x1="487.70" y1="346.31" x2="489.20" y2="346.31" stroke="#3a3a3a" stroke-width="0.9" />
<line x1="486.60" y1="364.70" x2="489.20" y2="364.70" stroke="#3a3a3a" stroke-width="1" />
<text x="485.00" y="368.20" font-size="10" text-anchor="end" >-2.0</text>
<line x1="489.20" y1="364.70" x2="489.20" y2="367.30" stroke="#3a3a3a" stroke-width="1" />
<text x="489.20" y="376.80" font-size="10" text-anchor="middle" >-1.8</text>
<line x1="504.54" y1="364.70" x2="504.54" y2="366.20" stroke="#3a3a3a" stroke-width="0.9" />
<line x1="519.88" y1="364.70" x2="519.88" y2="367.30" stroke="#3a3a3a" stroke-width="1" />
<text x="519.88" y="376.80" font-size="10" text-anchor="middle" >-1.6</text>
<line x1="535.23" y1="364.70" x2="535.23" y2="366.20" stroke="#3a3a3a" stroke-width="0.9" />
<line x1="550.57" y1="364.70" x2="550.57" y2="367.30" stroke="#3a3a3a" stroke-width="1" />
<text x="550.57" y="376.80" font-size="10" text-anchor="middle" >-1.4</text>
<line x1="565.91" y1="364.70" x2="565.91" y2="366.20" stroke="#3a3a3a" stroke-width="0.9" />
<line x1="581.25" y1="364.70" x2="581.25" y2="367.30" stroke="#3a3a3a" stroke-width="1" />
<text x="581.25" y="376.80" font-size="10" text-anchor="middle" >-1.2</text>
<line x1="596.59" y1="364.70" x2="596.59" y2="366.20" stroke="#3a3a3a" stroke-width="0.9" />
<line x1="611.93" y1="364.70" x2="611.93" y2="367.30" stroke="#3a3a3a" stroke-width="1" />
<text x="611.93" y="376.80" font-size="10" text-anchor="middle" >-1.0</text>
<line x1="627.27" y1="364.70" x2="627.27" y2="366.20" stroke="#3a3a3a" stroke-width="0.9" />
<line x1="642.62" y1="364.70" x2="642.62" y2="367.30" stroke="#3a3a3a" stroke-width="1" />
<text x="642.62" y="376.80" font-size="10" text-anchor="middle" >-0.8</text>
<line x1="657.96" y1="364.70" x2="657.96" y2="366.20" stroke="#3a3a3a" stroke-width="0.9" />
<line x1="673.30" y1="364.70" x2="673.30" y2="367.30" stroke="#3a3a3a" stroke-width="1" />
<text x="673.30" y="376.80" font-size="10" text-anchor="middle" >-0.6</text>
<text x="581.90" y="387.70" font-size="11.5" text-anchor="middle" >Potential vs Ag/AgCl (V)</text>
<text transform="translate(464.00,287.40) rotate(-90) scale(1.0,1)" font-size="12" text-anchor="middle" ><tspan>Current density (mA cm</tspan><tspan font-size="8.16" dy="-4.32">-2</tspan><tspan dy="4.32">)</tspan></text>
<g clip-path="url(#fclip)">
<path d="M505.00,394.12 L505.30,391.18 L505.60,388.24 L505.90,385.29 L506.20,382.35 L506.50,379.41 L506.80,376.47 L507.10,373.53 L507.40,370.58 L507.70,367.64 L508.00,364.70 L508.30,361.73 L508.60,358.70 L508.90,355.62 L509.20,352.51 L509.50,349.36 L509.80,346.19 L510.10,342.99 L510.40,339.79 L510.70,336.59 L511.00,333.39 L511.30,330.20 L511.60,327.04 L511.90,323.90 L512.20,320.79 L512.50,317.73 L512.80,314.72 L513.10,311.77 L513.40,308.89 L513.70,306.07 L514.00,303.34 L514.30,300.69 L514.60,298.15 L514.90,295.70 L515.20,293.37 L515.50,291.15 L515.80,289.00 L516.10,286.87 L516.40,284.77 L516.70,282.68 L517.00,280.63 L517.30,278.60 L517.60,276.61 L517.90,274.66 L518.20,272.75 L518.50,270.88 L518.80,269.06 L519.10,267.30 L519.40,265.58 L519.70,263.93 L520.00,262.34 L520.30,260.82 L520.60,259.36 L520.90,257.98 L521.20,256.67 L521.50,255.44 L521.80,254.30 L522.10,253.24 L522.40,252.25 L522.70,251.30 L523.00,250.38 L523.30,249.48 L523.60,248.61 L523.90,247.77 L524.20,246.95 L524.50,246.16 L524.80,245.39 L525.10,244.64 L525.40,243.91 L525.70,243.20 L526.00,242.52 L526.30,241.85 L526.60,241.20 L526.90,240.57 L527.20,239.96 L527.50,239.36 L527.80,238.78 L528.10,238.21 L528.40,237.66 L528.70,237.12 L529.00,236.59 L529.30,236.07 L529.60,235.56 L529.90,235.07 L530.20,234.58 L530.50,234.10 L530.80,233.62 L531.10,233.16 L531.40,232.70 L531.70,232.25 L532.00,231.81 L532.30,231.37 L532.60,230.94 L532.90,230.52 L533.20,230.11 L533.50,229.71 L533.80,229.31 L534.10,228.93 L534.40,228.55 L534.70,228.18 L535.00,227.82 L535.30,227.47 L535.60,227.13 L535.90,226.80 L536.20,226.48 L536.50,226.17 L536.80,225.87 L537.10,225.58 L537.40,225.30 L537.70,225.02 L538.00,224.76 L538.30,224.51 L538.60,224.27 L538.90,224.03 L539.20,223.79 L539.50,223.56 L539.80,223.33 L540.10,223.11 L540.40,222.89 L540.70,222.67 L541.00,222.46 L541.30,222.26 L541.60,222.05 L541.90,221.86 L542.20,221.67 L542.50,221.48 L542.80,221.30 L543.10,221.13 L543.40,220.96 L543.70,220.80 L544.00,220.65 L544.30,220.50 L544.60,220.36 L544.90,220.23 L545.20,220.10 L545.50,219.99 L545.80,219.88 L546.10,219.77 L546.40,219.67 L546.70,219.57 L547.00,219.47 L547.30,219.37 L547.60,219.27 L547.90,219.18 L548.20,219.08 L548.50,218.99 L548.80,218.90 L549.10,218.81 L549.40,218.72 L549.70,218.64 L550.00,218.56 L550.30,218.48 L550.60,218.41 L550.90,218.34 L551.20,218.28 L551.50,218.22 L551.80,218.17 L552.10,218.12 L552.40,218.08 L552.70,218.04 L553.00,218.02 L553.30,217.99 L553.60,217.98 L553.90,217.97 L554.20,217.97 L554.50,217.96 L554.80,217.96 L555.10,217.96 L555.40,217.96 L555.70,217.96 L556.00,217.95 L556.30,217.95 L556.60,217.95 L556.90,217.95 L557.20,217.95 L557.50,217.94 L557.80,217.94 L558.10,217.94 L558.40,217.94 L558.70,217.94 L559.00,217.93 L559.30,217.93 L559.60,217.93 L559.90,217.93 L560.20,217.93 L560.50,217.92 L560.80,217.92 L561.10,217.92 L561.40,217.92 L561.70,217.92 L562.00,217.92 L562.30,217.91 L562.60,217.91 L562.90,217.91 L563.20,217.91 L563.50,217.91 L563.80,217.90 L564.10,217.90 L564.40,217.90 L564.70,217.90 L565.00,217.90 L565.30,217.90 L565.60,217.89 L565.90,217.89 L566.20,217.89 L566.50,217.89 L566.80,217.89 L567.10,217.89 L567.40,217.88 L567.70,217.88 L568.00,217.88 L568.30,217.88 L568.60,217.88 L568.90,217.88 L569.20,217.87 L569.50,217.87 L569.80,217.87 L570.10,217.87 L570.40,217.87 L570.70,217.87 L571.00,217.86 L571.30,217.86 L571.60,217.86 L571.90,217.86 L572.20,217.86 L572.50,217.86 L572.80,217.86 L573.10,217.85 L573.40,217.85 L573.70,217.85 L574.00,217.85 L574.30,217.85 L574.60,217.85 L574.90,217.85 L575.20,217.84 L575.50,217.84 L575.80,217.84 L576.10,217.84 L576.40,217.84 L576.70,217.84 L577.00,217.84 L577.30,217.83 L577.60,217.83 L577.90,217.83 L578.20,217.83 L578.50,217.83 L578.80,217.83 L579.10,217.83 L579.40,217.83 L579.70,217.82 L580.00,217.82 L580.30,217.82 L580.60,217.82 L580.90,217.82 L581.20,217.82 L581.50,217.82 L581.80,217.82 L582.10,217.81 L582.40,217.81 L582.70,217.81 L583.00,217.81 L583.30,217.81 L583.60,217.81 L583.90,217.81 L584.20,217.81 L584.50,217.80 L584.80,217.80 L585.10,217.80 L585.40,217.80 L585.70,217.80 L586.00,217.80 L586.30,217.80 L586.60,217.80 L586.90,217.80 L587.20,217.79 L587.50,217.79 L587.80,217.79 L588.10,217.79 L588.40,217.79 L588.70,217.79 L589.00,217.79 L589.30,217.79 L589.60,217.79 L589.90,217.79 L590.20,217.78 L590.50,217.78 L590.80,217.78 L591.10,217.78 L591.40,217.78 L591.70,217.78 L592.00,217.78 L592.30,217.78 L592.60,217.78 L592.90,217.78 L593.20,217.77 L593.50,217.77 L593.80,217.77 L594.10,217.77 L594.40,217.77 L594.70,217.77 L595.00,217.77 L595.30,217.77 L595.60,217.77 L595.90,217.77 L596.20,217.77 L596.50,217.76 L596.80,217.76 L597.10,217.76 L597.40,217.76 L597.70,217.76 L598.00,217.76 L598.30,217.76 L598.60,217.76 L598.90,217.76 L599.20,217.76 L599.50,217.76 L599.80,217.75 L600.10,217.75 L600.40,217.75 L600.70,217.75 L601.00,217.75 L601.30,217.75 L601.60,217.75 L601.90,217.75 L602.20,217.75 L602.50,217.75 L602.80,217.75 L603.10,217.75 L603.40,217.75 L603.70,217.74 L604.00,217.74 L604.30,217.74 L604.60,217.74 L604.90,217.74 L605.20,217.74 L605.50,217.74 L605.80,217.74 L606.10,217.74 L606.40,217.74 L606.70,217.74 L607.00,217.74 L607.30,217.74 L607.60,217.74 L607.90,217.74 L608.20,217.73 L608.50,217.73 L608.80,217.73 L609.10,217.73 L609.40,217.73 L609.70,217.73 L610.00,217.73 L610.30,217.73 L610.60,217.73 L610.90,217.73 L611.20,217.73 L611.50,217.73 L611.80,217.73 L612.10,217.73 L612.40,217.73 L612.70,217.72 L613.00,217.72 L613.30,217.72 L613.60,217.72 L613.90,217.72 L614.20,217.72 L614.50,217.72 L614.80,217.72 L615.10,217.72 L615.40,217.72 L615.70,217.72 L616.00,217.72 L616.30,217.72 L616.60,217.72 L616.90,217.72 L617.20,217.72 L617.50,217.72 L617.80,217.72 L618.10,217.72 L618.40,217.71 L618.70,217.71 L619.00,217.71 L619.30,217.71 L619.60,217.71 L619.90,217.71 L620.20,217.71 L620.50,217.71 L620.80,217.71 L621.10,217.71 L621.40,217.71 L621.70,217.71 L622.00,217.71 L622.30,217.71 L622.60,217.71 L622.90,217.71 L623.20,217.71 L623.50,217.71 L623.80,217.71 L624.10,217.71 L624.40,217.71 L624.70,217.70 L625.00,217.70 L625.30,217.70 L625.60,217.70 L625.90,217.70 L626.20,217.70 L626.50,217.70 L626.80,217.70 L627.10,217.70 L627.40,217.70 L627.70,217.70 L628.00,217.70 L628.30,217.70 L628.60,217.70 L628.90,217.70 L629.20,217.70 L629.50,217.70 L629.80,217.70 L630.10,217.70 L630.40,217.70 L630.70,217.70 L631.00,217.70 L631.30,217.70 L631.60,217.70 L631.90,217.69 L632.20,217.69 L632.50,217.69 L632.80,217.69 L633.10,217.69 L633.40,217.69 L633.70,217.69 L634.00,217.69 L634.30,217.69 L634.60,217.69 L634.90,217.69 L635.20,217.69 L635.50,217.69 L635.80,217.69 L636.10,217.69 L636.40,217.69 L636.70,217.69 L637.00,217.69 L637.30,217.69 L637.60,217.69 L637.90,217.69 L638.20,217.69 L638.50,217.69 L638.80,217.69 L639.10,217.69 L639.40,217.69 L639.70,217.69 L640.00,217.69 L640.30,217.69 L640.60,217.68 L640.90,217.68 L641.20,217.68 L641.50,217.68 L641.80,217.68 L642.10,217.68 L642.40,217.68 L642.70,217.68 L643.00,217.68 L643.30,217.68 L643.60,217.68 L643.90,217.68 L644.20,217.68 L644.50,217.68 L644.80,217.68 L645.10,217.68 L645.40,217.68 L645.70,217.68 L646.00,217.68 L646.30,217.68 L646.60,217.68 L646.90,217.68 L647.20,217.68 L647.50,217.68 L647.80,217.68 L648.10,217.68 L648.40,217.68 L648.70,217.68 L649.00,217.68 L649.30,217.68 L649.60,217.68 L649.90,217.68 L650.20,217.67 L650.50,217.67 L650.80,217.67 L651.10,217.67 L651.40,217.67 L651.70,217.67 L652.00,217.67 L652.30,217.67 L652.60,217.67 L652.90,217.67 L653.20,217.67 L653.50,217.67 L653.80,217.67 L654.10,217.67 L654.40,217.67 L654.70,217.67 L655.00,217.67 L655.30,217.67 L655.60,217.67 L655.90,217.67 L656.20,217.67 L656.50,217.67 L656.80,217.67 L657.10,217.67 L657.40,217.67 L657.70,217.67 L658.00,217.67 L658.30,217.67 L658.60,217.67 L658.90,217.67 L659.20,217.67 L659.50,217.67 L659.80,217.66 L660.10,217.66 L660.40,217.66 L660.70,217.66 L661.00,217.66 L661.30,217.66 L661.60,217.66 L661.90,217.66 L662.20,217.66 L662.50,217.66 L662.80,217.66 L663.10,217.66 L663.40,217.66 L663.70,217.66 L664.00,217.66 L664.30,217.66 L664.60,217.66 L664.90,217.66 L665.20,217.66 L665.50,217.66 L665.80,217.66 L666.10,217.66 L666.40,217.66 L666.70,217.66 L667.00,217.66 L667.30,217.66 L667.60,217.66 L667.90,217.66 L668.20,217.66 L668.50,217.66 L668.80,217.65 L669.10,217.65 L669.40,217.65 L669.70,217.65 L670.00,217.65 L670.30,217.65 L670.60,217.65 L670.90,217.65 L671.20,217.65 L671.50,217.65 L671.80,217.65 L672.10,217.65 L672.40,217.65 L672.70,217.65 L673.00,217.65 L673.30,217.65 L673.60,217.65 L673.90,217.65 L674.20,217.65" fill="none" stroke="#333" stroke-width="1.0" stroke-linejoin="round" />
<path d="M526.00,394.12 L526.30,391.32 L526.60,388.45 L526.90,385.54 L527.20,382.61 L527.50,379.70 L527.80,376.82 L528.10,374.01 L528.40,371.29 L528.70,368.69 L529.00,366.24 L529.30,363.95 L529.60,361.73 L529.90,359.55 L530.20,357.40 L530.50,355.28 L530.80,353.20 L531.10,351.15 L531.40,349.13 L531.70,347.14 L532.00,345.18 L532.30,343.25 L532.60,341.34 L532.90,339.46 L533.20,337.61 L533.50,335.78 L533.80,333.97 L534.10,332.18 L534.40,330.42 L534.70,328.67 L535.00,326.94 L535.30,325.23 L535.60,323.54 L535.90,321.86 L536.20,320.20 L536.50,318.55 L536.80,316.92 L537.10,315.30 L537.40,313.68 L537.70,312.08 L538.00,310.49 L538.30,308.90 L538.60,307.32 L538.90,305.75 L539.20,304.18 L539.50,302.61 L539.80,301.05 L540.10,299.49 L540.40,297.93 L540.70,296.37 L541.00,294.80 L541.30,293.24 L541.60,291.67 L541.90,290.10 L542.20,288.51 L542.50,286.91 L542.80,285.30 L543.10,283.68 L543.40,282.06 L543.70,280.44 L544.00,278.82 L544.30,277.21 L544.60,275.60 L544.90,274.01 L545.20,272.44 L545.50,270.89 L545.80,269.35 L546.10,267.85 L546.40,266.37 L546.70,264.92 L547.00,263.51 L547.30,262.14 L547.60,260.81 L547.90,259.52 L548.20,258.28 L548.50,257.09 L548.80,255.95 L549.10,254.88 L549.40,253.86 L549.70,252.90 L550.00,251.99 L550.30,251.10 L550.60,250.23 L550.90,249.38 L551.20,248.55 L551.50,247.73 L551.80,246.94 L552.10,246.16 L552.40,245.40 L552.70,244.66 L553.00,243.94 L553.30,243.23 L553.60,242.54 L553.90,241.86 L554.20,241.20 L554.50,240.56 L554.80,239.93 L555.10,239.32 L555.40,238.72 L555.70,238.14 L556.00,237.57 L556.30,237.01 L556.60,236.47 L556.90,235.94 L557.20,235.42 L557.50,234.91 L557.80,234.42 L558.10,233.94 L558.40,233.47 L558.70,233.00 L559.00,232.55 L559.30,232.10 L559.60,231.65 L559.90,231.22 L560.20,230.79 L560.50,230.37 L560.80,229.96 L561.10,229.55 L561.40,229.16 L561.70,228.77 L562.00,228.40 L562.30,228.03 L562.60,227.67 L562.90,227.33 L563.20,226.99 L563.50,226.66 L563.80,226.34 L564.10,226.04 L564.40,225.74 L564.70,225.46 L565.00,225.18 L565.30,224.92 L565.60,224.67 L565.90,224.44 L566.20,224.20 L566.50,223.97 L566.80,223.75 L567.10,223.53 L567.40,223.31 L567.70,223.10 L568.00,222.89 L568.30,222.68 L568.60,222.48 L568.90,222.29 L569.20,222.09 L569.50,221.91 L569.80,221.73 L570.10,221.55 L570.40,221.38 L570.70,221.22 L571.00,221.06 L571.30,220.90 L571.60,220.76 L571.90,220.61 L572.20,220.48 L572.50,220.35 L572.80,220.23 L573.10,220.11 L573.40,220.00 L573.70,219.90 L574.00,219.81 L574.30,219.72 L574.60,219.62 L574.90,219.53 L575.20,219.44 L575.50,219.36 L575.80,219.27 L576.10,219.18 L576.40,219.10 L576.70,219.01 L577.00,218.93 L577.30,218.85 L577.60,218.77 L577.90,218.70 L578.20,218.63 L578.50,218.56 L578.80,218.49 L579.10,218.42 L579.40,218.36 L579.70,218.31 L580.00,218.25 L580.30,218.20 L580.60,218.16 L580.90,218.12 L581.20,218.08 L581.50,218.05 L581.80,218.02 L582.10,218.00 L582.40,217.98 L582.70,217.97 L583.00,217.97 L583.30,217.97 L583.60,217.96 L583.90,217.96 L584.20,217.96 L584.50,217.96 L584.80,217.95 L585.10,217.95 L585.40,217.95 L585.70,217.95 L586.00,217.94 L586.30,217.94 L586.60,217.94 L586.90,217.94 L587.20,217.93 L587.50,217.93 L587.80,217.93 L588.10,217.93 L588.40,217.92 L588.70,217.92 L589.00,217.92 L589.30,217.92 L589.60,217.92 L589.90,217.91 L590.20,217.91 L590.50,217.91 L590.80,217.91 L591.10,217.90 L591.40,217.90 L591.70,217.90 L592.00,217.90 L592.30,217.90 L592.60,217.89 L592.90,217.89 L593.20,217.89 L593.50,217.89 L593.80,217.89 L594.10,217.88 L594.40,217.88 L594.70,217.88 L595.00,217.88 L595.30,217.88 L595.60,217.87 L595.90,217.87 L596.20,217.87 L596.50,217.87 L596.80,217.87 L597.10,217.86 L597.40,217.86 L597.70,217.86 L598.00,217.86 L598.30,217.86 L598.60,217.86 L598.90,217.85 L599.20,217.85 L599.50,217.85 L599.80,217.85 L600.10,217.85 L600.40,217.84 L600.70,217.84 L601.00,217.84 L601.30,217.84 L601.60,217.84 L601.90,217.84 L602.20,217.83 L602.50,217.83 L602.80,217.83 L603.10,217.83 L603.40,217.83 L603.70,217.83 L604.00,217.83 L604.30,217.82 L604.60,217.82 L604.90,217.82 L605.20,217.82 L605.50,217.82 L605.80,217.82 L606.10,217.81 L606.40,217.81 L606.70,217.81 L607.00,217.81 L607.30,217.81 L607.60,217.81 L607.90,217.81 L608.20,217.80 L608.50,217.80 L608.80,217.80 L609.10,217.80 L609.40,217.80 L609.70,217.80 L610.00,217.80 L610.30,217.79 L610.60,217.79 L610.90,217.79 L611.20,217.79 L611.50,217.79 L611.80,217.79 L612.10,217.79 L612.40,217.79 L612.70,217.78 L613.00,217.78 L613.30,217.78 L613.60,217.78 L613.90,217.78 L614.20,217.78 L614.50,217.78 L614.80,217.78 L615.10,217.78 L615.40,217.77 L615.70,217.77 L616.00,217.77 L616.30,217.77 L616.60,217.77 L616.90,217.77 L617.20,217.77 L617.50,217.77 L617.80,217.77 L618.10,217.76 L618.40,217.76 L618.70,217.76 L619.00,217.76 L619.30,217.76 L619.60,217.76 L619.90,217.76 L620.20,217.76 L620.50,217.76 L620.80,217.76 L621.10,217.75 L621.40,217.75 L621.70,217.75 L622.00,217.75 L622.30,217.75 L622.60,217.75 L622.90,217.75 L623.20,217.75 L623.50,217.75 L623.80,217.75 L624.10,217.74 L624.40,217.74 L624.70,217.74 L625.00,217.74 L625.30,217.74 L625.60,217.74 L625.90,217.74 L626.20,217.74 L626.50,217.74 L626.80,217.74 L627.10,217.74 L627.40,217.74 L627.70,217.73 L628.00,217.73 L628.30,217.73 L628.60,217.73 L628.90,217.73 L629.20,217.73 L629.50,217.73 L629.80,217.73 L630.10,217.73 L630.40,217.73 L630.70,217.73 L631.00,217.73 L631.30,217.73 L631.60,217.72 L631.90,217.72 L632.20,217.72 L632.50,217.72 L632.80,217.72 L633.10,217.72 L633.40,217.72 L633.70,217.72 L634.00,217.72 L634.30,217.72 L634.60,217.72 L634.90,217.72 L635.20,217.72 L635.50,217.72 L635.80,217.72 L636.10,217.71 L636.40,217.71 L636.70,217.71 L637.00,217.71 L637.30,217.71 L637.60,217.71 L637.90,217.71 L638.20,217.71 L638.50,217.71 L638.80,217.71 L639.10,217.71 L639.40,217.71 L639.70,217.71 L640.00,217.71 L640.30,217.71 L640.60,217.71 L640.90,217.71 L641.20,217.71 L641.50,217.70 L641.80,217.70 L642.10,217.70 L642.40,217.70 L642.70,217.70 L643.00,217.70 L643.30,217.70 L643.60,217.70 L643.90,217.70 L644.20,217.70 L644.50,217.70 L644.80,217.70 L645.10,217.70 L645.40,217.70 L645.70,217.70 L646.00,217.70 L646.30,217.70 L646.60,217.70 L646.90,217.70 L647.20,217.70 L647.50,217.69 L647.80,217.69 L648.10,217.69 L648.40,217.69 L648.70,217.69 L649.00,217.69 L649.30,217.69 L649.60,217.69 L649.90,217.69 L650.20,217.69 L650.50,217.69 L650.80,217.69 L651.10,217.69 L651.40,217.69 L651.70,217.69 L652.00,217.69 L652.30,217.69 L652.60,217.69 L652.90,217.69 L653.20,217.69 L653.50,217.69 L653.80,217.69 L654.10,217.68 L654.40,217.68 L654.70,217.68 L655.00,217.68 L655.30,217.68 L655.60,217.68 L655.90,217.68 L656.20,217.68 L656.50,217.68 L656.80,217.68 L657.10,217.68 L657.40,217.68 L657.70,217.68 L658.00,217.68 L658.30,217.68 L658.60,217.68 L658.90,217.68 L659.20,217.68 L659.50,217.68 L659.80,217.68 L660.10,217.68 L660.40,217.68 L660.70,217.68 L661.00,217.68 L661.30,217.68 L661.60,217.67 L661.90,217.67 L662.20,217.67 L662.50,217.67 L662.80,217.67 L663.10,217.67 L663.40,217.67 L663.70,217.67 L664.00,217.67 L664.30,217.67 L664.60,217.67 L664.90,217.67 L665.20,217.67 L665.50,217.67 L665.80,217.67 L666.10,217.67 L666.40,217.67 L666.70,217.67 L667.00,217.67 L667.30,217.67 L667.60,217.67 L667.90,217.67 L668.20,217.67 L668.50,217.67 L668.80,217.66 L669.10,217.66 L669.40,217.66 L669.70,217.66 L670.00,217.66 L670.30,217.66 L670.60,217.66 L670.90,217.66 L671.20,217.66 L671.50,217.66 L671.80,217.66 L672.10,217.66 L672.40,217.66 L672.70,217.66 L673.00,217.66 L673.30,217.66 L673.60,217.66 L673.90,217.66 L674.20,217.66" fill="none" stroke="#55BDEB" stroke-width="1.0" stroke-linejoin="round" />
<path d="M508.00,394.12 L508.30,391.24 L508.60,388.32 L508.90,385.38 L509.20,382.42 L509.50,379.48 L509.80,376.56 L510.10,373.69 L510.40,370.89 L510.70,368.16 L511.00,365.55 L511.30,363.03 L511.60,360.55 L511.90,358.11 L512.20,355.71 L512.50,353.33 L512.80,350.99 L513.10,348.68 L513.40,346.39 L513.70,344.13 L514.00,341.90 L514.30,339.69 L514.60,337.50 L514.90,335.33 L515.20,333.18 L515.50,331.05 L515.80,328.94 L516.10,326.83 L516.40,324.75 L516.70,322.67 L517.00,320.60 L517.30,318.54 L517.60,316.49 L517.90,314.45 L518.20,312.40 L518.50,310.36 L518.80,308.32 L519.10,306.28 L519.40,304.24 L519.70,302.19 L520.00,300.14 L520.30,298.08 L520.60,296.01 L520.90,293.94 L521.20,291.85 L521.50,289.73 L521.80,287.51 L522.10,285.22 L522.40,282.87 L522.70,280.47 L523.00,278.05 L523.30,275.63 L523.60,273.22 L523.90,270.84 L524.20,268.51 L524.50,266.25 L524.80,264.08 L525.10,262.02 L525.40,260.08 L525.70,258.28 L526.00,256.65 L526.30,255.20 L526.60,253.94 L526.90,252.90 L527.20,252.00 L527.50,251.13 L527.80,250.29 L528.10,249.49 L528.40,248.72 L528.70,247.97 L529.00,247.26 L529.30,246.57 L529.60,245.91 L529.90,245.27 L530.20,244.66 L530.50,244.07 L530.80,243.50 L531.10,242.94 L531.40,242.41 L531.70,241.90 L532.00,241.40 L532.30,240.91 L532.60,240.44 L532.90,239.98 L533.20,239.53 L533.50,239.09 L533.80,238.65 L534.10,238.23 L534.40,237.81 L534.70,237.39 L535.00,236.98 L535.30,236.57 L535.60,236.16 L535.90,235.75 L536.20,235.33 L536.50,234.92 L536.80,234.50 L537.10,234.07 L537.40,233.64 L537.70,233.20 L538.00,232.77 L538.30,232.34 L538.60,231.91 L538.90,231.48 L539.20,231.06 L539.50,230.65 L539.80,230.23 L540.10,229.83 L540.40,229.43 L540.70,229.03 L541.00,228.65 L541.30,228.27 L541.60,227.90 L541.90,227.53 L542.20,227.18 L542.50,226.84 L542.80,226.50 L543.10,226.18 L543.40,225.87 L543.70,225.57 L544.00,225.29 L544.30,225.02 L544.60,224.76 L544.90,224.51 L545.20,224.28 L545.50,224.05 L545.80,223.82 L546.10,223.59 L546.40,223.37 L546.70,223.15 L547.00,222.94 L547.30,222.73 L547.60,222.53 L547.90,222.33 L548.20,222.13 L548.50,221.94 L548.80,221.76 L549.10,221.58 L549.40,221.41 L549.70,221.24 L550.00,221.08 L550.30,220.92 L550.60,220.77 L550.90,220.62 L551.20,220.49 L551.50,220.36 L551.80,220.23 L552.10,220.11 L552.40,220.00 L552.70,219.90 L553.00,219.81 L553.30,219.72 L553.60,219.62 L553.90,219.53 L554.20,219.44 L554.50,219.35 L554.80,219.27 L555.10,219.18 L555.40,219.09 L555.70,219.01 L556.00,218.93 L556.30,218.85 L556.60,218.77 L556.90,218.70 L557.20,218.62 L557.50,218.55 L557.80,218.49 L558.10,218.42 L558.40,218.36 L558.70,218.30 L559.00,218.25 L559.30,218.20 L559.60,218.16 L559.90,218.12 L560.20,218.08 L560.50,218.05 L560.80,218.02 L561.10,218.00 L561.40,217.98 L561.70,217.97 L562.00,217.97 L562.30,217.97 L562.60,217.96 L562.90,217.96 L563.20,217.96 L563.50,217.96 L563.80,217.95 L564.10,217.95 L564.40,217.95 L564.70,217.95 L565.00,217.95 L565.30,217.94 L565.60,217.94 L565.90,217.94 L566.20,217.94 L566.50,217.94 L566.80,217.93 L567.10,217.93 L567.40,217.93 L567.70,217.93 L568.00,217.93 L568.30,217.92 L568.60,217.92 L568.90,217.92 L569.20,217.92 L569.50,217.92 L569.80,217.91 L570.10,217.91 L570.40,217.91 L570.70,217.91 L571.00,217.91 L571.30,217.91 L571.60,217.90 L571.90,217.90 L572.20,217.90 L572.50,217.90 L572.80,217.90 L573.10,217.89 L573.40,217.89 L573.70,217.89 L574.00,217.89 L574.30,217.89 L574.60,217.89 L574.90,217.88 L575.20,217.88 L575.50,217.88 L575.80,217.88 L576.10,217.88 L576.40,217.88 L576.70,217.87 L577.00,217.87 L577.30,217.87 L577.60,217.87 L577.90,217.87 L578.20,217.87 L578.50,217.86 L578.80,217.86 L579.10,217.86 L579.40,217.86 L579.70,217.86 L580.00,217.86 L580.30,217.85 L580.60,217.85 L580.90,217.85 L581.20,217.85 L581.50,217.85 L581.80,217.85 L582.10,217.85 L582.40,217.84 L582.70,217.84 L583.00,217.84 L583.30,217.84 L583.60,217.84 L583.90,217.84 L584.20,217.84 L584.50,217.83 L584.80,217.83 L585.10,217.83 L585.40,217.83 L585.70,217.83 L586.00,217.83 L586.30,217.83 L586.60,217.82 L586.90,217.82 L587.20,217.82 L587.50,217.82 L587.80,217.82 L588.10,217.82 L588.40,217.82 L588.70,217.82 L589.00,217.81 L589.30,217.81 L589.60,217.81 L589.90,217.81 L590.20,217.81 L590.50,217.81 L590.80,217.81 L591.10,217.81 L591.40,217.80 L591.70,217.80 L592.00,217.80 L592.30,217.80 L592.60,217.80 L592.90,217.80 L593.20,217.80 L593.50,217.80 L593.80,217.79 L594.10,217.79 L594.40,217.79 L594.70,217.79 L595.00,217.79 L595.30,217.79 L595.60,217.79 L595.90,217.79 L596.20,217.79 L596.50,217.78 L596.80,217.78 L597.10,217.78 L597.40,217.78 L597.70,217.78 L598.00,217.78 L598.30,217.78 L598.60,217.78 L598.90,217.78 L599.20,217.78 L599.50,217.77 L599.80,217.77 L600.10,217.77 L600.40,217.77 L600.70,217.77 L601.00,217.77 L601.30,217.77 L601.60,217.77 L601.90,217.77 L602.20,217.77 L602.50,217.76 L602.80,217.76 L603.10,217.76 L603.40,217.76 L603.70,217.76 L604.00,217.76 L604.30,217.76 L604.60,217.76 L604.90,217.76 L605.20,217.76 L605.50,217.76 L605.80,217.76 L606.10,217.75 L606.40,217.75 L606.70,217.75 L607.00,217.75 L607.30,217.75 L607.60,217.75 L607.90,217.75 L608.20,217.75 L608.50,217.75 L608.80,217.75 L609.10,217.75 L609.40,217.75 L609.70,217.74 L610.00,217.74 L610.30,217.74 L610.60,217.74 L610.90,217.74 L611.20,217.74 L611.50,217.74 L611.80,217.74 L612.10,217.74 L612.40,217.74 L612.70,217.74 L613.00,217.74 L613.30,217.74 L613.60,217.74 L613.90,217.73 L614.20,217.73 L614.50,217.73 L614.80,217.73 L615.10,217.73 L615.40,217.73 L615.70,217.73 L616.00,217.73 L616.30,217.73 L616.60,217.73 L616.90,217.73 L617.20,217.73 L617.50,217.73 L617.80,217.73 L618.10,217.73 L618.40,217.72 L618.70,217.72 L619.00,217.72 L619.30,217.72 L619.60,217.72 L619.90,217.72 L620.20,217.72 L620.50,217.72 L620.80,217.72 L621.10,217.72 L621.40,217.72 L621.70,217.72 L622.00,217.72 L622.30,217.72 L622.60,217.72 L622.90,217.72 L623.20,217.72 L623.50,217.72 L623.80,217.71 L624.10,217.71 L624.40,217.71 L624.70,217.71 L625.00,217.71 L625.30,217.71 L625.60,217.71 L625.90,217.71 L626.20,217.71 L626.50,217.71 L626.80,217.71 L627.10,217.71 L627.40,217.71 L627.70,217.71 L628.00,217.71 L628.30,217.71 L628.60,217.71 L628.90,217.71 L629.20,217.71 L629.50,217.71 L629.80,217.70 L630.10,217.70 L630.40,217.70 L630.70,217.70 L631.00,217.70 L631.30,217.70 L631.60,217.70 L631.90,217.70 L632.20,217.70 L632.50,217.70 L632.80,217.70 L633.10,217.70 L633.40,217.70 L633.70,217.70 L634.00,217.70 L634.30,217.70 L634.60,217.70 L634.90,217.70 L635.20,217.70 L635.50,217.70 L635.80,217.70 L636.10,217.70 L636.40,217.70 L636.70,217.69 L637.00,217.69 L637.30,217.69 L637.60,217.69 L637.90,217.69 L638.20,217.69 L638.50,217.69 L638.80,217.69 L639.10,217.69 L639.40,217.69 L639.70,217.69 L640.00,217.69 L640.30,217.69 L640.60,217.69 L640.90,217.69 L641.20,217.69 L641.50,217.69 L641.80,217.69 L642.10,217.69 L642.40,217.69 L642.70,217.69 L643.00,217.69 L643.30,217.69 L643.60,217.69 L643.90,217.69 L644.20,217.69 L644.50,217.69 L644.80,217.68 L645.10,217.68 L645.40,217.68 L645.70,217.68 L646.00,217.68 L646.30,217.68 L646.60,217.68 L646.90,217.68 L647.20,217.68 L647.50,217.68 L647.80,217.68 L648.10,217.68 L648.40,217.68 L648.70,217.68 L649.00,217.68 L649.30,217.68 L649.60,217.68 L649.90,217.68 L650.20,217.68 L650.50,217.68 L650.80,217.68 L651.10,217.68 L651.40,217.68 L651.70,217.68 L652.00,217.68 L652.30,217.68 L652.60,217.68 L652.90,217.68 L653.20,217.68 L653.50,217.68 L653.80,217.67 L654.10,217.67 L654.40,217.67 L654.70,217.67 L655.00,217.67 L655.30,217.67 L655.60,217.67 L655.90,217.67 L656.20,217.67 L656.50,217.67 L656.80,217.67 L657.10,217.67 L657.40,217.67 L657.70,217.67 L658.00,217.67 L658.30,217.67 L658.60,217.67 L658.90,217.67 L659.20,217.67 L659.50,217.67 L659.80,217.67 L660.10,217.67 L660.40,217.67 L660.70,217.67 L661.00,217.67 L661.30,217.67 L661.60,217.67 L661.90,217.67 L662.20,217.67 L662.50,217.67 L662.80,217.66 L663.10,217.66 L663.40,217.66 L663.70,217.66 L664.00,217.66 L664.30,217.66 L664.60,217.66 L664.90,217.66 L665.20,217.66 L665.50,217.66 L665.80,217.66 L666.10,217.66 L666.40,217.66 L666.70,217.66 L667.00,217.66 L667.30,217.66 L667.60,217.66 L667.90,217.66 L668.20,217.66 L668.50,217.66 L668.80,217.66 L669.10,217.66 L669.40,217.66 L669.70,217.66 L670.00,217.66 L670.30,217.66 L670.60,217.66 L670.90,217.65 L671.20,217.65 L671.50,217.65 L671.80,217.65 L672.10,217.65 L672.40,217.65 L672.70,217.65 L673.00,217.65 L673.30,217.65 L673.60,217.65 L673.90,217.65 L674.20,217.65" fill="none" stroke="#4A55F0" stroke-width="1.1" stroke-linejoin="round" />
</g>
<text x="492.50" y="229.80" font-size="10.5" text-anchor="start" ><tspan>with O</tspan><tspan font-size="7.14" dy="2.52">2</tspan></text>
<text x="507.30" y="253.00" font-size="10" text-anchor="start" >CN</text>
<text x="530.20" y="253.00" font-size="10" text-anchor="start" >BCN</text>
<text x="555.80" y="253.00" font-size="10" text-anchor="start" >BCN-FeOOH</text>
<line x1="564.10" y1="271.80" x2="564.10" y2="351.90" stroke="#3a3a3a" stroke-width="0.9" />
<line x1="564.10" y1="351.90" x2="668.60" y2="351.90" stroke="#3a3a3a" stroke-width="0.9" />
<line x1="561.90" y1="351.90" x2="564.10" y2="351.90" stroke="#3a3a3a" stroke-width="0.9" />
<text x="561.70" y="355.20" font-size="9.2" text-anchor="end" >0.0</text>
<line x1="562.80" y1="338.55" x2="564.10" y2="338.55" stroke="#3a3a3a" stroke-width="0.8" />
<line x1="561.90" y1="325.20" x2="564.10" y2="325.20" stroke="#3a3a3a" stroke-width="0.9" />
<text x="561.70" y="328.50" font-size="9.2" text-anchor="end" >0.2</text>
<line x1="562.80" y1="311.85" x2="564.10" y2="311.85" stroke="#3a3a3a" stroke-width="0.8" />
<line x1="561.90" y1="298.50" x2="564.10" y2="298.50" stroke="#3a3a3a" stroke-width="0.9" />
<text x="561.70" y="301.80" font-size="9.2" text-anchor="end" >0.4</text>
<line x1="562.80" y1="285.15" x2="564.10" y2="285.15" stroke="#3a3a3a" stroke-width="0.8" />
<line x1="561.90" y1="271.80" x2="564.10" y2="271.80" stroke="#3a3a3a" stroke-width="0.9" />
<text x="561.70" y="275.10" font-size="9.2" text-anchor="end" >0.6</text>
<line x1="564.10" y1="351.90" x2="564.10" y2="354.10" stroke="#3a3a3a" stroke-width="0.9" />
<text x="564.10" y="361.70" font-size="9.2" text-anchor="middle" >1.0</text>
<line x1="581.38" y1="351.90" x2="581.38" y2="353.20" stroke="#3a3a3a" stroke-width="0.8" />
<line x1="598.67" y1="351.90" x2="598.67" y2="354.10" stroke="#3a3a3a" stroke-width="0.9" />
<text x="598.67" y="361.70" font-size="9.2" text-anchor="middle" >1.2</text>
<line x1="615.95" y1="351.90" x2="615.95" y2="353.20" stroke="#3a3a3a" stroke-width="0.8" />
<line x1="633.23" y1="351.90" x2="633.23" y2="354.10" stroke="#3a3a3a" stroke-width="0.9" />
<text x="633.23" y="361.70" font-size="9.2" text-anchor="middle" >1.4</text>
<line x1="650.52" y1="351.90" x2="650.52" y2="353.20" stroke="#3a3a3a" stroke-width="0.8" />
<line x1="667.80" y1="351.90" x2="667.80" y2="354.10" stroke="#3a3a3a" stroke-width="0.9" />
<text x="667.80" y="361.70" font-size="9.2" text-anchor="middle" >1.6</text>
<line x1="668.60" y1="345.90" x2="668.60" y2="351.90" stroke="#3a3a3a" stroke-width="0.9" />
<path d="M564.10,351.23 L564.79,351.22 L565.48,351.21 L566.17,351.20 L566.87,351.19 L567.56,351.18 L568.25,351.17 L568.94,351.16 L569.63,351.15 L570.32,351.14 L571.01,351.13 L571.70,351.12 L572.40,351.10 L573.09,351.09 L573.78,351.08 L574.47,351.07 L575.16,351.06 L575.85,351.05 L576.54,351.03 L577.24,351.02 L577.93,351.01 L578.62,350.99 L579.31,350.98 L580.00,350.97 L580.69,350.95 L581.38,350.94 L582.07,350.92 L582.77,350.91 L583.46,350.89 L584.15,350.87 L584.84,350.85 L585.53,350.84 L586.22,350.82 L586.91,350.80 L587.61,350.78 L588.30,350.76 L588.99,350.73 L589.68,350.71 L590.37,350.69 L591.06,350.66 L591.75,350.63 L592.44,350.61 L593.14,350.58 L593.83,350.55 L594.52,350.51 L595.21,350.48 L595.90,350.45 L596.59,350.41 L597.28,350.37 L597.98,350.33 L598.67,350.29 L599.36,350.25 L600.05,350.20 L600.74,350.16 L601.43,350.11 L602.12,350.05 L602.81,350.00 L603.51,349.94 L604.20,349.89 L604.89,349.82 L605.58,349.76 L606.27,349.69 L606.96,349.62 L607.65,349.55 L608.35,349.48 L609.04,349.40 L609.73,349.31 L610.42,349.23 L611.11,349.14 L611.80,349.04 L612.49,348.94 L613.18,348.84 L613.88,348.73 L614.57,348.62 L615.26,348.50 L615.95,348.37 L616.64,348.23 L617.33,348.08 L618.02,347.92 L618.72,347.74 L619.41,347.55 L620.10,347.35 L620.79,347.14 L621.48,346.92 L622.17,346.69 L622.86,346.44 L623.55,346.19 L624.25,345.92 L624.94,345.65 L625.63,345.37 L626.32,345.09 L627.01,344.80 L627.70,344.51 L628.39,344.21 L629.09,343.90 L629.78,343.58 L630.47,343.24 L631.16,342.90 L631.85,342.54 L632.54,342.17 L633.23,341.78 L633.92,341.38 L634.62,340.95 L635.31,340.50 L636.00,340.02 L636.69,339.51 L637.38,338.98 L638.07,338.40 L638.76,337.79 L639.46,337.13 L640.15,336.42 L640.84,335.67 L641.53,334.86 L642.22,334.01 L642.91,333.11 L643.60,332.16 L644.29,331.15 L644.99,330.10 L645.68,329.00 L646.37,327.86 L647.06,326.67 L647.75,325.43 L648.44,324.16 L649.13,322.86 L649.83,321.52 L650.52,320.10 L651.21,318.61 L651.90,317.05 L652.59,315.42 L653.28,313.71 L653.97,311.94 L654.66,310.11 L655.36,308.22 L656.05,306.28 L656.74,304.30 L657.43,302.27 L658.12,300.22 L658.81,298.16 L659.50,296.08 L660.20,294.02 L660.89,291.99 L661.58,289.99 L662.27,288.03 L662.96,286.09 L663.65,284.16 L664.34,282.23 L665.03,280.28 L665.73,278.28 L666.42,276.22 L667.11,274.07 L667.80,271.80" fill="none" stroke="#B38CD9" stroke-width="0.9" stroke-linejoin="round" />
<path d="M564.10,351.50 L564.79,351.50 L565.48,351.50 L566.17,351.50 L566.87,351.50 L567.56,351.50 L568.25,351.49 L568.94,351.49 L569.63,351.49 L570.32,351.49 L571.01,351.49 L571.70,351.49 L572.40,351.49 L573.09,351.49 L573.78,351.49 L574.47,351.49 L575.16,351.49 L575.85,351.49 L576.54,351.49 L577.24,351.49 L577.93,351.49 L578.62,351.49 L579.31,351.48 L580.00,351.48 L580.69,351.48 L581.38,351.48 L582.07,351.48 L582.77,351.48 L583.46,351.48 L584.15,351.48 L584.84,351.48 L585.53,351.48 L586.22,351.48 L586.91,351.48 L587.61,351.48 L588.30,351.48 L588.99,351.48 L589.68,351.48 L590.37,351.47 L591.06,351.47 L591.75,351.47 L592.44,351.47 L593.14,351.47 L593.83,351.47 L594.52,351.47 L595.21,351.47 L595.90,351.47 L596.59,351.47 L597.28,351.47 L597.98,351.47 L598.67,351.47 L599.36,351.46 L600.05,351.46 L600.74,351.46 L601.43,351.46 L602.12,351.46 L602.81,351.46 L603.51,351.46 L604.20,351.46 L604.89,351.46 L605.58,351.45 L606.27,351.45 L606.96,351.45 L607.65,351.45 L608.35,351.45 L609.04,351.45 L609.73,351.45 L610.42,351.45 L611.11,351.44 L611.80,351.44 L612.49,351.44 L613.18,351.44 L613.88,351.44 L614.57,351.44 L615.26,351.43 L615.95,351.43 L616.64,351.43 L617.33,351.43 L618.02,351.43 L618.72,351.42 L619.41,351.42 L620.10,351.42 L620.79,351.41 L621.48,351.41 L622.17,351.40 L622.86,351.40 L623.55,351.39 L624.25,351.39 L624.94,351.38 L625.63,351.37 L626.32,351.37 L627.01,351.36 L627.70,351.35 L628.39,351.33 L629.09,351.31 L629.78,351.30 L630.47,351.27 L631.16,351.25 L631.85,351.22 L632.54,351.19 L633.23,351.15 L633.92,351.12 L634.62,351.08 L635.31,351.03 L636.00,350.98 L636.69,350.93 L637.38,350.88 L638.07,350.82 L638.76,350.75 L639.46,350.66 L640.15,350.56 L640.84,350.44 L641.53,350.31 L642.22,350.15 L642.91,349.98 L643.60,349.78 L644.29,349.55 L644.99,349.30 L645.68,349.03 L646.37,348.73 L647.06,348.40 L647.75,348.06 L648.44,347.70 L649.13,347.32 L649.83,346.94 L650.52,346.52 L651.21,346.08 L651.90,345.61 L652.59,345.10 L653.28,344.57 L653.97,343.99 L654.66,343.38 L655.36,342.73 L656.05,342.03 L656.74,341.29 L657.43,340.50 L658.12,339.66 L658.81,338.77 L659.50,337.82 L660.20,336.81 L660.89,335.74 L661.58,334.61 L662.27,333.43 L662.96,332.20 L663.65,330.89 L664.34,329.52 L665.03,328.06 L665.73,326.51 L666.42,324.86 L667.11,323.10 L667.80,321.19" fill="none" stroke="#4A55F0" stroke-width="1.0" stroke-linejoin="round" />
<path d="M564.10,351.63 L564.79,351.63 L565.48,351.63 L566.17,351.63 L566.87,351.63 L567.56,351.63 L568.25,351.62 L568.94,351.62 L569.63,351.62 L570.32,351.62 L571.01,351.62 L571.70,351.62 L572.40,351.62 L573.09,351.62 L573.78,351.61 L574.47,351.61 L575.16,351.61 L575.85,351.61 L576.54,351.61 L577.24,351.61 L577.93,351.61 L578.62,351.61 L579.31,351.60 L580.00,351.60 L580.69,351.60 L581.38,351.60 L582.07,351.60 L582.77,351.60 L583.46,351.60 L584.15,351.59 L584.84,351.59 L585.53,351.59 L586.22,351.59 L586.91,351.59 L587.61,351.59 L588.30,351.59 L588.99,351.59 L589.68,351.58 L590.37,351.58 L591.06,351.58 L591.75,351.58 L592.44,351.58 L593.14,351.58 L593.83,351.57 L594.52,351.57 L595.21,351.57 L595.90,351.57 L596.59,351.57 L597.28,351.57 L597.98,351.56 L598.67,351.56 L599.36,351.56 L600.05,351.56 L600.74,351.56 L601.43,351.55 L602.12,351.55 L602.81,351.55 L603.51,351.55 L604.20,351.55 L604.89,351.54 L605.58,351.54 L606.27,351.54 L606.96,351.54 L607.65,351.53 L608.35,351.53 L609.04,351.53 L609.73,351.53 L610.42,351.52 L611.11,351.52 L611.80,351.52 L612.49,351.52 L613.18,351.51 L613.88,351.51 L614.57,351.51 L615.26,351.50 L615.95,351.50 L616.64,351.50 L617.33,351.49 L618.02,351.49 L618.72,351.48 L619.41,351.48 L620.10,351.48 L620.79,351.47 L621.48,351.47 L622.17,351.46 L622.86,351.46 L623.55,351.45 L624.25,351.44 L624.94,351.44 L625.63,351.43 L626.32,351.42 L627.01,351.42 L627.70,351.41 L628.39,351.40 L629.09,351.39 L629.78,351.38 L630.47,351.37 L631.16,351.36 L631.85,351.35 L632.54,351.34 L633.23,351.33 L633.92,351.32 L634.62,351.31 L635.31,351.29 L636.00,351.28 L636.69,351.26 L637.38,351.25 L638.07,351.23 L638.76,351.21 L639.46,351.18 L640.15,351.15 L640.84,351.12 L641.53,351.08 L642.22,351.03 L642.91,350.98 L643.60,350.92 L644.29,350.86 L644.99,350.80 L645.68,350.73 L646.37,350.65 L647.06,350.57 L647.75,350.49 L648.44,350.41 L649.13,350.32 L649.83,350.23 L650.52,350.14 L651.21,350.04 L651.90,349.94 L652.59,349.83 L653.28,349.72 L653.97,349.60 L654.66,349.47 L655.36,349.33 L656.05,349.19 L656.74,349.03 L657.43,348.87 L658.12,348.69 L658.81,348.50 L659.50,348.29 L660.20,348.07 L660.89,347.83 L661.58,347.57 L662.27,347.29 L662.96,346.98 L663.65,346.64 L664.34,346.27 L665.03,345.88 L665.73,345.46 L666.42,345.01 L667.11,344.53 L667.80,344.02" fill="none" stroke="#333" stroke-width="0.8" stroke-linejoin="round" />
<line x1="577.80" y1="327.00" x2="577.80" y2="343.20" stroke="#B38CD9" stroke-width="0.9" />
<line x1="588.30" y1="327.00" x2="588.30" y2="343.20" stroke="#4A55F0" stroke-width="0.9" />
<line x1="597.20" y1="327.00" x2="597.20" y2="343.20" stroke="#333" stroke-width="0.8" />
<line x1="597.20" y1="345.40" x2="575.80" y2="345.40" stroke="#111" stroke-width="0.7" />
<path d="M575.80,345.40 L579.00,344.10 L579.00,346.70 Z" fill="#111"/>
<text transform="translate(580.90,325.00) rotate(-90) scale(1.0,1)" font-size="7.2" text-anchor="start" ><tspan>CoO</tspan><tspan font-size="5.2" dy="1.73" font-style="italic">x</tspan><tspan dy="-1.73">-BCN</tspan></text>
<text transform="translate(590.90,325.00) rotate(-90) scale(1.0,1)" font-size="7.4" text-anchor="start" >BCN</text>
<text transform="translate(600.30,325.00) rotate(-90) scale(1.0,1)" font-size="7.4" text-anchor="start" >CN</text>
</svg></body></html>
